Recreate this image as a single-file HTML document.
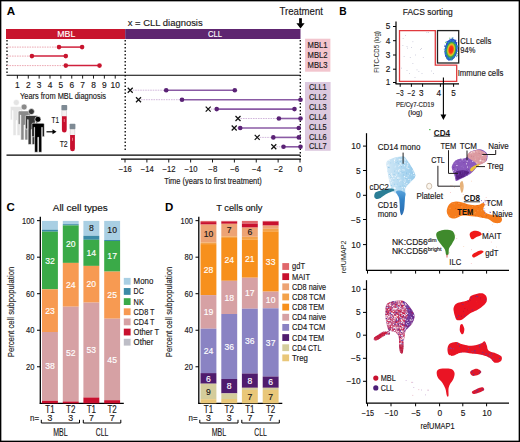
<!DOCTYPE html>
<html><head><meta charset="utf-8"><style>
html,body{margin:0;padding:0;background:#fff;}
svg{display:block;font-family:"Liberation Sans",sans-serif;}
</style></head><body>
<svg width="520" height="442" viewBox="0 0 520 442">
<rect x="0" y="0" width="520" height="442" fill="#fff"/>
<defs><linearGradient id="g14" x1="0" y1="0" x2="1" y2="0"><stop offset="0" stop-color="#d2e8f6"/><stop offset="0.5" stop-color="#b4daf1"/><stop offset="1" stop-color="#96caeb"/></linearGradient></defs>
<path d="M386.50,161.90 C387.42,160.10 390.22,159.10 392.70,158.20 C395.18,157.30 399.18,156.45 401.40,156.50 C403.62,156.55 403.70,155.50 406.00,158.50 C408.30,161.50 414.38,170.63 415.20,174.50 C416.02,178.37 412.53,179.45 410.90,181.70 C409.27,183.95 406.45,185.63 405.40,188.00 C404.35,190.37 406.58,195.23 404.60,195.90 C402.62,196.57 395.75,193.32 393.50,192.00 C391.25,190.68 391.90,190.25 391.10,188.00 C390.30,185.75 389.35,181.67 388.70,178.50 C388.05,175.33 387.57,171.77 387.20,169.00 C386.83,166.23 385.58,163.70 386.50,161.90 Z" fill="url(#g14)" fill-opacity="1.0"/>
<clipPath id="cl1"><path d="M386.50,161.90 C387.42,160.10 390.22,159.10 392.70,158.20 C395.18,157.30 399.18,156.45 401.40,156.50 C403.62,156.55 403.70,155.50 406.00,158.50 C408.30,161.50 414.38,170.63 415.20,174.50 C416.02,178.37 412.53,179.45 410.90,181.70 C409.27,183.95 406.45,185.63 405.40,188.00 C404.35,190.37 406.58,195.23 404.60,195.90 C402.62,196.57 395.75,193.32 393.50,192.00 C391.25,190.68 391.90,190.25 391.10,188.00 C390.30,185.75 389.35,181.67 388.70,178.50 C388.05,175.33 387.57,171.77 387.20,169.00 C386.83,166.23 385.58,163.70 386.50,161.90 Z"/></clipPath><g clip-path="url(#cl1)">
<rect x="413.7" y="172.1" width="0.9" height="0.9" fill="#e0f0fa"/>
<rect x="388.6" y="177.6" width="0.9" height="0.9" fill="#ffffff"/>
<rect x="403.2" y="192.3" width="0.9" height="0.9" fill="#e0f0fa"/>
<rect x="387.6" y="173.6" width="0.9" height="0.9" fill="#ffffff"/>
<rect x="393.4" y="178.2" width="0.9" height="0.9" fill="#ffffff"/>
<rect x="410.2" y="161.4" width="0.9" height="0.9" fill="#ffffff"/>
<rect x="404.6" y="179.5" width="0.9" height="0.9" fill="#ffffff"/>
<rect x="403.1" y="172.1" width="0.9" height="0.9" fill="#ffffff"/>
<rect x="387.8" y="190.3" width="0.9" height="0.9" fill="#ffffff"/>
<rect x="398.5" y="177.8" width="0.9" height="0.9" fill="#e0f0fa"/>
<rect x="395.4" y="188.7" width="0.9" height="0.9" fill="#a0d0ec"/>
<rect x="389.5" y="179.0" width="0.9" height="0.9" fill="#ffffff"/>
<rect x="397.2" y="178.1" width="0.9" height="0.9" fill="#ffffff"/>
<rect x="402.7" y="180.9" width="0.9" height="0.9" fill="#ffffff"/>
<rect x="406.0" y="173.3" width="0.9" height="0.9" fill="#8cc4e8"/>
<rect x="399.9" y="192.9" width="0.9" height="0.9" fill="#e0f0fa"/>
<rect x="395.1" y="187.8" width="0.9" height="0.9" fill="#e0f0fa"/>
<rect x="388.8" y="168.3" width="0.9" height="0.9" fill="#ffffff"/>
<rect x="411.6" y="185.2" width="0.9" height="0.9" fill="#8cc4e8"/>
<rect x="404.0" y="159.4" width="0.9" height="0.9" fill="#e0f0fa"/>
<rect x="398.5" y="186.3" width="0.9" height="0.9" fill="#a0d0ec"/>
<rect x="413.3" y="173.1" width="0.9" height="0.9" fill="#ffffff"/>
<rect x="408.4" y="179.1" width="0.9" height="0.9" fill="#ffffff"/>
<rect x="396.3" y="170.3" width="0.9" height="0.9" fill="#e0f0fa"/>
<rect x="403.1" y="174.5" width="0.9" height="0.9" fill="#8cc4e8"/>
<rect x="413.6" y="175.2" width="0.9" height="0.9" fill="#ffffff"/>
<rect x="388.2" y="184.1" width="0.9" height="0.9" fill="#ffffff"/>
<rect x="415.0" y="188.9" width="0.9" height="0.9" fill="#a0d0ec"/>
<rect x="407.1" y="191.4" width="0.9" height="0.9" fill="#e0f0fa"/>
<rect x="387.1" y="174.7" width="0.9" height="0.9" fill="#e0f0fa"/>
<rect x="404.0" y="176.0" width="0.9" height="0.9" fill="#ffffff"/>
<rect x="408.5" y="161.6" width="0.9" height="0.9" fill="#ffffff"/>
<rect x="397.9" y="192.6" width="0.9" height="0.9" fill="#ffffff"/>
<rect x="388.8" y="174.2" width="0.9" height="0.9" fill="#8cc4e8"/>
<rect x="394.5" y="161.9" width="0.9" height="0.9" fill="#a0d0ec"/>
<rect x="411.3" y="167.5" width="0.9" height="0.9" fill="#8cc4e8"/>
<rect x="414.8" y="183.4" width="0.9" height="0.9" fill="#8cc4e8"/>
<rect x="414.0" y="162.4" width="0.9" height="0.9" fill="#8cc4e8"/>
<rect x="390.8" y="182.4" width="0.9" height="0.9" fill="#ffffff"/>
<rect x="400.4" y="179.7" width="0.9" height="0.9" fill="#ffffff"/>
<rect x="394.6" y="162.2" width="0.9" height="0.9" fill="#e0f0fa"/>
<rect x="397.1" y="178.8" width="0.9" height="0.9" fill="#a0d0ec"/>
<rect x="406.3" y="176.8" width="0.9" height="0.9" fill="#ffffff"/>
<rect x="405.3" y="185.6" width="0.9" height="0.9" fill="#a0d0ec"/>
<rect x="412.3" y="187.2" width="0.9" height="0.9" fill="#8cc4e8"/>
<rect x="397.8" y="172.2" width="0.9" height="0.9" fill="#a0d0ec"/>
<rect x="400.3" y="172.3" width="0.9" height="0.9" fill="#ffffff"/>
<rect x="388.4" y="164.7" width="0.9" height="0.9" fill="#ffffff"/>
<rect x="389.7" y="180.2" width="0.9" height="0.9" fill="#ffffff"/>
<rect x="386.5" y="162.5" width="0.9" height="0.9" fill="#ffffff"/>
<rect x="413.7" y="180.7" width="0.9" height="0.9" fill="#ffffff"/>
<rect x="411.6" y="180.7" width="0.9" height="0.9" fill="#ffffff"/>
<rect x="404.7" y="194.1" width="0.9" height="0.9" fill="#ffffff"/>
<rect x="397.0" y="161.3" width="0.9" height="0.9" fill="#a0d0ec"/>
<rect x="415.0" y="174.9" width="0.9" height="0.9" fill="#8cc4e8"/>
<rect x="395.5" y="162.2" width="0.9" height="0.9" fill="#8cc4e8"/>
<rect x="407.7" y="175.4" width="0.9" height="0.9" fill="#e0f0fa"/>
<rect x="401.3" y="164.6" width="0.9" height="0.9" fill="#ffffff"/>
<rect x="396.9" y="183.7" width="0.9" height="0.9" fill="#a0d0ec"/>
<rect x="408.3" y="168.2" width="0.9" height="0.9" fill="#ffffff"/>
<rect x="406.5" y="166.8" width="0.9" height="0.9" fill="#ffffff"/>
<rect x="412.6" y="170.5" width="0.9" height="0.9" fill="#e0f0fa"/>
<rect x="401.8" y="187.2" width="0.9" height="0.9" fill="#ffffff"/>
<rect x="404.8" y="180.7" width="0.9" height="0.9" fill="#e0f0fa"/>
<rect x="409.6" y="188.7" width="0.9" height="0.9" fill="#ffffff"/>
<rect x="392.2" y="175.9" width="0.9" height="0.9" fill="#ffffff"/>
<rect x="414.9" y="187.6" width="0.9" height="0.9" fill="#ffffff"/>
<rect x="393.9" y="183.8" width="0.9" height="0.9" fill="#8cc4e8"/>
<rect x="399.3" y="193.4" width="0.9" height="0.9" fill="#e0f0fa"/>
<rect x="413.9" y="170.9" width="0.9" height="0.9" fill="#e0f0fa"/>
<rect x="389.4" y="175.0" width="0.9" height="0.9" fill="#ffffff"/>
<rect x="392.4" y="181.1" width="0.9" height="0.9" fill="#e0f0fa"/>
<rect x="410.6" y="175.4" width="0.9" height="0.9" fill="#a0d0ec"/>
<rect x="409.4" y="159.8" width="0.9" height="0.9" fill="#e0f0fa"/>
<rect x="412.6" y="187.3" width="0.9" height="0.9" fill="#ffffff"/>
<rect x="400.2" y="163.5" width="0.9" height="0.9" fill="#ffffff"/>
<rect x="389.0" y="193.8" width="0.9" height="0.9" fill="#e0f0fa"/>
<rect x="399.8" y="185.8" width="0.9" height="0.9" fill="#8cc4e8"/>
<rect x="407.3" y="163.2" width="0.9" height="0.9" fill="#ffffff"/>
<rect x="387.3" y="179.8" width="0.9" height="0.9" fill="#ffffff"/>
<rect x="409.6" y="162.3" width="0.9" height="0.9" fill="#8cc4e8"/>
<rect x="414.6" y="182.4" width="0.9" height="0.9" fill="#a0d0ec"/>
<rect x="391.0" y="178.1" width="0.9" height="0.9" fill="#e0f0fa"/>
<rect x="386.9" y="194.8" width="0.9" height="0.9" fill="#ffffff"/>
<rect x="401.6" y="193.3" width="0.9" height="0.9" fill="#ffffff"/>
<rect x="414.8" y="164.2" width="0.9" height="0.9" fill="#8cc4e8"/>
<rect x="387.3" y="164.9" width="0.9" height="0.9" fill="#ffffff"/>
<rect x="393.4" y="179.6" width="0.9" height="0.9" fill="#a0d0ec"/>
<rect x="402.1" y="189.4" width="0.9" height="0.9" fill="#e0f0fa"/>
<rect x="412.6" y="170.4" width="0.9" height="0.9" fill="#ffffff"/>
<rect x="405.5" y="188.6" width="0.9" height="0.9" fill="#8cc4e8"/>
<rect x="398.6" y="192.7" width="0.9" height="0.9" fill="#a0d0ec"/>
<rect x="390.3" y="162.5" width="0.9" height="0.9" fill="#a0d0ec"/>
<rect x="387.0" y="173.8" width="0.9" height="0.9" fill="#a0d0ec"/>
<rect x="404.0" y="187.1" width="0.9" height="0.9" fill="#ffffff"/>
<rect x="391.4" y="175.2" width="0.9" height="0.9" fill="#ffffff"/>
<rect x="402.5" y="169.3" width="0.9" height="0.9" fill="#ffffff"/>
<rect x="401.7" y="175.5" width="0.9" height="0.9" fill="#a0d0ec"/>
<rect x="411.8" y="158.7" width="0.9" height="0.9" fill="#ffffff"/>
<rect x="394.4" y="186.9" width="0.9" height="0.9" fill="#ffffff"/>
<rect x="399.5" y="157.6" width="0.9" height="0.9" fill="#a0d0ec"/>
<rect x="399.2" y="180.6" width="0.9" height="0.9" fill="#ffffff"/>
<rect x="403.9" y="164.4" width="0.9" height="0.9" fill="#a0d0ec"/>
<rect x="399.5" y="177.5" width="0.9" height="0.9" fill="#e0f0fa"/>
<rect x="401.1" y="166.3" width="0.9" height="0.9" fill="#8cc4e8"/>
<rect x="411.7" y="193.6" width="0.9" height="0.9" fill="#a0d0ec"/>
<rect x="413.0" y="191.7" width="0.9" height="0.9" fill="#e0f0fa"/>
<rect x="410.6" y="161.9" width="0.9" height="0.9" fill="#ffffff"/>
<rect x="397.8" y="168.9" width="0.9" height="0.9" fill="#ffffff"/>
<rect x="398.8" y="164.9" width="0.9" height="0.9" fill="#ffffff"/>
<rect x="409.0" y="191.8" width="0.9" height="0.9" fill="#e0f0fa"/>
<rect x="413.5" y="181.9" width="0.9" height="0.9" fill="#ffffff"/>
<rect x="390.6" y="191.3" width="0.9" height="0.9" fill="#e0f0fa"/>
<rect x="392.8" y="194.0" width="0.9" height="0.9" fill="#8cc4e8"/>
<rect x="411.9" y="162.9" width="0.9" height="0.9" fill="#8cc4e8"/>
<rect x="391.1" y="173.5" width="0.9" height="0.9" fill="#ffffff"/>
<rect x="398.1" y="173.1" width="0.9" height="0.9" fill="#a0d0ec"/>
<rect x="395.6" y="185.0" width="0.9" height="0.9" fill="#e0f0fa"/>
<rect x="396.2" y="174.6" width="0.9" height="0.9" fill="#ffffff"/>
<rect x="397.5" y="176.9" width="0.9" height="0.9" fill="#ffffff"/>
<rect x="401.2" y="159.0" width="0.9" height="0.9" fill="#e0f0fa"/>
<rect x="414.4" y="160.6" width="0.9" height="0.9" fill="#ffffff"/>
<rect x="394.3" y="192.2" width="0.9" height="0.9" fill="#e0f0fa"/>
<rect x="394.3" y="161.6" width="0.9" height="0.9" fill="#ffffff"/>
<rect x="410.9" y="183.1" width="0.9" height="0.9" fill="#8cc4e8"/>
<rect x="398.2" y="177.6" width="0.9" height="0.9" fill="#e0f0fa"/>
<rect x="402.9" y="184.1" width="0.9" height="0.9" fill="#a0d0ec"/>
<rect x="394.5" y="188.0" width="0.9" height="0.9" fill="#ffffff"/>
<rect x="398.7" y="159.4" width="0.9" height="0.9" fill="#ffffff"/>
<rect x="404.7" y="188.1" width="0.9" height="0.9" fill="#ffffff"/>
<rect x="404.0" y="165.3" width="0.9" height="0.9" fill="#ffffff"/>
<rect x="411.3" y="174.4" width="0.9" height="0.9" fill="#e0f0fa"/>
<rect x="415.0" y="173.0" width="0.9" height="0.9" fill="#e0f0fa"/>
<rect x="404.3" y="158.2" width="0.9" height="0.9" fill="#e0f0fa"/>
<rect x="413.4" y="194.7" width="0.9" height="0.9" fill="#ffffff"/>
<rect x="387.9" y="164.4" width="0.9" height="0.9" fill="#e0f0fa"/>
<rect x="404.5" y="177.4" width="0.9" height="0.9" fill="#e0f0fa"/>
<rect x="394.8" y="176.2" width="0.9" height="0.9" fill="#ffffff"/>
<rect x="394.3" y="188.2" width="0.9" height="0.9" fill="#ffffff"/>
<rect x="387.6" y="157.2" width="0.9" height="0.9" fill="#e0f0fa"/>
<rect x="402.3" y="164.0" width="0.9" height="0.9" fill="#a0d0ec"/>
<rect x="393.6" y="174.1" width="0.9" height="0.9" fill="#8cc4e8"/>
<rect x="405.3" y="178.0" width="0.9" height="0.9" fill="#8cc4e8"/>
<rect x="414.3" y="168.6" width="0.9" height="0.9" fill="#8cc4e8"/>
<rect x="414.7" y="170.0" width="0.9" height="0.9" fill="#ffffff"/>
<rect x="398.1" y="170.2" width="0.9" height="0.9" fill="#ffffff"/>
<rect x="410.5" y="157.1" width="0.9" height="0.9" fill="#ffffff"/>
<rect x="398.9" y="158.7" width="0.9" height="0.9" fill="#e0f0fa"/>
<rect x="411.5" y="182.9" width="0.9" height="0.9" fill="#8cc4e8"/>
<rect x="403.7" y="183.8" width="0.9" height="0.9" fill="#e0f0fa"/>
<rect x="399.7" y="162.7" width="0.9" height="0.9" fill="#ffffff"/>
<rect x="386.6" y="170.8" width="0.9" height="0.9" fill="#8cc4e8"/>
<rect x="414.4" y="178.1" width="0.9" height="0.9" fill="#e0f0fa"/>
<rect x="387.5" y="191.3" width="0.9" height="0.9" fill="#ffffff"/>
<rect x="396.7" y="156.5" width="0.9" height="0.9" fill="#ffffff"/>
<rect x="388.9" y="167.5" width="0.9" height="0.9" fill="#8cc4e8"/>
<rect x="393.6" y="187.1" width="0.9" height="0.9" fill="#ffffff"/>
<rect x="394.1" y="160.0" width="0.9" height="0.9" fill="#ffffff"/>
<rect x="403.3" y="172.0" width="0.9" height="0.9" fill="#8cc4e8"/>
<rect x="395.2" y="165.7" width="0.9" height="0.9" fill="#e0f0fa"/>
<rect x="414.0" y="190.1" width="0.9" height="0.9" fill="#a0d0ec"/>
<rect x="405.4" y="184.7" width="0.9" height="0.9" fill="#ffffff"/>
<rect x="397.7" y="169.3" width="0.9" height="0.9" fill="#a0d0ec"/>
<rect x="390.8" y="185.0" width="0.9" height="0.9" fill="#8cc4e8"/>
<rect x="387.8" y="189.4" width="0.9" height="0.9" fill="#ffffff"/>
<rect x="404.5" y="185.4" width="0.9" height="0.9" fill="#a0d0ec"/>
<rect x="390.5" y="177.1" width="0.9" height="0.9" fill="#a0d0ec"/>
<rect x="402.8" y="188.5" width="0.9" height="0.9" fill="#a0d0ec"/>
<rect x="410.2" y="179.5" width="0.9" height="0.9" fill="#ffffff"/>
<rect x="388.9" y="158.1" width="0.9" height="0.9" fill="#ffffff"/>
<rect x="414.0" y="171.3" width="0.9" height="0.9" fill="#e0f0fa"/>
<rect x="402.5" y="181.2" width="0.9" height="0.9" fill="#8cc4e8"/>
<rect x="406.0" y="175.8" width="0.9" height="0.9" fill="#a0d0ec"/>
<rect x="399.6" y="159.3" width="0.9" height="0.9" fill="#ffffff"/>
<rect x="412.3" y="160.1" width="0.9" height="0.9" fill="#a0d0ec"/>
<rect x="388.4" y="185.5" width="0.9" height="0.9" fill="#a0d0ec"/>
<rect x="409.7" y="189.8" width="0.9" height="0.9" fill="#e0f0fa"/>
<rect x="407.4" y="164.6" width="0.9" height="0.9" fill="#ffffff"/>
<rect x="400.7" y="171.6" width="0.9" height="0.9" fill="#8cc4e8"/>
<rect x="412.6" y="167.8" width="0.9" height="0.9" fill="#8cc4e8"/>
<rect x="404.2" y="181.8" width="0.9" height="0.9" fill="#ffffff"/>
<rect x="403.7" y="169.6" width="0.9" height="0.9" fill="#ffffff"/>
<rect x="404.3" y="161.8" width="0.9" height="0.9" fill="#e0f0fa"/>
<rect x="388.2" y="167.1" width="0.9" height="0.9" fill="#8cc4e8"/>
<rect x="406.4" y="183.1" width="0.9" height="0.9" fill="#ffffff"/>
<rect x="406.8" y="167.8" width="0.9" height="0.9" fill="#e0f0fa"/>
<rect x="399.9" y="161.2" width="0.9" height="0.9" fill="#8cc4e8"/>
<rect x="392.2" y="195.0" width="0.9" height="0.9" fill="#a0d0ec"/>
<rect x="387.0" y="174.6" width="0.9" height="0.9" fill="#8cc4e8"/>
<rect x="414.3" y="174.2" width="0.9" height="0.9" fill="#a0d0ec"/>
<rect x="397.6" y="192.6" width="0.9" height="0.9" fill="#e0f0fa"/>
<rect x="388.6" y="160.1" width="0.9" height="0.9" fill="#ffffff"/>
<rect x="394.0" y="170.7" width="0.9" height="0.9" fill="#a0d0ec"/>
<rect x="410.0" y="176.5" width="0.9" height="0.9" fill="#a0d0ec"/>
<rect x="406.7" y="165.6" width="0.9" height="0.9" fill="#ffffff"/>
<rect x="397.8" y="162.8" width="0.9" height="0.9" fill="#8cc4e8"/>
<rect x="406.1" y="172.5" width="0.9" height="0.9" fill="#8cc4e8"/>
<rect x="398.4" y="171.3" width="0.9" height="0.9" fill="#ffffff"/>
<rect x="410.6" y="156.6" width="0.9" height="0.9" fill="#ffffff"/>
<rect x="410.6" y="161.2" width="0.9" height="0.9" fill="#e0f0fa"/>
<rect x="407.0" y="192.0" width="0.9" height="0.9" fill="#ffffff"/>
<rect x="393.8" y="159.1" width="0.9" height="0.9" fill="#e0f0fa"/>
<rect x="415.2" y="179.7" width="0.9" height="0.9" fill="#8cc4e8"/>
<rect x="413.1" y="186.3" width="0.9" height="0.9" fill="#e0f0fa"/>
<rect x="394.6" y="158.5" width="0.9" height="0.9" fill="#ffffff"/>
<rect x="404.7" y="162.4" width="0.9" height="0.9" fill="#e0f0fa"/>
<rect x="399.0" y="168.9" width="0.9" height="0.9" fill="#e0f0fa"/>
<rect x="409.0" y="173.4" width="0.9" height="0.9" fill="#e0f0fa"/>
<rect x="409.8" y="181.4" width="0.9" height="0.9" fill="#ffffff"/>
<rect x="402.3" y="184.9" width="0.9" height="0.9" fill="#a0d0ec"/>
<rect x="413.3" y="172.7" width="0.9" height="0.9" fill="#ffffff"/>
<rect x="408.1" y="181.9" width="0.9" height="0.9" fill="#a0d0ec"/>
<rect x="400.4" y="192.4" width="0.9" height="0.9" fill="#e0f0fa"/>
<rect x="390.2" y="175.1" width="0.9" height="0.9" fill="#a0d0ec"/>
<rect x="394.6" y="166.6" width="0.9" height="0.9" fill="#e0f0fa"/>
<rect x="398.2" y="165.9" width="0.9" height="0.9" fill="#e0f0fa"/>
<rect x="402.5" y="172.0" width="0.9" height="0.9" fill="#8cc4e8"/>
<rect x="405.0" y="159.5" width="0.9" height="0.9" fill="#ffffff"/>
<rect x="412.5" y="176.1" width="0.9" height="0.9" fill="#a0d0ec"/>
<rect x="399.5" y="169.6" width="0.9" height="0.9" fill="#ffffff"/>
</g>
<path d="M376.10,192.00 C377.15,191.35 378.95,190.93 380.80,190.40 C382.65,189.87 385.22,189.07 387.20,188.80 C389.18,188.53 391.52,188.53 392.70,188.80 C393.88,189.07 394.97,189.75 394.30,190.40 C393.63,191.05 390.55,191.78 388.70,192.70 C386.85,193.62 384.65,194.97 383.20,195.90 C381.75,196.83 381.05,197.77 380.00,198.30 C378.95,198.83 377.82,199.23 376.90,199.10 C375.98,198.97 374.90,198.30 374.50,197.50 C374.10,196.70 374.23,195.22 374.50,194.30 C374.77,193.38 375.05,192.65 376.10,192.00 Z" fill="#2b7e96" fill-opacity="1.0"/>
<defs><linearGradient id="g16" x1="0" y1="0" x2="0" y2="1"><stop offset="0" stop-color="#5aa4dc"/><stop offset="0.4" stop-color="#3282c6"/><stop offset="1" stop-color="#2a6cb0"/></linearGradient></defs>
<path d="M396.00,191.50 C396.42,190.75 398.47,190.25 400.00,190.50 C401.53,190.75 404.37,191.75 405.20,193.00 C406.03,194.25 405.10,196.17 405.00,198.00 C404.90,199.83 404.73,202.17 404.60,204.00 C404.47,205.83 404.47,207.45 404.20,209.00 C403.93,210.55 403.47,212.27 403.00,213.30 C402.53,214.33 401.90,215.58 401.40,215.20 C400.90,214.82 400.28,212.87 400.00,211.00 C399.72,209.13 399.87,206.17 399.70,204.00 C399.53,201.83 399.37,199.50 399.00,198.00 C398.63,196.50 398.00,196.08 397.50,195.00 C397.00,193.92 395.58,192.25 396.00,191.50 Z" fill="url(#g16)" fill-opacity="1.0"/>
<path d="M452.22,165.16 C452.61,164.17 453.06,162.93 454.16,161.92 C455.26,160.91 456.81,159.81 458.80,159.11 C460.80,158.41 464.29,158.88 466.15,157.71 C468.00,156.54 468.52,153.33 469.93,152.09 C471.33,150.85 472.88,150.72 474.57,150.25 C476.26,149.79 478.39,149.12 480.08,149.28 C481.77,149.44 483.48,150.29 484.72,151.23 C485.97,152.16 487.21,153.35 487.53,154.90 C487.86,156.45 487.44,159.13 486.67,160.51 C485.89,161.90 484.29,162.44 482.89,163.21 C481.48,163.99 479.63,164.06 478.24,165.16 C476.86,166.26 475.81,168.42 474.57,169.80 C473.33,171.19 472.20,172.39 470.79,173.47 C469.39,174.55 467.84,175.35 466.15,176.28 C464.46,177.22 462.33,178.32 460.64,179.09 C458.95,179.86 456.93,181.25 456.00,180.93 C455.06,180.60 455.49,178.53 455.02,177.15 C454.56,175.76 453.73,174.16 453.19,172.61 C452.65,171.06 451.95,169.10 451.78,167.86 C451.62,166.62 451.82,166.15 452.22,165.16 Z" fill="#8a58bc" fill-opacity="1.0"/>
<clipPath id="cl2"><path d="M452.22,165.16 C452.61,164.17 453.06,162.93 454.16,161.92 C455.26,160.91 456.81,159.81 458.80,159.11 C460.80,158.41 464.29,158.88 466.15,157.71 C468.00,156.54 468.52,153.33 469.93,152.09 C471.33,150.85 472.88,150.72 474.57,150.25 C476.26,149.79 478.39,149.12 480.08,149.28 C481.77,149.44 483.48,150.29 484.72,151.23 C485.97,152.16 487.21,153.35 487.53,154.90 C487.86,156.45 487.44,159.13 486.67,160.51 C485.89,161.90 484.29,162.44 482.89,163.21 C481.48,163.99 479.63,164.06 478.24,165.16 C476.86,166.26 475.81,168.42 474.57,169.80 C473.33,171.19 472.20,172.39 470.79,173.47 C469.39,174.55 467.84,175.35 466.15,176.28 C464.46,177.22 462.33,178.32 460.64,179.09 C458.95,179.86 456.93,181.25 456.00,180.93 C455.06,180.60 455.49,178.53 455.02,177.15 C454.56,175.76 453.73,174.16 453.19,172.61 C452.65,171.06 451.95,169.10 451.78,167.86 C451.62,166.62 451.82,166.15 452.22,165.16 Z"/></clipPath><g clip-path="url(#cl2)">
<rect x="467.1" y="166.6" width="0.9" height="0.9" fill="#ffffff"/>
<rect x="455.0" y="160.1" width="0.9" height="0.9" fill="#7040a8"/>
<rect x="463.2" y="160.9" width="0.9" height="0.9" fill="#9a70c8"/>
<rect x="483.5" y="173.0" width="0.9" height="0.9" fill="#7040a8"/>
<rect x="465.5" y="172.9" width="0.9" height="0.9" fill="#ffffff"/>
<rect x="465.3" y="160.0" width="0.9" height="0.9" fill="#7040a8"/>
<rect x="469.6" y="167.5" width="0.9" height="0.9" fill="#9a70c8"/>
<rect x="456.3" y="165.2" width="0.9" height="0.9" fill="#a884d4"/>
<rect x="455.1" y="177.7" width="0.9" height="0.9" fill="#7040a8"/>
<rect x="466.1" y="163.4" width="0.9" height="0.9" fill="#ffffff"/>
<rect x="482.1" y="176.9" width="0.9" height="0.9" fill="#a884d4"/>
<rect x="456.3" y="162.7" width="0.9" height="0.9" fill="#9a70c8"/>
<rect x="486.4" y="164.8" width="0.9" height="0.9" fill="#ffffff"/>
<rect x="465.8" y="178.6" width="0.9" height="0.9" fill="#9a70c8"/>
<rect x="486.5" y="157.1" width="0.9" height="0.9" fill="#ffffff"/>
<rect x="459.8" y="154.1" width="0.9" height="0.9" fill="#9a70c8"/>
<rect x="485.4" y="172.1" width="0.9" height="0.9" fill="#9a70c8"/>
<rect x="454.8" y="173.9" width="0.9" height="0.9" fill="#ffffff"/>
<rect x="479.7" y="156.6" width="0.9" height="0.9" fill="#9a70c8"/>
<rect x="474.9" y="158.9" width="0.9" height="0.9" fill="#9a70c8"/>
<rect x="474.2" y="166.0" width="0.9" height="0.9" fill="#7040a8"/>
<rect x="476.8" y="152.8" width="0.9" height="0.9" fill="#ffffff"/>
<rect x="462.5" y="179.1" width="0.9" height="0.9" fill="#9a70c8"/>
<rect x="465.7" y="156.4" width="0.9" height="0.9" fill="#7040a8"/>
<rect x="452.2" y="158.8" width="0.9" height="0.9" fill="#9a70c8"/>
<rect x="461.7" y="159.3" width="0.9" height="0.9" fill="#ffffff"/>
<rect x="468.8" y="156.7" width="0.9" height="0.9" fill="#7040a8"/>
<rect x="452.8" y="162.3" width="0.9" height="0.9" fill="#7040a8"/>
<rect x="453.8" y="155.4" width="0.9" height="0.9" fill="#a884d4"/>
<rect x="454.7" y="156.5" width="0.9" height="0.9" fill="#ffffff"/>
<rect x="484.9" y="156.5" width="0.9" height="0.9" fill="#ffffff"/>
<rect x="476.7" y="172.0" width="0.9" height="0.9" fill="#9a70c8"/>
<rect x="476.2" y="155.5" width="0.9" height="0.9" fill="#a884d4"/>
<rect x="478.2" y="165.3" width="0.9" height="0.9" fill="#a884d4"/>
<rect x="469.5" y="155.6" width="0.9" height="0.9" fill="#7040a8"/>
<rect x="460.0" y="156.3" width="0.9" height="0.9" fill="#7040a8"/>
<rect x="455.7" y="169.0" width="0.9" height="0.9" fill="#a884d4"/>
<rect x="483.8" y="164.6" width="0.9" height="0.9" fill="#7040a8"/>
<rect x="485.7" y="153.9" width="0.9" height="0.9" fill="#9a70c8"/>
<rect x="453.7" y="150.0" width="0.9" height="0.9" fill="#ffffff"/>
<rect x="466.6" y="171.7" width="0.9" height="0.9" fill="#7040a8"/>
<rect x="465.8" y="177.7" width="0.9" height="0.9" fill="#7040a8"/>
<rect x="478.0" y="180.8" width="0.9" height="0.9" fill="#a884d4"/>
<rect x="463.6" y="155.2" width="0.9" height="0.9" fill="#7040a8"/>
<rect x="452.9" y="170.3" width="0.9" height="0.9" fill="#ffffff"/>
<rect x="481.8" y="180.4" width="0.9" height="0.9" fill="#ffffff"/>
<rect x="457.8" y="149.4" width="0.9" height="0.9" fill="#ffffff"/>
<rect x="454.7" y="162.6" width="0.9" height="0.9" fill="#a884d4"/>
<rect x="471.8" y="173.3" width="0.9" height="0.9" fill="#9a70c8"/>
<rect x="464.5" y="175.3" width="0.9" height="0.9" fill="#ffffff"/>
<rect x="454.9" y="171.6" width="0.9" height="0.9" fill="#ffffff"/>
<rect x="465.1" y="178.4" width="0.9" height="0.9" fill="#7040a8"/>
<rect x="463.3" y="172.6" width="0.9" height="0.9" fill="#7040a8"/>
<rect x="452.9" y="162.3" width="0.9" height="0.9" fill="#ffffff"/>
<rect x="453.2" y="150.4" width="0.9" height="0.9" fill="#ffffff"/>
<rect x="480.5" y="151.2" width="0.9" height="0.9" fill="#9a70c8"/>
<rect x="478.5" y="177.7" width="0.9" height="0.9" fill="#7040a8"/>
<rect x="464.8" y="159.9" width="0.9" height="0.9" fill="#a884d4"/>
<rect x="461.2" y="172.0" width="0.9" height="0.9" fill="#9a70c8"/>
<rect x="484.8" y="158.7" width="0.9" height="0.9" fill="#a884d4"/>
<rect x="452.7" y="156.7" width="0.9" height="0.9" fill="#9a70c8"/>
<rect x="477.4" y="164.0" width="0.9" height="0.9" fill="#ffffff"/>
<rect x="480.0" y="178.2" width="0.9" height="0.9" fill="#ffffff"/>
<rect x="456.5" y="165.0" width="0.9" height="0.9" fill="#ffffff"/>
<rect x="480.5" y="172.6" width="0.9" height="0.9" fill="#9a70c8"/>
<rect x="473.5" y="159.7" width="0.9" height="0.9" fill="#7040a8"/>
<rect x="468.3" y="174.1" width="0.9" height="0.9" fill="#a884d4"/>
<rect x="470.1" y="161.7" width="0.9" height="0.9" fill="#9a70c8"/>
<rect x="460.6" y="151.3" width="0.9" height="0.9" fill="#7040a8"/>
<rect x="469.0" y="166.5" width="0.9" height="0.9" fill="#9a70c8"/>
<rect x="486.8" y="177.2" width="0.9" height="0.9" fill="#7040a8"/>
<rect x="461.3" y="151.9" width="0.9" height="0.9" fill="#9a70c8"/>
<rect x="466.8" y="180.6" width="0.9" height="0.9" fill="#9a70c8"/>
<rect x="458.0" y="153.5" width="0.9" height="0.9" fill="#ffffff"/>
<rect x="474.0" y="170.6" width="0.9" height="0.9" fill="#ffffff"/>
<rect x="479.7" y="158.6" width="0.9" height="0.9" fill="#9a70c8"/>
<rect x="472.0" y="161.1" width="0.9" height="0.9" fill="#a884d4"/>
<rect x="458.9" y="157.1" width="0.9" height="0.9" fill="#a884d4"/>
<rect x="460.2" y="158.2" width="0.9" height="0.9" fill="#7040a8"/>
<rect x="463.4" y="161.8" width="0.9" height="0.9" fill="#7040a8"/>
<rect x="469.9" y="156.6" width="0.9" height="0.9" fill="#7040a8"/>
<rect x="475.1" y="180.6" width="0.9" height="0.9" fill="#9a70c8"/>
<rect x="451.9" y="177.2" width="0.9" height="0.9" fill="#9a70c8"/>
<rect x="481.8" y="178.2" width="0.9" height="0.9" fill="#7040a8"/>
<rect x="483.1" y="156.7" width="0.9" height="0.9" fill="#9a70c8"/>
<rect x="458.6" y="180.1" width="0.9" height="0.9" fill="#9a70c8"/>
<rect x="485.0" y="161.1" width="0.9" height="0.9" fill="#7040a8"/>
<rect x="467.8" y="157.5" width="0.9" height="0.9" fill="#7040a8"/>
<rect x="455.6" y="168.1" width="0.9" height="0.9" fill="#9a70c8"/>
<rect x="459.6" y="160.9" width="0.9" height="0.9" fill="#a884d4"/>
<rect x="453.4" y="180.9" width="0.9" height="0.9" fill="#7040a8"/>
<rect x="473.2" y="169.9" width="0.9" height="0.9" fill="#9a70c8"/>
<rect x="480.9" y="175.2" width="0.9" height="0.9" fill="#7040a8"/>
<rect x="476.0" y="155.1" width="0.9" height="0.9" fill="#ffffff"/>
<rect x="454.6" y="150.3" width="0.9" height="0.9" fill="#a884d4"/>
<rect x="471.4" y="151.3" width="0.9" height="0.9" fill="#ffffff"/>
<rect x="480.2" y="170.3" width="0.9" height="0.9" fill="#9a70c8"/>
<rect x="474.6" y="152.2" width="0.9" height="0.9" fill="#7040a8"/>
<rect x="466.0" y="157.9" width="0.9" height="0.9" fill="#7040a8"/>
<rect x="475.7" y="162.5" width="0.9" height="0.9" fill="#a884d4"/>
<rect x="462.9" y="167.2" width="0.9" height="0.9" fill="#9a70c8"/>
<rect x="466.6" y="149.9" width="0.9" height="0.9" fill="#a884d4"/>
<rect x="474.8" y="161.6" width="0.9" height="0.9" fill="#a884d4"/>
<rect x="459.1" y="149.5" width="0.9" height="0.9" fill="#ffffff"/>
<rect x="466.9" y="175.2" width="0.9" height="0.9" fill="#7040a8"/>
<rect x="472.4" y="160.8" width="0.9" height="0.9" fill="#ffffff"/>
<rect x="456.4" y="150.9" width="0.9" height="0.9" fill="#7040a8"/>
<rect x="474.7" y="178.1" width="0.9" height="0.9" fill="#7040a8"/>
<rect x="472.3" y="178.6" width="0.9" height="0.9" fill="#9a70c8"/>
<rect x="457.0" y="158.2" width="0.9" height="0.9" fill="#7040a8"/>
<rect x="484.9" y="152.7" width="0.9" height="0.9" fill="#7040a8"/>
<rect x="478.7" y="174.3" width="0.9" height="0.9" fill="#ffffff"/>
<rect x="462.6" y="175.8" width="0.9" height="0.9" fill="#7040a8"/>
<rect x="486.7" y="164.6" width="0.9" height="0.9" fill="#9a70c8"/>
<rect x="473.5" y="169.4" width="0.9" height="0.9" fill="#9a70c8"/>
<rect x="484.1" y="168.9" width="0.9" height="0.9" fill="#9a70c8"/>
<rect x="474.7" y="176.4" width="0.9" height="0.9" fill="#7040a8"/>
<rect x="473.8" y="155.5" width="0.9" height="0.9" fill="#ffffff"/>
<rect x="458.3" y="156.2" width="0.9" height="0.9" fill="#ffffff"/>
<rect x="485.3" y="154.2" width="0.9" height="0.9" fill="#ffffff"/>
<rect x="456.2" y="157.1" width="0.9" height="0.9" fill="#a884d4"/>
<rect x="453.3" y="167.1" width="0.9" height="0.9" fill="#7040a8"/>
<rect x="475.7" y="159.5" width="0.9" height="0.9" fill="#9a70c8"/>
<rect x="473.2" y="166.7" width="0.9" height="0.9" fill="#ffffff"/>
<rect x="475.0" y="159.0" width="0.9" height="0.9" fill="#a884d4"/>
<rect x="467.0" y="170.1" width="0.9" height="0.9" fill="#7040a8"/>
<rect x="469.8" y="154.9" width="0.9" height="0.9" fill="#ffffff"/>
<rect x="473.9" y="164.8" width="0.9" height="0.9" fill="#9a70c8"/>
<rect x="467.8" y="168.9" width="0.9" height="0.9" fill="#7040a8"/>
<rect x="481.7" y="174.9" width="0.9" height="0.9" fill="#ffffff"/>
<rect x="455.6" y="153.3" width="0.9" height="0.9" fill="#ffffff"/>
<rect x="464.8" y="174.7" width="0.9" height="0.9" fill="#ffffff"/>
<rect x="453.2" y="153.4" width="0.9" height="0.9" fill="#9a70c8"/>
<rect x="479.6" y="165.5" width="0.9" height="0.9" fill="#a884d4"/>
<rect x="478.7" y="177.6" width="0.9" height="0.9" fill="#9a70c8"/>
<rect x="452.7" y="151.4" width="0.9" height="0.9" fill="#7040a8"/>
<rect x="458.7" y="180.3" width="0.9" height="0.9" fill="#9a70c8"/>
<rect x="462.1" y="174.9" width="0.9" height="0.9" fill="#ffffff"/>
<rect x="476.3" y="172.1" width="0.9" height="0.9" fill="#7040a8"/>
<rect x="454.1" y="160.4" width="0.9" height="0.9" fill="#7040a8"/>
<rect x="457.5" y="177.7" width="0.9" height="0.9" fill="#a884d4"/>
<rect x="484.1" y="163.7" width="0.9" height="0.9" fill="#a884d4"/>
<rect x="469.7" y="178.4" width="0.9" height="0.9" fill="#a884d4"/>
<rect x="472.9" y="168.8" width="0.9" height="0.9" fill="#7040a8"/>
<rect x="463.2" y="150.4" width="0.9" height="0.9" fill="#7040a8"/>
<rect x="466.2" y="169.4" width="0.9" height="0.9" fill="#7040a8"/>
<rect x="476.1" y="177.6" width="0.9" height="0.9" fill="#a884d4"/>
<rect x="480.1" y="157.6" width="0.9" height="0.9" fill="#7040a8"/>
<rect x="474.5" y="160.7" width="0.9" height="0.9" fill="#9a70c8"/>
<rect x="471.6" y="167.6" width="0.9" height="0.9" fill="#ffffff"/>
<rect x="460.8" y="166.2" width="0.9" height="0.9" fill="#9a70c8"/>
<rect x="478.2" y="161.0" width="0.9" height="0.9" fill="#ffffff"/>
<rect x="487.2" y="167.6" width="0.9" height="0.9" fill="#ffffff"/>
<rect x="463.6" y="151.9" width="0.9" height="0.9" fill="#a884d4"/>
<rect x="458.1" y="172.8" width="0.9" height="0.9" fill="#7040a8"/>
<rect x="462.4" y="165.6" width="0.9" height="0.9" fill="#9a70c8"/>
<rect x="474.6" y="180.4" width="0.9" height="0.9" fill="#a884d4"/>
<rect x="478.0" y="172.9" width="0.9" height="0.9" fill="#a884d4"/>
<rect x="457.1" y="168.8" width="0.9" height="0.9" fill="#7040a8"/>
<rect x="466.7" y="160.8" width="0.9" height="0.9" fill="#ffffff"/>
</g>
<path d="M469.14,152.69 C470.24,151.76 472.09,151.32 473.79,150.86 C475.48,150.39 477.60,149.72 479.29,149.88 C480.99,150.05 482.70,150.89 483.94,151.83 C485.18,152.76 486.42,153.95 486.75,155.50 C487.07,157.05 486.66,159.73 485.88,161.12 C485.11,162.50 483.34,163.17 482.10,163.82 C480.86,164.46 479.83,165.42 478.43,165.00 C477.03,164.59 475.55,162.75 473.68,161.33 C471.81,159.91 467.95,157.91 467.20,156.47 C466.44,155.03 468.04,153.63 469.14,152.69 Z" fill="#dc9aa0" fill-opacity="1.0"/>
<clipPath id="cl3"><path d="M469.14,152.69 C470.24,151.76 472.09,151.32 473.79,150.86 C475.48,150.39 477.60,149.72 479.29,149.88 C480.99,150.05 482.70,150.89 483.94,151.83 C485.18,152.76 486.42,153.95 486.75,155.50 C487.07,157.05 486.66,159.73 485.88,161.12 C485.11,162.50 483.34,163.17 482.10,163.82 C480.86,164.46 479.83,165.42 478.43,165.00 C477.03,164.59 475.55,162.75 473.68,161.33 C471.81,159.91 467.95,157.91 467.20,156.47 C466.44,155.03 468.04,153.63 469.14,152.69 Z"/></clipPath><g clip-path="url(#cl3)">
<rect x="469.8" y="153.3" width="0.9" height="0.9" fill="#e8b8bc"/>
<rect x="468.1" y="150.7" width="0.9" height="0.9" fill="#ffffff"/>
<rect x="474.1" y="151.5" width="0.9" height="0.9" fill="#ffffff"/>
<rect x="477.6" y="156.1" width="0.9" height="0.9" fill="#c88090"/>
<rect x="478.7" y="153.0" width="0.9" height="0.9" fill="#c88090"/>
<rect x="483.4" y="152.3" width="0.9" height="0.9" fill="#ffffff"/>
<rect x="485.5" y="153.6" width="0.9" height="0.9" fill="#e8b8bc"/>
<rect x="476.0" y="150.8" width="0.9" height="0.9" fill="#e8b8bc"/>
<rect x="484.2" y="161.7" width="0.9" height="0.9" fill="#e8b8bc"/>
<rect x="483.1" y="164.5" width="0.9" height="0.9" fill="#c88090"/>
<rect x="479.8" y="158.4" width="0.9" height="0.9" fill="#e8b8bc"/>
<rect x="478.8" y="158.6" width="0.9" height="0.9" fill="#c88090"/>
<rect x="485.5" y="161.0" width="0.9" height="0.9" fill="#ffffff"/>
<rect x="470.4" y="149.9" width="0.9" height="0.9" fill="#e8b8bc"/>
<rect x="477.6" y="156.0" width="0.9" height="0.9" fill="#e8b8bc"/>
<rect x="470.3" y="163.7" width="0.9" height="0.9" fill="#e8b8bc"/>
<rect x="467.4" y="158.2" width="0.9" height="0.9" fill="#e8b8bc"/>
<rect x="470.0" y="152.9" width="0.9" height="0.9" fill="#e8b8bc"/>
<rect x="479.8" y="159.7" width="0.9" height="0.9" fill="#ffffff"/>
<rect x="483.1" y="152.5" width="0.9" height="0.9" fill="#c88090"/>
<rect x="468.4" y="159.3" width="0.9" height="0.9" fill="#c88090"/>
<rect x="482.5" y="160.7" width="0.9" height="0.9" fill="#ffffff"/>
<rect x="474.5" y="156.5" width="0.9" height="0.9" fill="#e8b8bc"/>
<rect x="468.8" y="159.8" width="0.9" height="0.9" fill="#c88090"/>
<rect x="471.6" y="151.5" width="0.9" height="0.9" fill="#e8b8bc"/>
<rect x="479.8" y="151.7" width="0.9" height="0.9" fill="#e8b8bc"/>
<rect x="485.3" y="164.1" width="0.9" height="0.9" fill="#ffffff"/>
<rect x="481.1" y="153.9" width="0.9" height="0.9" fill="#c88090"/>
<rect x="480.5" y="160.3" width="0.9" height="0.9" fill="#ffffff"/>
<rect x="486.2" y="154.4" width="0.9" height="0.9" fill="#ffffff"/>
<rect x="468.9" y="157.6" width="0.9" height="0.9" fill="#e8b8bc"/>
<rect x="472.3" y="153.5" width="0.9" height="0.9" fill="#e8b8bc"/>
<rect x="471.2" y="152.3" width="0.9" height="0.9" fill="#ffffff"/>
<rect x="471.0" y="155.8" width="0.9" height="0.9" fill="#c88090"/>
<rect x="471.9" y="163.6" width="0.9" height="0.9" fill="#ffffff"/>
<rect x="485.2" y="164.7" width="0.9" height="0.9" fill="#ffffff"/>
<rect x="476.4" y="162.6" width="0.9" height="0.9" fill="#ffffff"/>
<rect x="467.3" y="150.3" width="0.9" height="0.9" fill="#ffffff"/>
<rect x="471.8" y="163.3" width="0.9" height="0.9" fill="#ffffff"/>
<rect x="474.9" y="158.7" width="0.9" height="0.9" fill="#e8b8bc"/>
<rect x="485.0" y="152.1" width="0.9" height="0.9" fill="#ffffff"/>
<rect x="469.4" y="159.3" width="0.9" height="0.9" fill="#e8b8bc"/>
<rect x="473.9" y="152.0" width="0.9" height="0.9" fill="#e8b8bc"/>
<rect x="467.8" y="152.0" width="0.9" height="0.9" fill="#e8b8bc"/>
<rect x="479.6" y="160.4" width="0.9" height="0.9" fill="#ffffff"/>
<rect x="468.1" y="162.8" width="0.9" height="0.9" fill="#ffffff"/>
<rect x="471.1" y="164.3" width="0.9" height="0.9" fill="#c88090"/>
<rect x="484.6" y="150.9" width="0.9" height="0.9" fill="#ffffff"/>
<rect x="485.7" y="151.5" width="0.9" height="0.9" fill="#ffffff"/>
<rect x="471.2" y="150.4" width="0.9" height="0.9" fill="#e8b8bc"/>
<rect x="468.9" y="161.2" width="0.9" height="0.9" fill="#ffffff"/>
<rect x="472.8" y="151.4" width="0.9" height="0.9" fill="#ffffff"/>
<rect x="482.7" y="159.7" width="0.9" height="0.9" fill="#e8b8bc"/>
<rect x="473.4" y="156.3" width="0.9" height="0.9" fill="#c88090"/>
<rect x="474.1" y="163.9" width="0.9" height="0.9" fill="#e8b8bc"/>
<rect x="481.2" y="155.4" width="0.9" height="0.9" fill="#e8b8bc"/>
<rect x="482.2" y="159.0" width="0.9" height="0.9" fill="#c88090"/>
<rect x="483.8" y="159.2" width="0.9" height="0.9" fill="#c88090"/>
<rect x="482.6" y="150.4" width="0.9" height="0.9" fill="#e8b8bc"/>
<rect x="482.3" y="155.1" width="0.9" height="0.9" fill="#ffffff"/>
<rect x="468.1" y="158.4" width="0.9" height="0.9" fill="#ffffff"/>
<rect x="484.1" y="151.3" width="0.9" height="0.9" fill="#ffffff"/>
<rect x="470.5" y="149.9" width="0.9" height="0.9" fill="#c88090"/>
<rect x="472.8" y="161.2" width="0.9" height="0.9" fill="#e8b8bc"/>
<rect x="467.3" y="157.3" width="0.9" height="0.9" fill="#e8b8bc"/>
<rect x="480.8" y="162.4" width="0.9" height="0.9" fill="#c88090"/>
<rect x="478.8" y="164.4" width="0.9" height="0.9" fill="#c88090"/>
<rect x="472.3" y="164.2" width="0.9" height="0.9" fill="#ffffff"/>
<rect x="483.1" y="164.1" width="0.9" height="0.9" fill="#c88090"/>
<rect x="476.9" y="151.5" width="0.9" height="0.9" fill="#e8b8bc"/>
</g>
<path d="M455.20,172.00 C456.35,171.00 460.62,170.20 462.90,170.20 C465.18,170.20 468.33,171.13 468.90,172.00 C469.47,172.87 467.58,174.40 466.30,175.40 C465.02,176.40 462.77,177.28 461.20,178.00 C459.63,178.72 457.77,180.00 456.90,179.70 C456.03,179.40 456.28,177.48 456.00,176.20 C455.72,174.92 454.05,173.00 455.20,172.00 Z" fill="#5a2488" fill-opacity="1.0"/>
<clipPath id="cl4"><path d="M455.20,172.00 C456.35,171.00 460.62,170.20 462.90,170.20 C465.18,170.20 468.33,171.13 468.90,172.00 C469.47,172.87 467.58,174.40 466.30,175.40 C465.02,176.40 462.77,177.28 461.20,178.00 C459.63,178.72 457.77,180.00 456.90,179.70 C456.03,179.40 456.28,177.48 456.00,176.20 C455.72,174.92 454.05,173.00 455.20,172.00 Z"/></clipPath><g clip-path="url(#cl4)">
<rect x="461.9" y="179.6" width="0.9" height="0.9" fill="#4a1a70"/>
<rect x="463.8" y="173.6" width="0.9" height="0.9" fill="#4a1a70"/>
<rect x="467.9" y="178.7" width="0.9" height="0.9" fill="#7040a8"/>
<rect x="461.0" y="176.3" width="0.9" height="0.9" fill="#4a1a70"/>
<rect x="458.0" y="172.7" width="0.9" height="0.9" fill="#7040a8"/>
<rect x="460.4" y="178.6" width="0.9" height="0.9" fill="#4a1a70"/>
<rect x="468.1" y="171.4" width="0.9" height="0.9" fill="#4a1a70"/>
<rect x="460.0" y="173.3" width="0.9" height="0.9" fill="#4a1a70"/>
<rect x="467.1" y="174.5" width="0.9" height="0.9" fill="#4a1a70"/>
<rect x="457.5" y="174.4" width="0.9" height="0.9" fill="#7040a8"/>
<rect x="463.1" y="171.4" width="0.9" height="0.9" fill="#7040a8"/>
<rect x="464.0" y="176.8" width="0.9" height="0.9" fill="#7040a8"/>
<rect x="458.9" y="177.4" width="0.9" height="0.9" fill="#4a1a70"/>
<rect x="465.1" y="179.5" width="0.9" height="0.9" fill="#4a1a70"/>
<rect x="463.5" y="173.5" width="0.9" height="0.9" fill="#7040a8"/>
<rect x="459.7" y="172.0" width="0.9" height="0.9" fill="#4a1a70"/>
<rect x="457.5" y="176.5" width="0.9" height="0.9" fill="#4a1a70"/>
<rect x="460.5" y="179.5" width="0.9" height="0.9" fill="#4a1a70"/>
<rect x="465.2" y="174.3" width="0.9" height="0.9" fill="#7040a8"/>
<rect x="456.7" y="178.9" width="0.9" height="0.9" fill="#4a1a70"/>
<rect x="458.0" y="173.9" width="0.9" height="0.9" fill="#7040a8"/>
<rect x="455.4" y="178.3" width="0.9" height="0.9" fill="#4a1a70"/>
<rect x="464.7" y="175.0" width="0.9" height="0.9" fill="#7040a8"/>
<rect x="461.5" y="171.5" width="0.9" height="0.9" fill="#7040a8"/>
<rect x="455.3" y="172.5" width="0.9" height="0.9" fill="#7040a8"/>
<rect x="464.8" y="175.8" width="0.9" height="0.9" fill="#7040a8"/>
<rect x="466.8" y="176.5" width="0.9" height="0.9" fill="#7040a8"/>
<rect x="464.5" y="176.3" width="0.9" height="0.9" fill="#4a1a70"/>
<rect x="461.1" y="172.7" width="0.9" height="0.9" fill="#7040a8"/>
<rect x="467.5" y="172.5" width="0.9" height="0.9" fill="#4a1a70"/>
</g>
<path d="M470.60,168.50 C471.47,167.50 474.28,165.88 475.80,165.10 C477.32,164.32 479.20,163.73 479.70,163.80 C480.20,163.87 479.60,164.72 478.80,165.50 C478.00,166.28 475.97,167.57 474.90,168.50 C473.83,169.43 473.12,170.67 472.40,171.10 C471.68,171.53 470.90,171.53 470.60,171.10 C470.30,170.67 469.73,169.50 470.60,168.50 Z" fill="#e8c23a" fill-opacity="1.0"/>
<path d="M460.50,182.30 C460.92,181.68 461.87,180.48 462.40,181.10 C462.93,181.72 463.60,184.35 463.70,186.00 C463.80,187.65 463.32,189.85 463.00,191.00 C462.68,192.15 462.22,193.10 461.80,192.90 C461.38,192.70 460.82,191.15 460.50,189.80 C460.18,188.45 459.90,186.05 459.90,184.80 C459.90,183.55 460.08,182.92 460.50,182.30 Z" fill="#e6b27a" fill-opacity="1.0"/>
<path d="M447.90,206.50 C448.57,204.98 449.47,203.73 450.80,202.90 C452.13,202.07 454.10,201.62 455.90,201.50 C457.70,201.38 459.45,201.72 461.60,202.20 C463.75,202.68 466.15,203.92 468.80,204.40 C471.45,204.88 475.08,205.35 477.50,205.10 C479.92,204.85 482.10,202.90 483.30,202.90 C484.50,202.90 484.70,204.02 484.70,205.10 C484.70,206.18 482.82,207.95 483.30,209.40 C483.78,210.85 485.68,212.83 487.60,213.80 C489.52,214.77 492.63,214.73 494.80,215.20 C496.97,215.67 499.40,215.77 500.60,216.60 C501.80,217.43 502.25,219.12 502.00,220.20 C501.75,221.28 500.53,222.73 499.10,223.10 C497.67,223.47 495.32,223.12 493.40,222.40 C491.48,221.68 489.77,219.63 487.60,218.80 C485.43,217.97 482.57,217.77 480.40,217.40 C478.23,217.03 476.53,216.85 474.60,216.60 C472.67,216.35 470.97,216.03 468.80,215.90 C466.63,215.77 463.90,215.37 461.60,215.80 C459.30,216.23 457.02,218.27 455.00,218.50 C452.98,218.73 450.87,218.28 449.50,217.20 C448.13,216.12 447.07,213.78 446.80,212.00 C446.53,210.22 447.23,208.02 447.90,206.50 Z" fill="#f57c1c" fill-opacity="1.0"/>
<clipPath id="cl5"><path d="M447.90,206.50 C448.57,204.98 449.47,203.73 450.80,202.90 C452.13,202.07 454.10,201.62 455.90,201.50 C457.70,201.38 459.45,201.72 461.60,202.20 C463.75,202.68 466.15,203.92 468.80,204.40 C471.45,204.88 475.08,205.35 477.50,205.10 C479.92,204.85 482.10,202.90 483.30,202.90 C484.50,202.90 484.70,204.02 484.70,205.10 C484.70,206.18 482.82,207.95 483.30,209.40 C483.78,210.85 485.68,212.83 487.60,213.80 C489.52,214.77 492.63,214.73 494.80,215.20 C496.97,215.67 499.40,215.77 500.60,216.60 C501.80,217.43 502.25,219.12 502.00,220.20 C501.75,221.28 500.53,222.73 499.10,223.10 C497.67,223.47 495.32,223.12 493.40,222.40 C491.48,221.68 489.77,219.63 487.60,218.80 C485.43,217.97 482.57,217.77 480.40,217.40 C478.23,217.03 476.53,216.85 474.60,216.60 C472.67,216.35 470.97,216.03 468.80,215.90 C466.63,215.77 463.90,215.37 461.60,215.80 C459.30,216.23 457.02,218.27 455.00,218.50 C452.98,218.73 450.87,218.28 449.50,217.20 C448.13,216.12 447.07,213.78 446.80,212.00 C446.53,210.22 447.23,208.02 447.90,206.50 Z"/></clipPath><g clip-path="url(#cl5)">
<rect x="486.2" y="215.1" width="0.9" height="0.9" fill="#e86a10"/>
<rect x="493.7" y="211.9" width="0.9" height="0.9" fill="#e86a10"/>
<rect x="481.1" y="210.3" width="0.9" height="0.9" fill="#f89848"/>
<rect x="483.3" y="220.4" width="0.9" height="0.9" fill="#fa9a50"/>
<rect x="464.9" y="201.7" width="0.9" height="0.9" fill="#fa9a50"/>
<rect x="496.9" y="203.8" width="0.9" height="0.9" fill="#e86a10"/>
<rect x="476.8" y="205.0" width="0.9" height="0.9" fill="#e86a10"/>
<rect x="475.5" y="203.7" width="0.9" height="0.9" fill="#f89848"/>
<rect x="472.0" y="205.9" width="0.9" height="0.9" fill="#fa9a50"/>
<rect x="475.1" y="215.3" width="0.9" height="0.9" fill="#e86a10"/>
<rect x="475.6" y="210.4" width="0.9" height="0.9" fill="#e86a10"/>
<rect x="458.4" y="216.3" width="0.9" height="0.9" fill="#e86a10"/>
<rect x="475.2" y="221.6" width="0.9" height="0.9" fill="#e86a10"/>
<rect x="501.1" y="209.2" width="0.9" height="0.9" fill="#fa9a50"/>
<rect x="460.7" y="209.7" width="0.9" height="0.9" fill="#f89848"/>
<rect x="447.5" y="210.5" width="0.9" height="0.9" fill="#f89848"/>
<rect x="481.5" y="216.1" width="0.9" height="0.9" fill="#e86a10"/>
<rect x="461.4" y="206.3" width="0.9" height="0.9" fill="#fa9a50"/>
<rect x="468.9" y="222.1" width="0.9" height="0.9" fill="#fa9a50"/>
<rect x="501.7" y="222.3" width="0.9" height="0.9" fill="#f89848"/>
<rect x="458.5" y="204.3" width="0.9" height="0.9" fill="#e86a10"/>
<rect x="491.5" y="215.2" width="0.9" height="0.9" fill="#f89848"/>
<rect x="482.2" y="217.1" width="0.9" height="0.9" fill="#e86a10"/>
<rect x="466.3" y="215.3" width="0.9" height="0.9" fill="#f89848"/>
<rect x="472.6" y="207.9" width="0.9" height="0.9" fill="#e86a10"/>
<rect x="482.7" y="218.3" width="0.9" height="0.9" fill="#fa9a50"/>
<rect x="466.4" y="219.9" width="0.9" height="0.9" fill="#e86a10"/>
<rect x="485.7" y="216.3" width="0.9" height="0.9" fill="#e86a10"/>
<rect x="484.3" y="211.9" width="0.9" height="0.9" fill="#e86a10"/>
<rect x="490.9" y="209.2" width="0.9" height="0.9" fill="#fa9a50"/>
<rect x="463.5" y="211.9" width="0.9" height="0.9" fill="#fa9a50"/>
<rect x="481.2" y="203.3" width="0.9" height="0.9" fill="#e86a10"/>
<rect x="455.2" y="208.0" width="0.9" height="0.9" fill="#e86a10"/>
<rect x="449.9" y="219.4" width="0.9" height="0.9" fill="#e86a10"/>
<rect x="490.1" y="204.5" width="0.9" height="0.9" fill="#e86a10"/>
<rect x="481.8" y="201.8" width="0.9" height="0.9" fill="#e86a10"/>
<rect x="458.4" y="203.1" width="0.9" height="0.9" fill="#f89848"/>
<rect x="460.6" y="203.7" width="0.9" height="0.9" fill="#e86a10"/>
<rect x="494.0" y="205.5" width="0.9" height="0.9" fill="#f89848"/>
<rect x="465.9" y="204.8" width="0.9" height="0.9" fill="#e86a10"/>
<rect x="490.5" y="205.1" width="0.9" height="0.9" fill="#e86a10"/>
<rect x="480.4" y="218.4" width="0.9" height="0.9" fill="#fa9a50"/>
<rect x="496.6" y="213.3" width="0.9" height="0.9" fill="#fa9a50"/>
<rect x="493.1" y="205.8" width="0.9" height="0.9" fill="#fa9a50"/>
<rect x="458.6" y="203.2" width="0.9" height="0.9" fill="#fa9a50"/>
<rect x="483.9" y="204.0" width="0.9" height="0.9" fill="#e86a10"/>
<rect x="461.4" y="206.6" width="0.9" height="0.9" fill="#f89848"/>
<rect x="472.9" y="213.5" width="0.9" height="0.9" fill="#f89848"/>
<rect x="472.6" y="204.6" width="0.9" height="0.9" fill="#e86a10"/>
<rect x="460.4" y="205.1" width="0.9" height="0.9" fill="#e86a10"/>
<rect x="494.4" y="201.6" width="0.9" height="0.9" fill="#fa9a50"/>
<rect x="472.6" y="213.7" width="0.9" height="0.9" fill="#e86a10"/>
<rect x="463.2" y="211.6" width="0.9" height="0.9" fill="#fa9a50"/>
<rect x="469.9" y="222.2" width="0.9" height="0.9" fill="#e86a10"/>
<rect x="456.8" y="209.3" width="0.9" height="0.9" fill="#f89848"/>
<rect x="448.4" y="214.7" width="0.9" height="0.9" fill="#fa9a50"/>
<rect x="487.5" y="223.1" width="0.9" height="0.9" fill="#fa9a50"/>
<rect x="475.0" y="212.0" width="0.9" height="0.9" fill="#f89848"/>
<rect x="448.7" y="217.0" width="0.9" height="0.9" fill="#f89848"/>
<rect x="453.8" y="203.5" width="0.9" height="0.9" fill="#fa9a50"/>
<rect x="467.0" y="211.7" width="0.9" height="0.9" fill="#fa9a50"/>
<rect x="477.4" y="221.2" width="0.9" height="0.9" fill="#fa9a50"/>
<rect x="470.8" y="210.6" width="0.9" height="0.9" fill="#e86a10"/>
<rect x="449.7" y="207.7" width="0.9" height="0.9" fill="#fa9a50"/>
<rect x="492.5" y="210.2" width="0.9" height="0.9" fill="#e86a10"/>
<rect x="501.1" y="220.4" width="0.9" height="0.9" fill="#fa9a50"/>
<rect x="500.6" y="215.6" width="0.9" height="0.9" fill="#e86a10"/>
<rect x="465.1" y="208.3" width="0.9" height="0.9" fill="#f89848"/>
<rect x="453.8" y="222.5" width="0.9" height="0.9" fill="#e86a10"/>
<rect x="490.1" y="202.4" width="0.9" height="0.9" fill="#f89848"/>
<rect x="477.4" y="210.3" width="0.9" height="0.9" fill="#fa9a50"/>
<rect x="449.5" y="208.0" width="0.9" height="0.9" fill="#fa9a50"/>
<rect x="449.4" y="219.3" width="0.9" height="0.9" fill="#f89848"/>
<rect x="480.4" y="215.7" width="0.9" height="0.9" fill="#e86a10"/>
<rect x="497.0" y="214.7" width="0.9" height="0.9" fill="#fa9a50"/>
<rect x="454.9" y="216.1" width="0.9" height="0.9" fill="#fa9a50"/>
<rect x="479.7" y="216.2" width="0.9" height="0.9" fill="#fa9a50"/>
<rect x="449.0" y="215.2" width="0.9" height="0.9" fill="#f89848"/>
<rect x="488.9" y="203.7" width="0.9" height="0.9" fill="#fa9a50"/>
<rect x="494.8" y="210.6" width="0.9" height="0.9" fill="#f89848"/>
<rect x="497.3" y="215.7" width="0.9" height="0.9" fill="#f89848"/>
<rect x="494.9" y="204.5" width="0.9" height="0.9" fill="#e86a10"/>
<rect x="477.8" y="207.1" width="0.9" height="0.9" fill="#e86a10"/>
<rect x="457.0" y="202.2" width="0.9" height="0.9" fill="#e86a10"/>
<rect x="470.6" y="215.4" width="0.9" height="0.9" fill="#f89848"/>
<rect x="474.3" y="212.8" width="0.9" height="0.9" fill="#f89848"/>
<rect x="489.5" y="210.6" width="0.9" height="0.9" fill="#f89848"/>
<rect x="497.5" y="211.1" width="0.9" height="0.9" fill="#fa9a50"/>
<rect x="484.3" y="214.3" width="0.9" height="0.9" fill="#f89848"/>
<rect x="500.9" y="211.8" width="0.9" height="0.9" fill="#fa9a50"/>
</g>
<rect x="484.7" y="201.4" width="0.9" height="0.9" fill="#a080d0"/>
<rect x="482.9" y="202.1" width="0.9" height="0.9" fill="#8a60c0"/>
<rect x="484.8" y="200.1" width="0.9" height="0.9" fill="#8a60c0"/>
<rect x="489.9" y="212.0" width="0.9" height="0.9" fill="#8a60c0"/>
<rect x="488.8" y="201.8" width="0.9" height="0.9" fill="#8a60c0"/>
<rect x="483.5" y="208.0" width="0.9" height="0.9" fill="#a080d0"/>
<rect x="487.6" y="202.6" width="0.9" height="0.9" fill="#8a60c0"/>
<rect x="484.3" y="210.5" width="0.9" height="0.9" fill="#8a60c0"/>
<rect x="487.6" y="201.2" width="0.9" height="0.9" fill="#a080d0"/>
<rect x="485.1" y="213.1" width="0.9" height="0.9" fill="#a080d0"/>
<rect x="489.2" y="200.7" width="0.9" height="0.9" fill="#8a60c0"/>
<rect x="481.1" y="200.2" width="0.9" height="0.9" fill="#8a60c0"/>
<rect x="484.5" y="204.4" width="0.9" height="0.9" fill="#8a60c0"/>
<rect x="489.6" y="211.7" width="0.9" height="0.9" fill="#8a60c0"/>
<path d="M436.90,232.40 C437.58,231.55 438.85,231.13 440.40,230.70 C441.95,230.27 444.28,229.80 446.20,229.80 C448.12,229.80 450.57,230.08 451.90,230.70 C453.23,231.32 453.72,232.25 454.20,233.50 C454.68,234.75 455.18,236.47 454.80,238.20 C454.42,239.93 452.87,242.18 451.90,243.90 C450.93,245.62 449.57,246.77 449.00,248.50 C448.43,250.23 448.97,253.23 448.50,254.30 C448.03,255.37 446.78,255.67 446.20,254.90 C445.62,254.13 445.78,251.33 445.00,249.70 C444.22,248.07 442.65,246.63 441.50,245.10 C440.35,243.57 438.97,242.05 438.10,240.50 C437.23,238.95 436.50,237.15 436.30,235.80 C436.10,234.45 436.22,233.25 436.90,232.40 Z" fill="#3f8a2c" fill-opacity="1.0"/>
<rect x="446.5" y="254.5" width="1" height="3" fill="#e06060"/>
<path d="M469.68,233.95 C469.92,232.56 471.69,231.33 473.32,230.96 C474.94,230.59 478.04,231.11 479.43,231.74 C480.82,232.37 482.14,233.86 481.64,234.73 C481.14,235.60 478.06,236.18 476.44,236.94 C474.81,237.70 473.02,239.78 471.89,239.28 C470.76,238.78 469.44,235.34 469.68,233.95 Z" fill="#f01a1a" fill-opacity="1.0"/>
<path d="M472.54,254.38 C473.71,253.21 478.55,250.84 480.37,250.46 C482.19,250.08 483.99,251.16 483.47,252.08 C482.96,253.00 478.95,255.10 477.27,256.00 C475.58,256.90 474.14,257.75 473.35,257.48 C472.56,257.21 471.37,255.55 472.54,254.38 Z" fill="#f01a1a" fill-opacity="1.0"/>
<rect x="429" y="129" width="1.6" height="1.2" fill="#60c060"/>
<rect x="452.1" y="260.6" width="0.7" height="0.7" fill="#f8c0a0"/>
<rect x="462.9" y="194.1" width="0.7" height="0.7" fill="#f0a0a0"/>
<rect x="455.4" y="234.8" width="0.7" height="0.7" fill="#f8c0a0"/>
<rect x="463.4" y="246.1" width="0.7" height="0.7" fill="#f8c0a0"/>
<rect x="496.1" y="246.7" width="0.7" height="0.7" fill="#f8c0a0"/>
<rect x="450.5" y="185.2" width="0.7" height="0.7" fill="#f8c0a0"/>
<rect x="490.9" y="241.7" width="0.7" height="0.7" fill="#f0a0a0"/>
<rect x="488.2" y="231.1" width="0.7" height="0.7" fill="#f8c0a0"/>
<rect x="470.9" y="263.0" width="0.7" height="0.7" fill="#f0a0a0"/>
<rect x="456.4" y="238.2" width="0.7" height="0.7" fill="#f0a0a0"/>
<rect x="486.5" y="204.1" width="0.7" height="0.7" fill="#f0a0a0"/>
<rect x="452.5" y="202.8" width="0.7" height="0.7" fill="#f0a0a0"/>
<rect x="471.1" y="249.4" width="0.7" height="0.7" fill="#f0a0a0"/>
<rect x="450.2" y="192.0" width="0.7" height="0.7" fill="#f0a0a0"/>
<rect x="449.2" y="252.4" width="0.7" height="0.7" fill="#f8c0a0"/>
<rect x="454.3" y="187.2" width="0.7" height="0.7" fill="#f8c0a0"/>
<rect x="485.8" y="197.0" width="0.7" height="0.7" fill="#f0a0a0"/>
<rect x="451.7" y="184.9" width="0.7" height="0.7" fill="#f8c0a0"/>
<rect x="462.6" y="197.6" width="0.7" height="0.7" fill="#f8c0a0"/>
<rect x="471.0" y="180.8" width="0.7" height="0.7" fill="#f8c0a0"/>
<rect x="462.2" y="187.5" width="0.7" height="0.7" fill="#f8c0a0"/>
<rect x="484.1" y="199.8" width="0.7" height="0.7" fill="#f8c0a0"/>
<rect x="492.0" y="224.4" width="0.7" height="0.7" fill="#f8c0a0"/>
<rect x="465.4" y="197.2" width="0.7" height="0.7" fill="#f0a0a0"/>
<rect x="443.5" y="195.4" width="0.7" height="0.7" fill="#f8c0a0"/>
<path d="M448.5,150.2 L448.5,173.4 L458,173.4" fill="none" stroke="#231f20" stroke-width="1"/>
<path d="M467,150.5 L467,160" fill="none" stroke="#231f20" stroke-width="1"/>
<path d="M482.3,154.5 L495.7,154.5 L495.7,150" fill="none" stroke="#231f20" stroke-width="1"/>
<path d="M476.1,166.6 L485,166.6" fill="none" stroke="#231f20" stroke-width="1"/>
<path d="M437.9,165.8 L437.9,186.2 L460,186.2" fill="none" stroke="#231f20" stroke-width="1"/>
<path d="M387.20,303.70 C388.38,302.63 390.33,301.83 392.70,301.30 C395.07,300.77 399.02,300.10 401.40,300.50 C403.78,300.90 404.88,301.45 407.00,303.70 C409.12,305.95 413.18,310.83 414.10,314.00 C415.02,317.17 413.82,320.07 412.50,322.70 C411.18,325.33 407.52,327.55 406.20,329.80 C404.88,332.05 405.03,333.82 404.60,336.20 C404.17,338.58 403.83,341.73 403.60,344.10 C403.37,346.47 403.43,348.82 403.20,350.40 C402.97,351.98 402.77,353.47 402.20,353.60 C401.63,353.73 400.30,352.78 399.80,351.20 C399.30,349.62 399.42,346.60 399.20,344.10 C398.98,341.60 399.28,338.22 398.50,336.20 C397.72,334.18 396.00,332.87 394.50,332.00 C393.00,331.13 391.35,331.07 389.50,331.00 C387.65,330.93 385.37,330.93 383.40,331.60 C381.43,332.27 379.32,333.85 377.70,335.00 C376.08,336.15 374.15,337.58 373.70,338.50 C373.25,339.42 373.95,340.50 375.00,340.50 C376.05,340.50 378.23,339.42 380.00,338.50 C381.77,337.58 383.93,335.75 385.60,335.00 C387.27,334.25 389.73,335.38 390.00,334.00 C390.27,332.62 387.93,329.50 387.20,326.70 C386.47,323.90 385.87,320.37 385.60,317.20 C385.33,314.03 385.33,309.95 385.60,307.70 C385.87,305.45 386.02,304.77 387.20,303.70 Z" fill="#c05a88" fill-opacity="1.0"/>
<clipPath id="cl6"><path d="M387.20,303.70 C388.38,302.63 390.33,301.83 392.70,301.30 C395.07,300.77 399.02,300.10 401.40,300.50 C403.78,300.90 404.88,301.45 407.00,303.70 C409.12,305.95 413.18,310.83 414.10,314.00 C415.02,317.17 413.82,320.07 412.50,322.70 C411.18,325.33 407.52,327.55 406.20,329.80 C404.88,332.05 405.03,333.82 404.60,336.20 C404.17,338.58 403.83,341.73 403.60,344.10 C403.37,346.47 403.43,348.82 403.20,350.40 C402.97,351.98 402.77,353.47 402.20,353.60 C401.63,353.73 400.30,352.78 399.80,351.20 C399.30,349.62 399.42,346.60 399.20,344.10 C398.98,341.60 399.28,338.22 398.50,336.20 C397.72,334.18 396.00,332.87 394.50,332.00 C393.00,331.13 391.35,331.07 389.50,331.00 C387.65,330.93 385.37,330.93 383.40,331.60 C381.43,332.27 379.32,333.85 377.70,335.00 C376.08,336.15 374.15,337.58 373.70,338.50 C373.25,339.42 373.95,340.50 375.00,340.50 C376.05,340.50 378.23,339.42 380.00,338.50 C381.77,337.58 383.93,335.75 385.60,335.00 C387.27,334.25 389.73,335.38 390.00,334.00 C390.27,332.62 387.93,329.50 387.20,326.70 C386.47,323.90 385.87,320.37 385.60,317.20 C385.33,314.03 385.33,309.95 385.60,307.70 C385.87,305.45 386.02,304.77 387.20,303.70 Z"/></clipPath><g clip-path="url(#cl6)">
<rect x="397.0" y="319.6" width="1.0" height="1.0" fill="#5030a0"/>
<rect x="394.6" y="308.4" width="1.0" height="1.0" fill="#f0e0f0"/>
<rect x="411.0" y="326.7" width="1.0" height="1.0" fill="#d01030"/>
<rect x="378.0" y="334.1" width="1.0" height="1.0" fill="#f0e0f0"/>
<rect x="377.0" y="317.3" width="1.0" height="1.0" fill="#f0e0f0"/>
<rect x="387.6" y="328.1" width="1.0" height="1.0" fill="#d01030"/>
<rect x="377.5" y="311.4" width="1.0" height="1.0" fill="#d01030"/>
<rect x="408.7" y="326.3" width="1.0" height="1.0" fill="#f0e0f0"/>
<rect x="382.3" y="349.6" width="1.0" height="1.0" fill="#ffffff"/>
<rect x="390.9" y="350.8" width="1.0" height="1.0" fill="#5030a0"/>
<rect x="397.7" y="332.8" width="1.0" height="1.0" fill="#f0e0f0"/>
<rect x="384.0" y="302.5" width="1.0" height="1.0" fill="#d01030"/>
<rect x="413.9" y="320.6" width="1.0" height="1.0" fill="#d01030"/>
<rect x="375.8" y="330.1" width="1.0" height="1.0" fill="#d01030"/>
<rect x="402.2" y="326.4" width="1.0" height="1.0" fill="#f0e0f0"/>
<rect x="410.5" y="303.9" width="1.0" height="1.0" fill="#f0e0f0"/>
<rect x="399.5" y="349.5" width="1.0" height="1.0" fill="#ffffff"/>
<rect x="412.5" y="314.2" width="1.0" height="1.0" fill="#ffffff"/>
<rect x="383.1" y="305.3" width="1.0" height="1.0" fill="#ffffff"/>
<rect x="394.2" y="310.2" width="1.0" height="1.0" fill="#ffffff"/>
<rect x="380.2" y="351.8" width="1.0" height="1.0" fill="#f0e0f0"/>
<rect x="382.7" y="302.6" width="1.0" height="1.0" fill="#ffffff"/>
<rect x="411.7" y="303.6" width="1.0" height="1.0" fill="#5030a0"/>
<rect x="410.2" y="345.0" width="1.0" height="1.0" fill="#ffffff"/>
<rect x="384.1" y="327.8" width="1.0" height="1.0" fill="#d01030"/>
<rect x="399.8" y="352.8" width="1.0" height="1.0" fill="#ffffff"/>
<rect x="377.8" y="317.4" width="1.0" height="1.0" fill="#d01030"/>
<rect x="411.7" y="336.4" width="1.0" height="1.0" fill="#d01030"/>
<rect x="397.5" y="323.9" width="1.0" height="1.0" fill="#5030a0"/>
<rect x="378.0" y="317.7" width="1.0" height="1.0" fill="#ffffff"/>
<rect x="389.5" y="320.4" width="1.0" height="1.0" fill="#5030a0"/>
<rect x="380.5" y="313.2" width="1.0" height="1.0" fill="#ffffff"/>
<rect x="410.6" y="347.9" width="1.0" height="1.0" fill="#d01030"/>
<rect x="402.7" y="310.9" width="1.0" height="1.0" fill="#ffffff"/>
<rect x="380.0" y="344.7" width="1.0" height="1.0" fill="#d01030"/>
<rect x="411.4" y="346.5" width="1.0" height="1.0" fill="#d01030"/>
<rect x="379.3" y="324.2" width="1.0" height="1.0" fill="#ffffff"/>
<rect x="411.1" y="320.9" width="1.0" height="1.0" fill="#d01030"/>
<rect x="399.1" y="324.5" width="1.0" height="1.0" fill="#d01030"/>
<rect x="386.7" y="312.9" width="1.0" height="1.0" fill="#5030a0"/>
<rect x="399.1" y="308.1" width="1.0" height="1.0" fill="#d01030"/>
<rect x="403.4" y="310.1" width="1.0" height="1.0" fill="#d01030"/>
<rect x="396.1" y="308.2" width="1.0" height="1.0" fill="#ffffff"/>
<rect x="379.7" y="322.7" width="1.0" height="1.0" fill="#f0e0f0"/>
<rect x="380.0" y="314.9" width="1.0" height="1.0" fill="#d01030"/>
<rect x="385.7" y="343.2" width="1.0" height="1.0" fill="#f0e0f0"/>
<rect x="393.5" y="317.4" width="1.0" height="1.0" fill="#5030a0"/>
<rect x="378.3" y="352.5" width="1.0" height="1.0" fill="#ffffff"/>
<rect x="399.2" y="342.3" width="1.0" height="1.0" fill="#d01030"/>
<rect x="396.3" y="344.9" width="1.0" height="1.0" fill="#d01030"/>
<rect x="384.1" y="311.2" width="1.0" height="1.0" fill="#d01030"/>
<rect x="391.2" y="314.4" width="1.0" height="1.0" fill="#5030a0"/>
<rect x="411.1" y="305.7" width="1.0" height="1.0" fill="#d01030"/>
<rect x="390.5" y="309.1" width="1.0" height="1.0" fill="#5030a0"/>
<rect x="403.0" y="316.1" width="1.0" height="1.0" fill="#f0e0f0"/>
<rect x="374.3" y="343.4" width="1.0" height="1.0" fill="#ffffff"/>
<rect x="394.3" y="324.0" width="1.0" height="1.0" fill="#5030a0"/>
<rect x="407.3" y="328.5" width="1.0" height="1.0" fill="#f0e0f0"/>
<rect x="388.2" y="302.7" width="1.0" height="1.0" fill="#d01030"/>
<rect x="382.5" y="330.8" width="1.0" height="1.0" fill="#ffffff"/>
<rect x="407.8" y="328.2" width="1.0" height="1.0" fill="#d01030"/>
<rect x="402.4" y="310.9" width="1.0" height="1.0" fill="#d01030"/>
<rect x="407.2" y="347.7" width="1.0" height="1.0" fill="#d01030"/>
<rect x="393.7" y="315.0" width="1.0" height="1.0" fill="#ffffff"/>
<rect x="379.2" y="336.1" width="1.0" height="1.0" fill="#d01030"/>
<rect x="406.5" y="331.5" width="1.0" height="1.0" fill="#ffffff"/>
<rect x="374.1" y="337.3" width="1.0" height="1.0" fill="#d01030"/>
<rect x="390.2" y="338.8" width="1.0" height="1.0" fill="#ffffff"/>
<rect x="394.6" y="319.0" width="1.0" height="1.0" fill="#d01030"/>
<rect x="407.7" y="346.4" width="1.0" height="1.0" fill="#5030a0"/>
<rect x="377.3" y="322.2" width="1.0" height="1.0" fill="#ffffff"/>
<rect x="393.0" y="346.8" width="1.0" height="1.0" fill="#f0e0f0"/>
<rect x="383.7" y="330.4" width="1.0" height="1.0" fill="#5030a0"/>
<rect x="375.2" y="337.8" width="1.0" height="1.0" fill="#5030a0"/>
<rect x="397.7" y="300.7" width="1.0" height="1.0" fill="#ffffff"/>
<rect x="411.4" y="351.9" width="1.0" height="1.0" fill="#ffffff"/>
<rect x="378.6" y="338.4" width="1.0" height="1.0" fill="#d01030"/>
<rect x="407.2" y="349.0" width="1.0" height="1.0" fill="#f0e0f0"/>
<rect x="402.4" y="320.8" width="1.0" height="1.0" fill="#f0e0f0"/>
<rect x="410.0" y="316.0" width="1.0" height="1.0" fill="#f0e0f0"/>
<rect x="412.2" y="326.8" width="1.0" height="1.0" fill="#d01030"/>
<rect x="374.7" y="343.2" width="1.0" height="1.0" fill="#ffffff"/>
<rect x="374.5" y="351.9" width="1.0" height="1.0" fill="#d01030"/>
<rect x="398.7" y="309.4" width="1.0" height="1.0" fill="#d01030"/>
<rect x="383.8" y="343.9" width="1.0" height="1.0" fill="#5030a0"/>
<rect x="374.5" y="349.7" width="1.0" height="1.0" fill="#d01030"/>
<rect x="381.6" y="301.4" width="1.0" height="1.0" fill="#ffffff"/>
<rect x="399.4" y="325.1" width="1.0" height="1.0" fill="#ffffff"/>
<rect x="402.1" y="306.0" width="1.0" height="1.0" fill="#d01030"/>
<rect x="377.5" y="310.0" width="1.0" height="1.0" fill="#f0e0f0"/>
<rect x="378.7" y="326.7" width="1.0" height="1.0" fill="#5030a0"/>
<rect x="404.5" y="306.3" width="1.0" height="1.0" fill="#ffffff"/>
<rect x="390.1" y="307.8" width="1.0" height="1.0" fill="#d01030"/>
<rect x="382.9" y="312.6" width="1.0" height="1.0" fill="#ffffff"/>
<rect x="396.8" y="340.1" width="1.0" height="1.0" fill="#ffffff"/>
<rect x="412.0" y="301.5" width="1.0" height="1.0" fill="#d01030"/>
<rect x="389.4" y="322.8" width="1.0" height="1.0" fill="#ffffff"/>
<rect x="398.1" y="302.4" width="1.0" height="1.0" fill="#f0e0f0"/>
<rect x="405.1" y="318.5" width="1.0" height="1.0" fill="#d01030"/>
<rect x="407.6" y="338.5" width="1.0" height="1.0" fill="#d01030"/>
<rect x="413.3" y="343.2" width="1.0" height="1.0" fill="#f0e0f0"/>
<rect x="406.6" y="345.5" width="1.0" height="1.0" fill="#5030a0"/>
<rect x="386.8" y="308.3" width="1.0" height="1.0" fill="#d01030"/>
<rect x="411.4" y="313.7" width="1.0" height="1.0" fill="#ffffff"/>
<rect x="400.5" y="301.1" width="1.0" height="1.0" fill="#ffffff"/>
<rect x="395.1" y="304.2" width="1.0" height="1.0" fill="#d01030"/>
<rect x="381.8" y="336.0" width="1.0" height="1.0" fill="#ffffff"/>
<rect x="379.3" y="352.0" width="1.0" height="1.0" fill="#d01030"/>
<rect x="414.0" y="324.6" width="1.0" height="1.0" fill="#f0e0f0"/>
<rect x="406.4" y="347.5" width="1.0" height="1.0" fill="#d01030"/>
<rect x="375.1" y="334.6" width="1.0" height="1.0" fill="#d01030"/>
<rect x="410.8" y="333.6" width="1.0" height="1.0" fill="#5030a0"/>
<rect x="395.6" y="349.6" width="1.0" height="1.0" fill="#ffffff"/>
<rect x="377.8" y="307.0" width="1.0" height="1.0" fill="#ffffff"/>
<rect x="391.2" y="351.0" width="1.0" height="1.0" fill="#d01030"/>
<rect x="378.3" y="319.0" width="1.0" height="1.0" fill="#5030a0"/>
<rect x="378.6" y="332.1" width="1.0" height="1.0" fill="#d01030"/>
<rect x="410.1" y="305.0" width="1.0" height="1.0" fill="#ffffff"/>
<rect x="395.3" y="308.4" width="1.0" height="1.0" fill="#ffffff"/>
<rect x="394.4" y="347.5" width="1.0" height="1.0" fill="#d01030"/>
<rect x="397.0" y="315.1" width="1.0" height="1.0" fill="#ffffff"/>
<rect x="377.2" y="329.5" width="1.0" height="1.0" fill="#ffffff"/>
<rect x="392.0" y="337.4" width="1.0" height="1.0" fill="#f0e0f0"/>
<rect x="400.0" y="311.2" width="1.0" height="1.0" fill="#d01030"/>
<rect x="388.5" y="347.9" width="1.0" height="1.0" fill="#ffffff"/>
<rect x="398.5" y="325.4" width="1.0" height="1.0" fill="#5030a0"/>
<rect x="375.0" y="318.2" width="1.0" height="1.0" fill="#5030a0"/>
<rect x="394.4" y="320.8" width="1.0" height="1.0" fill="#d01030"/>
<rect x="389.7" y="349.6" width="1.0" height="1.0" fill="#ffffff"/>
<rect x="408.5" y="313.2" width="1.0" height="1.0" fill="#d01030"/>
<rect x="386.8" y="314.8" width="1.0" height="1.0" fill="#ffffff"/>
<rect x="385.6" y="341.5" width="1.0" height="1.0" fill="#d01030"/>
<rect x="396.0" y="332.7" width="1.0" height="1.0" fill="#d01030"/>
<rect x="391.5" y="303.8" width="1.0" height="1.0" fill="#5030a0"/>
<rect x="407.4" y="319.3" width="1.0" height="1.0" fill="#ffffff"/>
<rect x="378.1" y="312.5" width="1.0" height="1.0" fill="#f0e0f0"/>
<rect x="403.5" y="308.7" width="1.0" height="1.0" fill="#ffffff"/>
<rect x="400.7" y="308.0" width="1.0" height="1.0" fill="#5030a0"/>
<rect x="398.6" y="345.6" width="1.0" height="1.0" fill="#d01030"/>
<rect x="407.6" y="305.5" width="1.0" height="1.0" fill="#f0e0f0"/>
<rect x="403.7" y="340.8" width="1.0" height="1.0" fill="#f0e0f0"/>
<rect x="384.6" y="334.0" width="1.0" height="1.0" fill="#ffffff"/>
<rect x="410.7" y="307.3" width="1.0" height="1.0" fill="#ffffff"/>
<rect x="377.9" y="322.3" width="1.0" height="1.0" fill="#f0e0f0"/>
<rect x="397.4" y="326.9" width="1.0" height="1.0" fill="#ffffff"/>
<rect x="379.7" y="345.6" width="1.0" height="1.0" fill="#ffffff"/>
<rect x="409.0" y="332.7" width="1.0" height="1.0" fill="#5030a0"/>
<rect x="408.1" y="337.3" width="1.0" height="1.0" fill="#ffffff"/>
<rect x="402.9" y="316.1" width="1.0" height="1.0" fill="#5030a0"/>
<rect x="395.0" y="332.1" width="1.0" height="1.0" fill="#ffffff"/>
<rect x="386.7" y="342.3" width="1.0" height="1.0" fill="#ffffff"/>
<rect x="413.7" y="320.7" width="1.0" height="1.0" fill="#f0e0f0"/>
<rect x="381.1" y="316.6" width="1.0" height="1.0" fill="#5030a0"/>
<rect x="391.3" y="320.5" width="1.0" height="1.0" fill="#d01030"/>
<rect x="377.3" y="349.4" width="1.0" height="1.0" fill="#d01030"/>
<rect x="412.8" y="332.8" width="1.0" height="1.0" fill="#5030a0"/>
<rect x="412.4" y="311.3" width="1.0" height="1.0" fill="#d01030"/>
<rect x="409.7" y="351.3" width="1.0" height="1.0" fill="#ffffff"/>
<rect x="375.6" y="330.5" width="1.0" height="1.0" fill="#d01030"/>
<rect x="385.8" y="329.0" width="1.0" height="1.0" fill="#ffffff"/>
<rect x="395.5" y="353.5" width="1.0" height="1.0" fill="#5030a0"/>
<rect x="407.1" y="339.1" width="1.0" height="1.0" fill="#ffffff"/>
<rect x="389.4" y="319.5" width="1.0" height="1.0" fill="#ffffff"/>
<rect x="401.0" y="324.6" width="1.0" height="1.0" fill="#ffffff"/>
<rect x="401.0" y="328.4" width="1.0" height="1.0" fill="#d01030"/>
<rect x="390.2" y="327.1" width="1.0" height="1.0" fill="#d01030"/>
<rect x="396.4" y="331.0" width="1.0" height="1.0" fill="#ffffff"/>
<rect x="412.7" y="326.3" width="1.0" height="1.0" fill="#d01030"/>
<rect x="404.7" y="348.2" width="1.0" height="1.0" fill="#ffffff"/>
<rect x="387.6" y="328.7" width="1.0" height="1.0" fill="#ffffff"/>
<rect x="377.4" y="319.8" width="1.0" height="1.0" fill="#f0e0f0"/>
<rect x="413.2" y="344.4" width="1.0" height="1.0" fill="#5030a0"/>
<rect x="380.8" y="335.3" width="1.0" height="1.0" fill="#ffffff"/>
<rect x="401.6" y="344.1" width="1.0" height="1.0" fill="#5030a0"/>
<rect x="409.6" y="322.8" width="1.0" height="1.0" fill="#ffffff"/>
<rect x="394.9" y="343.8" width="1.0" height="1.0" fill="#d01030"/>
<rect x="394.1" y="310.5" width="1.0" height="1.0" fill="#d01030"/>
<rect x="376.1" y="330.5" width="1.0" height="1.0" fill="#d01030"/>
<rect x="388.0" y="353.3" width="1.0" height="1.0" fill="#d01030"/>
<rect x="402.9" y="337.2" width="1.0" height="1.0" fill="#ffffff"/>
<rect x="405.5" y="316.8" width="1.0" height="1.0" fill="#d01030"/>
<rect x="396.0" y="349.2" width="1.0" height="1.0" fill="#ffffff"/>
<rect x="407.7" y="331.6" width="1.0" height="1.0" fill="#ffffff"/>
<rect x="374.9" y="309.8" width="1.0" height="1.0" fill="#ffffff"/>
<rect x="396.1" y="314.6" width="1.0" height="1.0" fill="#f0e0f0"/>
<rect x="409.9" y="327.8" width="1.0" height="1.0" fill="#ffffff"/>
<rect x="396.9" y="322.3" width="1.0" height="1.0" fill="#d01030"/>
<rect x="379.6" y="328.0" width="1.0" height="1.0" fill="#d01030"/>
<rect x="378.0" y="305.8" width="1.0" height="1.0" fill="#ffffff"/>
<rect x="412.0" y="326.5" width="1.0" height="1.0" fill="#d01030"/>
<rect x="398.5" y="343.3" width="1.0" height="1.0" fill="#ffffff"/>
<rect x="400.0" y="336.9" width="1.0" height="1.0" fill="#d01030"/>
<rect x="386.7" y="338.5" width="1.0" height="1.0" fill="#ffffff"/>
<rect x="384.8" y="302.2" width="1.0" height="1.0" fill="#5030a0"/>
<rect x="377.7" y="348.5" width="1.0" height="1.0" fill="#ffffff"/>
<rect x="376.2" y="310.7" width="1.0" height="1.0" fill="#ffffff"/>
<rect x="389.3" y="303.4" width="1.0" height="1.0" fill="#ffffff"/>
<rect x="397.2" y="351.5" width="1.0" height="1.0" fill="#ffffff"/>
<rect x="375.9" y="313.2" width="1.0" height="1.0" fill="#ffffff"/>
<rect x="375.5" y="349.9" width="1.0" height="1.0" fill="#d01030"/>
<rect x="380.7" y="300.8" width="1.0" height="1.0" fill="#f0e0f0"/>
<rect x="406.7" y="316.6" width="1.0" height="1.0" fill="#f0e0f0"/>
<rect x="383.9" y="347.6" width="1.0" height="1.0" fill="#ffffff"/>
<rect x="383.5" y="321.2" width="1.0" height="1.0" fill="#d01030"/>
<rect x="397.3" y="322.5" width="1.0" height="1.0" fill="#ffffff"/>
<rect x="409.1" y="326.2" width="1.0" height="1.0" fill="#ffffff"/>
<rect x="408.8" y="305.1" width="1.0" height="1.0" fill="#f0e0f0"/>
<rect x="388.2" y="310.4" width="1.0" height="1.0" fill="#d01030"/>
<rect x="389.7" y="319.8" width="1.0" height="1.0" fill="#5030a0"/>
<rect x="395.3" y="321.0" width="1.0" height="1.0" fill="#5030a0"/>
<rect x="400.0" y="351.5" width="1.0" height="1.0" fill="#ffffff"/>
<rect x="407.1" y="319.2" width="1.0" height="1.0" fill="#ffffff"/>
<rect x="389.3" y="325.3" width="1.0" height="1.0" fill="#d01030"/>
<rect x="383.3" y="302.4" width="1.0" height="1.0" fill="#5030a0"/>
<rect x="374.7" y="343.2" width="1.0" height="1.0" fill="#ffffff"/>
<rect x="402.2" y="305.4" width="1.0" height="1.0" fill="#d01030"/>
<rect x="395.7" y="342.3" width="1.0" height="1.0" fill="#5030a0"/>
<rect x="391.6" y="344.9" width="1.0" height="1.0" fill="#ffffff"/>
<rect x="383.4" y="320.0" width="1.0" height="1.0" fill="#f0e0f0"/>
<rect x="402.9" y="320.5" width="1.0" height="1.0" fill="#d01030"/>
<rect x="382.1" y="351.0" width="1.0" height="1.0" fill="#ffffff"/>
<rect x="382.0" y="346.1" width="1.0" height="1.0" fill="#ffffff"/>
<rect x="379.0" y="338.0" width="1.0" height="1.0" fill="#ffffff"/>
<rect x="397.8" y="323.9" width="1.0" height="1.0" fill="#5030a0"/>
<rect x="395.3" y="322.0" width="1.0" height="1.0" fill="#5030a0"/>
<rect x="382.3" y="346.8" width="1.0" height="1.0" fill="#ffffff"/>
<rect x="401.1" y="305.4" width="1.0" height="1.0" fill="#d01030"/>
<rect x="384.6" y="341.5" width="1.0" height="1.0" fill="#f0e0f0"/>
<rect x="374.9" y="338.6" width="1.0" height="1.0" fill="#ffffff"/>
<rect x="386.3" y="321.2" width="1.0" height="1.0" fill="#d01030"/>
<rect x="401.8" y="341.7" width="1.0" height="1.0" fill="#d01030"/>
<rect x="386.7" y="335.7" width="1.0" height="1.0" fill="#d01030"/>
<rect x="376.5" y="349.0" width="1.0" height="1.0" fill="#d01030"/>
<rect x="393.9" y="316.3" width="1.0" height="1.0" fill="#f0e0f0"/>
<rect x="402.7" y="305.2" width="1.0" height="1.0" fill="#d01030"/>
<rect x="378.8" y="338.6" width="1.0" height="1.0" fill="#5030a0"/>
<rect x="388.1" y="345.3" width="1.0" height="1.0" fill="#5030a0"/>
<rect x="405.0" y="347.4" width="1.0" height="1.0" fill="#ffffff"/>
<rect x="408.6" y="350.2" width="1.0" height="1.0" fill="#f0e0f0"/>
<rect x="374.9" y="336.6" width="1.0" height="1.0" fill="#d01030"/>
<rect x="401.6" y="348.1" width="1.0" height="1.0" fill="#ffffff"/>
<rect x="400.3" y="337.6" width="1.0" height="1.0" fill="#d01030"/>
<rect x="414.1" y="321.8" width="1.0" height="1.0" fill="#d01030"/>
<rect x="377.6" y="316.0" width="1.0" height="1.0" fill="#ffffff"/>
<rect x="410.6" y="339.5" width="1.0" height="1.0" fill="#5030a0"/>
<rect x="401.1" y="322.0" width="1.0" height="1.0" fill="#ffffff"/>
<rect x="380.2" y="311.0" width="1.0" height="1.0" fill="#ffffff"/>
<rect x="380.0" y="339.7" width="1.0" height="1.0" fill="#5030a0"/>
<rect x="386.3" y="334.4" width="1.0" height="1.0" fill="#ffffff"/>
<rect x="396.5" y="312.6" width="1.0" height="1.0" fill="#d01030"/>
<rect x="402.7" y="314.0" width="1.0" height="1.0" fill="#ffffff"/>
<rect x="400.8" y="331.0" width="1.0" height="1.0" fill="#ffffff"/>
<rect x="378.2" y="341.1" width="1.0" height="1.0" fill="#d01030"/>
<rect x="385.3" y="302.8" width="1.0" height="1.0" fill="#ffffff"/>
<rect x="397.3" y="337.5" width="1.0" height="1.0" fill="#f0e0f0"/>
<rect x="401.2" y="302.5" width="1.0" height="1.0" fill="#d01030"/>
<rect x="382.2" y="349.1" width="1.0" height="1.0" fill="#5030a0"/>
<rect x="410.6" y="322.7" width="1.0" height="1.0" fill="#ffffff"/>
<rect x="389.6" y="340.2" width="1.0" height="1.0" fill="#ffffff"/>
<rect x="382.6" y="328.5" width="1.0" height="1.0" fill="#f0e0f0"/>
<rect x="411.9" y="323.0" width="1.0" height="1.0" fill="#5030a0"/>
<rect x="401.6" y="339.7" width="1.0" height="1.0" fill="#5030a0"/>
<rect x="407.6" y="333.7" width="1.0" height="1.0" fill="#f0e0f0"/>
<rect x="375.9" y="337.6" width="1.0" height="1.0" fill="#ffffff"/>
<rect x="400.9" y="345.5" width="1.0" height="1.0" fill="#ffffff"/>
<rect x="378.9" y="341.0" width="1.0" height="1.0" fill="#f0e0f0"/>
<rect x="412.2" y="344.3" width="1.0" height="1.0" fill="#d01030"/>
<rect x="384.3" y="329.5" width="1.0" height="1.0" fill="#ffffff"/>
<rect x="399.5" y="329.4" width="1.0" height="1.0" fill="#f0e0f0"/>
<rect x="412.6" y="309.4" width="1.0" height="1.0" fill="#d01030"/>
<rect x="390.3" y="311.2" width="1.0" height="1.0" fill="#5030a0"/>
<rect x="379.2" y="336.9" width="1.0" height="1.0" fill="#5030a0"/>
<rect x="400.8" y="313.1" width="1.0" height="1.0" fill="#ffffff"/>
<rect x="373.9" y="337.2" width="1.0" height="1.0" fill="#d01030"/>
<rect x="411.5" y="319.2" width="1.0" height="1.0" fill="#d01030"/>
<rect x="379.1" y="338.1" width="1.0" height="1.0" fill="#5030a0"/>
<rect x="396.5" y="318.2" width="1.0" height="1.0" fill="#ffffff"/>
<rect x="378.5" y="323.0" width="1.0" height="1.0" fill="#f0e0f0"/>
<rect x="401.1" y="308.7" width="1.0" height="1.0" fill="#d01030"/>
<rect x="407.6" y="322.1" width="1.0" height="1.0" fill="#ffffff"/>
<rect x="378.3" y="315.9" width="1.0" height="1.0" fill="#d01030"/>
<rect x="393.4" y="302.8" width="1.0" height="1.0" fill="#5030a0"/>
<rect x="386.0" y="306.4" width="1.0" height="1.0" fill="#5030a0"/>
<rect x="391.8" y="306.5" width="1.0" height="1.0" fill="#5030a0"/>
<rect x="391.7" y="330.7" width="1.0" height="1.0" fill="#5030a0"/>
<rect x="380.5" y="304.3" width="1.0" height="1.0" fill="#5030a0"/>
<rect x="392.6" y="352.5" width="1.0" height="1.0" fill="#d01030"/>
<rect x="377.1" y="338.6" width="1.0" height="1.0" fill="#ffffff"/>
<rect x="396.5" y="306.3" width="1.0" height="1.0" fill="#ffffff"/>
<rect x="412.4" y="326.4" width="1.0" height="1.0" fill="#ffffff"/>
<rect x="395.6" y="300.9" width="1.0" height="1.0" fill="#f0e0f0"/>
<rect x="399.7" y="333.8" width="1.0" height="1.0" fill="#d01030"/>
<rect x="400.1" y="313.8" width="1.0" height="1.0" fill="#ffffff"/>
<rect x="376.9" y="340.2" width="1.0" height="1.0" fill="#d01030"/>
<rect x="405.0" y="345.1" width="1.0" height="1.0" fill="#d01030"/>
<rect x="388.6" y="351.6" width="1.0" height="1.0" fill="#5030a0"/>
<rect x="407.9" y="349.7" width="1.0" height="1.0" fill="#ffffff"/>
<rect x="377.8" y="338.7" width="1.0" height="1.0" fill="#d01030"/>
<rect x="403.7" y="317.8" width="1.0" height="1.0" fill="#5030a0"/>
<rect x="399.9" y="319.4" width="1.0" height="1.0" fill="#d01030"/>
<rect x="388.6" y="329.8" width="1.0" height="1.0" fill="#d01030"/>
<rect x="407.5" y="314.0" width="1.0" height="1.0" fill="#5030a0"/>
<rect x="375.4" y="330.6" width="1.0" height="1.0" fill="#d01030"/>
<rect x="410.9" y="353.6" width="1.0" height="1.0" fill="#ffffff"/>
<rect x="410.3" y="350.7" width="1.0" height="1.0" fill="#ffffff"/>
<rect x="390.8" y="339.3" width="1.0" height="1.0" fill="#ffffff"/>
<rect x="398.0" y="333.8" width="1.0" height="1.0" fill="#5030a0"/>
<rect x="401.5" y="309.2" width="1.0" height="1.0" fill="#d01030"/>
<rect x="399.4" y="321.8" width="1.0" height="1.0" fill="#ffffff"/>
<rect x="408.1" y="326.0" width="1.0" height="1.0" fill="#d01030"/>
<rect x="402.9" y="300.6" width="1.0" height="1.0" fill="#d01030"/>
<rect x="398.4" y="344.8" width="1.0" height="1.0" fill="#f0e0f0"/>
<rect x="390.9" y="315.5" width="1.0" height="1.0" fill="#ffffff"/>
<rect x="375.9" y="338.2" width="1.0" height="1.0" fill="#ffffff"/>
<rect x="376.2" y="301.0" width="1.0" height="1.0" fill="#5030a0"/>
<rect x="380.8" y="339.0" width="1.0" height="1.0" fill="#f0e0f0"/>
<rect x="385.6" y="324.0" width="1.0" height="1.0" fill="#ffffff"/>
<rect x="401.0" y="330.6" width="1.0" height="1.0" fill="#ffffff"/>
<rect x="377.1" y="317.7" width="1.0" height="1.0" fill="#ffffff"/>
<rect x="391.0" y="328.9" width="1.0" height="1.0" fill="#ffffff"/>
<rect x="408.7" y="352.2" width="1.0" height="1.0" fill="#ffffff"/>
<rect x="398.7" y="343.6" width="1.0" height="1.0" fill="#ffffff"/>
<rect x="402.9" y="318.1" width="1.0" height="1.0" fill="#d01030"/>
<rect x="385.7" y="330.8" width="1.0" height="1.0" fill="#ffffff"/>
<rect x="393.1" y="334.9" width="1.0" height="1.0" fill="#5030a0"/>
<rect x="408.7" y="328.7" width="1.0" height="1.0" fill="#5030a0"/>
<rect x="374.8" y="310.5" width="1.0" height="1.0" fill="#ffffff"/>
<rect x="403.6" y="337.2" width="1.0" height="1.0" fill="#ffffff"/>
<rect x="400.4" y="320.3" width="1.0" height="1.0" fill="#d01030"/>
<rect x="411.8" y="319.6" width="1.0" height="1.0" fill="#ffffff"/>
<rect x="396.5" y="321.5" width="1.0" height="1.0" fill="#d01030"/>
<rect x="382.9" y="351.9" width="1.0" height="1.0" fill="#d01030"/>
<rect x="395.8" y="306.5" width="1.0" height="1.0" fill="#d01030"/>
<rect x="407.5" y="335.0" width="1.0" height="1.0" fill="#f0e0f0"/>
<rect x="395.1" y="313.9" width="1.0" height="1.0" fill="#d01030"/>
<rect x="382.9" y="324.8" width="1.0" height="1.0" fill="#ffffff"/>
<rect x="396.8" y="306.5" width="1.0" height="1.0" fill="#ffffff"/>
<rect x="410.4" y="330.6" width="1.0" height="1.0" fill="#ffffff"/>
<rect x="390.2" y="304.4" width="1.0" height="1.0" fill="#f0e0f0"/>
<rect x="379.1" y="327.2" width="1.0" height="1.0" fill="#ffffff"/>
<rect x="402.6" y="340.7" width="1.0" height="1.0" fill="#ffffff"/>
<rect x="399.0" y="351.5" width="1.0" height="1.0" fill="#d01030"/>
<rect x="377.8" y="344.6" width="1.0" height="1.0" fill="#ffffff"/>
<rect x="395.7" y="351.9" width="1.0" height="1.0" fill="#ffffff"/>
<rect x="396.4" y="341.7" width="1.0" height="1.0" fill="#d01030"/>
<rect x="388.8" y="333.4" width="1.0" height="1.0" fill="#d01030"/>
<rect x="383.3" y="320.3" width="1.0" height="1.0" fill="#ffffff"/>
<rect x="402.1" y="351.2" width="1.0" height="1.0" fill="#d01030"/>
<rect x="385.8" y="338.1" width="1.0" height="1.0" fill="#ffffff"/>
<rect x="410.4" y="305.2" width="1.0" height="1.0" fill="#ffffff"/>
<rect x="381.8" y="306.6" width="1.0" height="1.0" fill="#f0e0f0"/>
<rect x="408.9" y="309.4" width="1.0" height="1.0" fill="#ffffff"/>
<rect x="407.7" y="343.2" width="1.0" height="1.0" fill="#ffffff"/>
<rect x="401.2" y="344.3" width="1.0" height="1.0" fill="#ffffff"/>
<rect x="383.4" y="327.7" width="1.0" height="1.0" fill="#d01030"/>
<rect x="412.0" y="338.8" width="1.0" height="1.0" fill="#ffffff"/>
<rect x="406.7" y="319.3" width="1.0" height="1.0" fill="#d01030"/>
<rect x="395.9" y="343.1" width="1.0" height="1.0" fill="#5030a0"/>
<rect x="375.1" y="348.8" width="1.0" height="1.0" fill="#d01030"/>
<rect x="384.0" y="310.8" width="1.0" height="1.0" fill="#d01030"/>
<rect x="374.6" y="353.0" width="1.0" height="1.0" fill="#ffffff"/>
<rect x="378.3" y="301.6" width="1.0" height="1.0" fill="#ffffff"/>
<rect x="376.7" y="314.2" width="1.0" height="1.0" fill="#d01030"/>
<rect x="396.1" y="315.9" width="1.0" height="1.0" fill="#d01030"/>
<rect x="400.8" y="344.9" width="1.0" height="1.0" fill="#ffffff"/>
<rect x="409.1" y="329.1" width="1.0" height="1.0" fill="#ffffff"/>
<rect x="404.5" y="314.8" width="1.0" height="1.0" fill="#ffffff"/>
<rect x="374.3" y="318.7" width="1.0" height="1.0" fill="#ffffff"/>
<rect x="393.4" y="326.2" width="1.0" height="1.0" fill="#d01030"/>
<rect x="406.0" y="302.4" width="1.0" height="1.0" fill="#d01030"/>
<rect x="398.8" y="334.7" width="1.0" height="1.0" fill="#d01030"/>
<rect x="389.6" y="325.8" width="1.0" height="1.0" fill="#ffffff"/>
<rect x="401.7" y="324.3" width="1.0" height="1.0" fill="#d01030"/>
<rect x="409.0" y="332.9" width="1.0" height="1.0" fill="#d01030"/>
<rect x="388.3" y="328.6" width="1.0" height="1.0" fill="#d01030"/>
<rect x="409.8" y="331.8" width="1.0" height="1.0" fill="#5030a0"/>
<rect x="382.2" y="344.0" width="1.0" height="1.0" fill="#d01030"/>
<rect x="392.6" y="331.1" width="1.0" height="1.0" fill="#ffffff"/>
<rect x="411.6" y="317.2" width="1.0" height="1.0" fill="#ffffff"/>
<rect x="397.1" y="318.2" width="1.0" height="1.0" fill="#5030a0"/>
<rect x="383.7" y="347.0" width="1.0" height="1.0" fill="#d01030"/>
<rect x="375.5" y="308.2" width="1.0" height="1.0" fill="#ffffff"/>
<rect x="379.5" y="320.9" width="1.0" height="1.0" fill="#ffffff"/>
<rect x="393.9" y="314.4" width="1.0" height="1.0" fill="#d01030"/>
<rect x="396.9" y="331.5" width="1.0" height="1.0" fill="#ffffff"/>
<rect x="413.8" y="302.3" width="1.0" height="1.0" fill="#d01030"/>
<rect x="410.2" y="305.6" width="1.0" height="1.0" fill="#ffffff"/>
<rect x="405.0" y="334.1" width="1.0" height="1.0" fill="#d01030"/>
<rect x="377.7" y="342.6" width="1.0" height="1.0" fill="#ffffff"/>
<rect x="405.8" y="346.8" width="1.0" height="1.0" fill="#f0e0f0"/>
<rect x="401.2" y="316.6" width="1.0" height="1.0" fill="#d01030"/>
<rect x="387.5" y="319.8" width="1.0" height="1.0" fill="#f0e0f0"/>
<rect x="399.4" y="319.1" width="1.0" height="1.0" fill="#f0e0f0"/>
<rect x="402.6" y="318.3" width="1.0" height="1.0" fill="#ffffff"/>
<rect x="387.3" y="317.7" width="1.0" height="1.0" fill="#ffffff"/>
<rect x="393.2" y="320.0" width="1.0" height="1.0" fill="#f0e0f0"/>
<rect x="406.4" y="353.4" width="1.0" height="1.0" fill="#d01030"/>
<rect x="379.2" y="300.9" width="1.0" height="1.0" fill="#d01030"/>
<rect x="400.8" y="322.0" width="1.0" height="1.0" fill="#f0e0f0"/>
<rect x="396.7" y="316.6" width="1.0" height="1.0" fill="#ffffff"/>
<rect x="397.4" y="308.1" width="1.0" height="1.0" fill="#d01030"/>
<rect x="386.2" y="339.1" width="1.0" height="1.0" fill="#ffffff"/>
<rect x="400.3" y="351.8" width="1.0" height="1.0" fill="#ffffff"/>
<rect x="410.9" y="331.5" width="1.0" height="1.0" fill="#d01030"/>
<rect x="397.3" y="316.7" width="1.0" height="1.0" fill="#d01030"/>
<rect x="413.6" y="319.5" width="1.0" height="1.0" fill="#5030a0"/>
<rect x="401.6" y="338.8" width="1.0" height="1.0" fill="#f0e0f0"/>
<rect x="407.6" y="317.5" width="1.0" height="1.0" fill="#d01030"/>
<rect x="384.8" y="314.2" width="1.0" height="1.0" fill="#d01030"/>
<rect x="404.3" y="333.8" width="1.0" height="1.0" fill="#d01030"/>
<rect x="402.2" y="312.1" width="1.0" height="1.0" fill="#d01030"/>
<rect x="391.8" y="347.9" width="1.0" height="1.0" fill="#ffffff"/>
<rect x="408.6" y="334.9" width="1.0" height="1.0" fill="#5030a0"/>
<rect x="383.5" y="303.5" width="1.0" height="1.0" fill="#d01030"/>
<rect x="398.0" y="304.7" width="1.0" height="1.0" fill="#d01030"/>
<rect x="406.7" y="331.1" width="1.0" height="1.0" fill="#f0e0f0"/>
<rect x="379.2" y="310.5" width="1.0" height="1.0" fill="#ffffff"/>
<rect x="399.7" y="301.3" width="1.0" height="1.0" fill="#ffffff"/>
<rect x="411.0" y="311.8" width="1.0" height="1.0" fill="#5030a0"/>
<rect x="408.8" y="301.9" width="1.0" height="1.0" fill="#5030a0"/>
<rect x="390.1" y="336.6" width="1.0" height="1.0" fill="#ffffff"/>
<rect x="380.7" y="346.3" width="1.0" height="1.0" fill="#5030a0"/>
<rect x="375.5" y="333.8" width="1.0" height="1.0" fill="#f0e0f0"/>
<rect x="405.0" y="353.0" width="1.0" height="1.0" fill="#5030a0"/>
<rect x="384.1" y="325.1" width="1.0" height="1.0" fill="#ffffff"/>
<rect x="374.7" y="317.3" width="1.0" height="1.0" fill="#d01030"/>
<rect x="413.6" y="303.5" width="1.0" height="1.0" fill="#ffffff"/>
<rect x="402.4" y="344.8" width="1.0" height="1.0" fill="#ffffff"/>
<rect x="377.5" y="308.8" width="1.0" height="1.0" fill="#d01030"/>
<rect x="395.1" y="345.1" width="1.0" height="1.0" fill="#d01030"/>
<rect x="406.6" y="323.0" width="1.0" height="1.0" fill="#5030a0"/>
<rect x="401.2" y="346.5" width="1.0" height="1.0" fill="#ffffff"/>
<rect x="400.3" y="332.4" width="1.0" height="1.0" fill="#d01030"/>
<rect x="383.0" y="333.4" width="1.0" height="1.0" fill="#5030a0"/>
<rect x="402.4" y="341.0" width="1.0" height="1.0" fill="#f0e0f0"/>
<rect x="399.9" y="335.1" width="1.0" height="1.0" fill="#f0e0f0"/>
<rect x="413.2" y="324.6" width="1.0" height="1.0" fill="#ffffff"/>
<rect x="388.3" y="328.6" width="1.0" height="1.0" fill="#5030a0"/>
<rect x="379.0" y="301.0" width="1.0" height="1.0" fill="#5030a0"/>
<rect x="377.7" y="343.5" width="1.0" height="1.0" fill="#ffffff"/>
<rect x="379.8" y="333.9" width="1.0" height="1.0" fill="#5030a0"/>
<rect x="404.3" y="305.3" width="1.0" height="1.0" fill="#ffffff"/>
<rect x="398.9" y="307.0" width="1.0" height="1.0" fill="#d01030"/>
<rect x="394.0" y="330.0" width="1.0" height="1.0" fill="#ffffff"/>
<rect x="384.2" y="332.7" width="1.0" height="1.0" fill="#d01030"/>
<rect x="379.7" y="309.9" width="1.0" height="1.0" fill="#ffffff"/>
<rect x="408.3" y="341.9" width="1.0" height="1.0" fill="#ffffff"/>
<rect x="374.9" y="341.8" width="1.0" height="1.0" fill="#ffffff"/>
<rect x="391.5" y="346.2" width="1.0" height="1.0" fill="#d01030"/>
<rect x="399.4" y="318.8" width="1.0" height="1.0" fill="#d01030"/>
<rect x="389.4" y="311.8" width="1.0" height="1.0" fill="#f0e0f0"/>
<rect x="410.2" y="306.2" width="1.0" height="1.0" fill="#f0e0f0"/>
<rect x="374.3" y="343.3" width="1.0" height="1.0" fill="#ffffff"/>
<rect x="400.9" y="319.1" width="1.0" height="1.0" fill="#ffffff"/>
<rect x="396.5" y="322.3" width="1.0" height="1.0" fill="#d01030"/>
<rect x="411.9" y="333.8" width="1.0" height="1.0" fill="#ffffff"/>
<rect x="374.9" y="301.6" width="1.0" height="1.0" fill="#d01030"/>
<rect x="391.2" y="312.8" width="1.0" height="1.0" fill="#ffffff"/>
<rect x="386.9" y="323.1" width="1.0" height="1.0" fill="#d01030"/>
<rect x="385.8" y="353.3" width="1.0" height="1.0" fill="#5030a0"/>
<rect x="413.3" y="342.5" width="1.0" height="1.0" fill="#d01030"/>
<rect x="408.6" y="346.7" width="1.0" height="1.0" fill="#ffffff"/>
<rect x="412.3" y="307.7" width="1.0" height="1.0" fill="#5030a0"/>
<rect x="385.1" y="318.1" width="1.0" height="1.0" fill="#5030a0"/>
<rect x="408.9" y="313.8" width="1.0" height="1.0" fill="#ffffff"/>
<rect x="401.3" y="332.2" width="1.0" height="1.0" fill="#5030a0"/>
<rect x="382.3" y="303.3" width="1.0" height="1.0" fill="#ffffff"/>
<rect x="382.2" y="347.4" width="1.0" height="1.0" fill="#f0e0f0"/>
<rect x="375.6" y="341.6" width="1.0" height="1.0" fill="#5030a0"/>
<rect x="381.1" y="346.4" width="1.0" height="1.0" fill="#ffffff"/>
<rect x="401.4" y="343.2" width="1.0" height="1.0" fill="#5030a0"/>
<rect x="413.1" y="301.0" width="1.0" height="1.0" fill="#d01030"/>
<rect x="379.8" y="339.6" width="1.0" height="1.0" fill="#5030a0"/>
<rect x="404.1" y="325.2" width="1.0" height="1.0" fill="#d01030"/>
<rect x="377.3" y="318.5" width="1.0" height="1.0" fill="#ffffff"/>
<rect x="402.6" y="347.3" width="1.0" height="1.0" fill="#ffffff"/>
<rect x="397.3" y="311.2" width="1.0" height="1.0" fill="#d01030"/>
<rect x="401.6" y="302.5" width="1.0" height="1.0" fill="#ffffff"/>
<rect x="397.7" y="331.0" width="1.0" height="1.0" fill="#ffffff"/>
<rect x="377.9" y="301.6" width="1.0" height="1.0" fill="#ffffff"/>
<rect x="376.3" y="306.4" width="1.0" height="1.0" fill="#5030a0"/>
<rect x="412.9" y="328.4" width="1.0" height="1.0" fill="#ffffff"/>
<rect x="380.9" y="336.9" width="1.0" height="1.0" fill="#d01030"/>
<rect x="399.3" y="329.5" width="1.0" height="1.0" fill="#d01030"/>
<rect x="395.1" y="345.1" width="1.0" height="1.0" fill="#d01030"/>
<rect x="387.8" y="311.9" width="1.0" height="1.0" fill="#d01030"/>
<rect x="403.2" y="315.0" width="1.0" height="1.0" fill="#d01030"/>
<rect x="374.3" y="314.8" width="1.0" height="1.0" fill="#d01030"/>
<rect x="381.6" y="303.0" width="1.0" height="1.0" fill="#d01030"/>
<rect x="396.2" y="319.8" width="1.0" height="1.0" fill="#f0e0f0"/>
<rect x="386.9" y="302.7" width="1.0" height="1.0" fill="#d01030"/>
<rect x="395.7" y="329.6" width="1.0" height="1.0" fill="#ffffff"/>
<rect x="390.3" y="353.2" width="1.0" height="1.0" fill="#ffffff"/>
<rect x="402.7" y="321.7" width="1.0" height="1.0" fill="#ffffff"/>
<rect x="395.5" y="320.8" width="1.0" height="1.0" fill="#5030a0"/>
<rect x="389.3" y="321.0" width="1.0" height="1.0" fill="#d01030"/>
<rect x="406.2" y="348.2" width="1.0" height="1.0" fill="#ffffff"/>
<rect x="373.9" y="332.8" width="1.0" height="1.0" fill="#ffffff"/>
<rect x="401.7" y="339.3" width="1.0" height="1.0" fill="#5030a0"/>
<rect x="407.1" y="335.7" width="1.0" height="1.0" fill="#d01030"/>
<rect x="407.8" y="342.1" width="1.0" height="1.0" fill="#d01030"/>
<rect x="375.7" y="337.4" width="1.0" height="1.0" fill="#ffffff"/>
<rect x="401.4" y="324.0" width="1.0" height="1.0" fill="#5030a0"/>
<rect x="386.5" y="352.1" width="1.0" height="1.0" fill="#ffffff"/>
<rect x="392.8" y="334.9" width="1.0" height="1.0" fill="#d01030"/>
<rect x="394.3" y="332.0" width="1.0" height="1.0" fill="#ffffff"/>
<rect x="383.2" y="333.9" width="1.0" height="1.0" fill="#ffffff"/>
<rect x="408.8" y="319.4" width="1.0" height="1.0" fill="#ffffff"/>
<rect x="389.6" y="328.4" width="1.0" height="1.0" fill="#d01030"/>
<rect x="400.3" y="344.4" width="1.0" height="1.0" fill="#ffffff"/>
<rect x="399.1" y="329.3" width="1.0" height="1.0" fill="#d01030"/>
<rect x="411.0" y="341.1" width="1.0" height="1.0" fill="#d01030"/>
<rect x="410.4" y="325.6" width="1.0" height="1.0" fill="#5030a0"/>
<rect x="387.8" y="331.8" width="1.0" height="1.0" fill="#ffffff"/>
<rect x="382.6" y="308.0" width="1.0" height="1.0" fill="#ffffff"/>
<rect x="395.1" y="328.3" width="1.0" height="1.0" fill="#f0e0f0"/>
<rect x="380.5" y="319.9" width="1.0" height="1.0" fill="#ffffff"/>
<rect x="380.7" y="344.1" width="1.0" height="1.0" fill="#ffffff"/>
<rect x="380.9" y="350.8" width="1.0" height="1.0" fill="#ffffff"/>
<rect x="409.8" y="346.6" width="1.0" height="1.0" fill="#f0e0f0"/>
<rect x="386.7" y="319.7" width="1.0" height="1.0" fill="#d01030"/>
<rect x="406.7" y="307.0" width="1.0" height="1.0" fill="#f0e0f0"/>
<rect x="402.1" y="320.4" width="1.0" height="1.0" fill="#d01030"/>
<rect x="388.1" y="343.2" width="1.0" height="1.0" fill="#5030a0"/>
<rect x="385.9" y="335.7" width="1.0" height="1.0" fill="#ffffff"/>
<rect x="389.7" y="353.4" width="1.0" height="1.0" fill="#5030a0"/>
<rect x="378.2" y="334.2" width="1.0" height="1.0" fill="#ffffff"/>
<rect x="406.0" y="340.8" width="1.0" height="1.0" fill="#ffffff"/>
<rect x="373.9" y="307.4" width="1.0" height="1.0" fill="#d01030"/>
<rect x="394.7" y="313.1" width="1.0" height="1.0" fill="#ffffff"/>
<rect x="394.8" y="343.1" width="1.0" height="1.0" fill="#5030a0"/>
<rect x="374.4" y="311.2" width="1.0" height="1.0" fill="#5030a0"/>
<rect x="384.2" y="331.9" width="1.0" height="1.0" fill="#ffffff"/>
<rect x="402.7" y="315.1" width="1.0" height="1.0" fill="#5030a0"/>
<rect x="384.0" y="314.6" width="1.0" height="1.0" fill="#5030a0"/>
<rect x="377.4" y="334.3" width="1.0" height="1.0" fill="#ffffff"/>
<rect x="377.3" y="307.3" width="1.0" height="1.0" fill="#f0e0f0"/>
<rect x="385.4" y="342.0" width="1.0" height="1.0" fill="#f0e0f0"/>
<rect x="402.7" y="320.5" width="1.0" height="1.0" fill="#d01030"/>
<rect x="402.5" y="316.2" width="1.0" height="1.0" fill="#d01030"/>
<rect x="391.1" y="332.8" width="1.0" height="1.0" fill="#ffffff"/>
<rect x="387.9" y="321.0" width="1.0" height="1.0" fill="#5030a0"/>
<rect x="378.9" y="333.3" width="1.0" height="1.0" fill="#ffffff"/>
<rect x="402.5" y="320.3" width="1.0" height="1.0" fill="#f0e0f0"/>
<rect x="381.9" y="346.2" width="1.0" height="1.0" fill="#ffffff"/>
<rect x="404.2" y="320.6" width="1.0" height="1.0" fill="#d01030"/>
<rect x="390.5" y="350.2" width="1.0" height="1.0" fill="#ffffff"/>
<rect x="404.3" y="301.9" width="1.0" height="1.0" fill="#ffffff"/>
<rect x="396.5" y="350.2" width="1.0" height="1.0" fill="#ffffff"/>
<rect x="407.6" y="322.5" width="1.0" height="1.0" fill="#ffffff"/>
<rect x="380.8" y="304.0" width="1.0" height="1.0" fill="#ffffff"/>
<rect x="393.5" y="327.7" width="1.0" height="1.0" fill="#ffffff"/>
<rect x="374.1" y="312.8" width="1.0" height="1.0" fill="#f0e0f0"/>
<rect x="389.9" y="302.7" width="1.0" height="1.0" fill="#d01030"/>
<rect x="385.6" y="318.0" width="1.0" height="1.0" fill="#ffffff"/>
<rect x="404.8" y="306.8" width="1.0" height="1.0" fill="#ffffff"/>
<rect x="408.0" y="330.8" width="1.0" height="1.0" fill="#d01030"/>
<rect x="377.8" y="305.2" width="1.0" height="1.0" fill="#d01030"/>
<rect x="382.4" y="324.6" width="1.0" height="1.0" fill="#f0e0f0"/>
<rect x="401.2" y="338.3" width="1.0" height="1.0" fill="#f0e0f0"/>
<rect x="408.6" y="329.7" width="1.0" height="1.0" fill="#ffffff"/>
<rect x="390.6" y="331.5" width="1.0" height="1.0" fill="#ffffff"/>
<rect x="406.7" y="346.8" width="1.0" height="1.0" fill="#ffffff"/>
<rect x="386.6" y="310.6" width="1.0" height="1.0" fill="#d01030"/>
<rect x="381.2" y="329.1" width="1.0" height="1.0" fill="#d01030"/>
<rect x="384.3" y="317.1" width="1.0" height="1.0" fill="#ffffff"/>
<rect x="400.5" y="316.4" width="1.0" height="1.0" fill="#5030a0"/>
<rect x="394.3" y="322.8" width="1.0" height="1.0" fill="#ffffff"/>
<rect x="386.1" y="313.7" width="1.0" height="1.0" fill="#d01030"/>
<rect x="406.1" y="346.0" width="1.0" height="1.0" fill="#ffffff"/>
<rect x="386.0" y="307.5" width="1.0" height="1.0" fill="#5030a0"/>
<rect x="395.4" y="320.3" width="1.0" height="1.0" fill="#d01030"/>
<rect x="400.2" y="338.2" width="1.0" height="1.0" fill="#ffffff"/>
<rect x="388.5" y="343.1" width="1.0" height="1.0" fill="#d01030"/>
<rect x="392.1" y="338.0" width="1.0" height="1.0" fill="#d01030"/>
<rect x="375.8" y="317.2" width="1.0" height="1.0" fill="#ffffff"/>
<rect x="376.4" y="351.0" width="1.0" height="1.0" fill="#ffffff"/>
<rect x="386.8" y="315.0" width="1.0" height="1.0" fill="#f0e0f0"/>
<rect x="391.4" y="311.1" width="1.0" height="1.0" fill="#f0e0f0"/>
<rect x="406.1" y="331.9" width="1.0" height="1.0" fill="#d01030"/>
<rect x="390.1" y="339.1" width="1.0" height="1.0" fill="#ffffff"/>
<rect x="409.2" y="303.6" width="1.0" height="1.0" fill="#d01030"/>
<rect x="408.4" y="307.1" width="1.0" height="1.0" fill="#ffffff"/>
<rect x="408.6" y="304.3" width="1.0" height="1.0" fill="#d01030"/>
<rect x="393.8" y="301.3" width="1.0" height="1.0" fill="#ffffff"/>
<rect x="396.4" y="343.0" width="1.0" height="1.0" fill="#ffffff"/>
<rect x="382.6" y="338.8" width="1.0" height="1.0" fill="#ffffff"/>
<rect x="385.6" y="311.7" width="1.0" height="1.0" fill="#ffffff"/>
<rect x="380.1" y="341.8" width="1.0" height="1.0" fill="#f0e0f0"/>
<rect x="382.1" y="305.9" width="1.0" height="1.0" fill="#ffffff"/>
<rect x="381.8" y="305.4" width="1.0" height="1.0" fill="#d01030"/>
<rect x="390.5" y="335.5" width="1.0" height="1.0" fill="#d01030"/>
<rect x="402.2" y="324.0" width="1.0" height="1.0" fill="#5030a0"/>
<rect x="380.0" y="303.5" width="1.0" height="1.0" fill="#ffffff"/>
<rect x="379.1" y="309.0" width="1.0" height="1.0" fill="#ffffff"/>
<rect x="385.6" y="312.9" width="1.0" height="1.0" fill="#ffffff"/>
<rect x="405.9" y="338.0" width="1.0" height="1.0" fill="#ffffff"/>
<rect x="379.9" y="348.9" width="1.0" height="1.0" fill="#ffffff"/>
<rect x="395.9" y="311.9" width="1.0" height="1.0" fill="#5030a0"/>
<rect x="400.6" y="312.8" width="1.0" height="1.0" fill="#f0e0f0"/>
<rect x="386.9" y="308.8" width="1.0" height="1.0" fill="#d01030"/>
<rect x="382.7" y="329.5" width="1.0" height="1.0" fill="#5030a0"/>
<rect x="381.7" y="308.4" width="1.0" height="1.0" fill="#d01030"/>
<rect x="391.1" y="336.5" width="1.0" height="1.0" fill="#d01030"/>
<rect x="375.3" y="319.2" width="1.0" height="1.0" fill="#d01030"/>
<rect x="411.0" y="353.4" width="1.0" height="1.0" fill="#ffffff"/>
<rect x="395.0" y="315.9" width="1.0" height="1.0" fill="#ffffff"/>
<rect x="374.4" y="342.0" width="1.0" height="1.0" fill="#5030a0"/>
<rect x="381.8" y="315.4" width="1.0" height="1.0" fill="#d01030"/>
<rect x="397.9" y="329.2" width="1.0" height="1.0" fill="#5030a0"/>
<rect x="381.8" y="325.5" width="1.0" height="1.0" fill="#d01030"/>
<rect x="409.8" y="345.4" width="1.0" height="1.0" fill="#f0e0f0"/>
<rect x="397.1" y="316.4" width="1.0" height="1.0" fill="#d01030"/>
<rect x="397.9" y="351.9" width="1.0" height="1.0" fill="#ffffff"/>
<rect x="381.6" y="308.6" width="1.0" height="1.0" fill="#5030a0"/>
<rect x="375.7" y="318.2" width="1.0" height="1.0" fill="#5030a0"/>
<rect x="393.1" y="318.0" width="1.0" height="1.0" fill="#ffffff"/>
<rect x="380.9" y="342.3" width="1.0" height="1.0" fill="#5030a0"/>
<rect x="406.4" y="338.9" width="1.0" height="1.0" fill="#5030a0"/>
<rect x="377.6" y="329.8" width="1.0" height="1.0" fill="#ffffff"/>
<rect x="380.2" y="321.4" width="1.0" height="1.0" fill="#f0e0f0"/>
<rect x="375.1" y="327.8" width="1.0" height="1.0" fill="#d01030"/>
<rect x="390.4" y="337.5" width="1.0" height="1.0" fill="#d01030"/>
<rect x="397.1" y="319.2" width="1.0" height="1.0" fill="#ffffff"/>
<rect x="403.1" y="339.5" width="1.0" height="1.0" fill="#5030a0"/>
<rect x="380.6" y="350.5" width="1.0" height="1.0" fill="#5030a0"/>
<rect x="373.9" y="334.7" width="1.0" height="1.0" fill="#5030a0"/>
<rect x="393.1" y="308.4" width="1.0" height="1.0" fill="#f0e0f0"/>
<rect x="378.0" y="313.2" width="1.0" height="1.0" fill="#d01030"/>
<rect x="393.7" y="329.0" width="1.0" height="1.0" fill="#d01030"/>
<rect x="386.8" y="313.6" width="1.0" height="1.0" fill="#d01030"/>
<rect x="395.3" y="327.4" width="1.0" height="1.0" fill="#ffffff"/>
<rect x="412.1" y="315.6" width="1.0" height="1.0" fill="#5030a0"/>
<rect x="381.9" y="307.2" width="1.0" height="1.0" fill="#ffffff"/>
<rect x="403.1" y="328.9" width="1.0" height="1.0" fill="#d01030"/>
<rect x="409.7" y="301.3" width="1.0" height="1.0" fill="#d01030"/>
<rect x="393.4" y="342.5" width="1.0" height="1.0" fill="#d01030"/>
<rect x="382.2" y="340.0" width="1.0" height="1.0" fill="#ffffff"/>
<rect x="404.0" y="308.7" width="1.0" height="1.0" fill="#d01030"/>
<rect x="414.0" y="323.0" width="1.0" height="1.0" fill="#5030a0"/>
<rect x="394.6" y="316.0" width="1.0" height="1.0" fill="#ffffff"/>
<rect x="377.1" y="331.2" width="1.0" height="1.0" fill="#d01030"/>
<rect x="383.5" y="341.6" width="1.0" height="1.0" fill="#d01030"/>
<rect x="402.4" y="303.8" width="1.0" height="1.0" fill="#ffffff"/>
<rect x="376.7" y="318.4" width="1.0" height="1.0" fill="#d01030"/>
<rect x="375.4" y="333.3" width="1.0" height="1.0" fill="#d01030"/>
<rect x="380.8" y="316.6" width="1.0" height="1.0" fill="#ffffff"/>
<rect x="406.4" y="325.0" width="1.0" height="1.0" fill="#d01030"/>
<rect x="374.1" y="350.4" width="1.0" height="1.0" fill="#d01030"/>
<rect x="405.5" y="302.2" width="1.0" height="1.0" fill="#ffffff"/>
<rect x="383.6" y="339.5" width="1.0" height="1.0" fill="#f0e0f0"/>
<rect x="380.5" y="342.9" width="1.0" height="1.0" fill="#ffffff"/>
<rect x="379.4" y="311.0" width="1.0" height="1.0" fill="#f0e0f0"/>
<rect x="401.4" y="338.1" width="1.0" height="1.0" fill="#d01030"/>
<rect x="414.0" y="342.5" width="1.0" height="1.0" fill="#d01030"/>
<rect x="375.2" y="328.4" width="1.0" height="1.0" fill="#ffffff"/>
<rect x="410.4" y="340.4" width="1.0" height="1.0" fill="#5030a0"/>
<rect x="376.2" y="346.5" width="1.0" height="1.0" fill="#ffffff"/>
<rect x="407.9" y="342.3" width="1.0" height="1.0" fill="#d01030"/>
<rect x="400.0" y="352.1" width="1.0" height="1.0" fill="#d01030"/>
<rect x="380.3" y="351.8" width="1.0" height="1.0" fill="#ffffff"/>
<rect x="404.9" y="326.8" width="1.0" height="1.0" fill="#ffffff"/>
<rect x="407.2" y="350.3" width="1.0" height="1.0" fill="#5030a0"/>
<rect x="403.8" y="344.7" width="1.0" height="1.0" fill="#d01030"/>
<rect x="401.2" y="309.2" width="1.0" height="1.0" fill="#f0e0f0"/>
<rect x="407.0" y="342.2" width="1.0" height="1.0" fill="#ffffff"/>
<rect x="394.4" y="340.2" width="1.0" height="1.0" fill="#f0e0f0"/>
<rect x="395.2" y="350.7" width="1.0" height="1.0" fill="#ffffff"/>
<rect x="376.4" y="342.1" width="1.0" height="1.0" fill="#d01030"/>
<rect x="383.9" y="345.0" width="1.0" height="1.0" fill="#f0e0f0"/>
<rect x="383.4" y="331.7" width="1.0" height="1.0" fill="#d01030"/>
<rect x="383.3" y="326.7" width="1.0" height="1.0" fill="#ffffff"/>
<rect x="409.6" y="303.2" width="1.0" height="1.0" fill="#ffffff"/>
<rect x="405.4" y="342.6" width="1.0" height="1.0" fill="#ffffff"/>
<rect x="405.0" y="318.7" width="1.0" height="1.0" fill="#ffffff"/>
<rect x="390.1" y="305.1" width="1.0" height="1.0" fill="#ffffff"/>
<rect x="400.8" y="342.5" width="1.0" height="1.0" fill="#ffffff"/>
<rect x="397.7" y="344.9" width="1.0" height="1.0" fill="#ffffff"/>
<rect x="386.0" y="316.5" width="1.0" height="1.0" fill="#f0e0f0"/>
<rect x="374.4" y="306.4" width="1.0" height="1.0" fill="#ffffff"/>
<rect x="392.9" y="322.3" width="1.0" height="1.0" fill="#f0e0f0"/>
<rect x="392.2" y="318.3" width="1.0" height="1.0" fill="#5030a0"/>
<rect x="377.1" y="321.4" width="1.0" height="1.0" fill="#d01030"/>
<rect x="398.7" y="316.0" width="1.0" height="1.0" fill="#ffffff"/>
<rect x="413.8" y="310.4" width="1.0" height="1.0" fill="#d01030"/>
<rect x="390.2" y="329.1" width="1.0" height="1.0" fill="#ffffff"/>
<rect x="378.6" y="336.8" width="1.0" height="1.0" fill="#d01030"/>
<rect x="388.9" y="348.1" width="1.0" height="1.0" fill="#d01030"/>
<rect x="384.7" y="351.4" width="1.0" height="1.0" fill="#ffffff"/>
<rect x="380.5" y="319.2" width="1.0" height="1.0" fill="#5030a0"/>
<rect x="398.4" y="348.0" width="1.0" height="1.0" fill="#f0e0f0"/>
<rect x="386.2" y="317.4" width="1.0" height="1.0" fill="#ffffff"/>
<rect x="405.6" y="332.7" width="1.0" height="1.0" fill="#ffffff"/>
<rect x="407.3" y="309.1" width="1.0" height="1.0" fill="#f0e0f0"/>
<rect x="374.1" y="345.8" width="1.0" height="1.0" fill="#ffffff"/>
<rect x="411.9" y="324.6" width="1.0" height="1.0" fill="#d01030"/>
<rect x="400.2" y="339.6" width="1.0" height="1.0" fill="#f0e0f0"/>
<rect x="377.8" y="329.8" width="1.0" height="1.0" fill="#ffffff"/>
<rect x="404.1" y="335.9" width="1.0" height="1.0" fill="#f0e0f0"/>
<rect x="411.2" y="348.0" width="1.0" height="1.0" fill="#d01030"/>
<rect x="390.5" y="327.8" width="1.0" height="1.0" fill="#ffffff"/>
<rect x="391.6" y="351.4" width="1.0" height="1.0" fill="#5030a0"/>
<rect x="386.0" y="338.2" width="1.0" height="1.0" fill="#5030a0"/>
<rect x="388.9" y="328.2" width="1.0" height="1.0" fill="#ffffff"/>
<rect x="376.1" y="335.3" width="1.0" height="1.0" fill="#ffffff"/>
<rect x="388.4" y="352.3" width="1.0" height="1.0" fill="#ffffff"/>
<rect x="409.1" y="347.7" width="1.0" height="1.0" fill="#d01030"/>
<rect x="396.2" y="324.3" width="1.0" height="1.0" fill="#d01030"/>
<rect x="394.4" y="308.6" width="1.0" height="1.0" fill="#f0e0f0"/>
<rect x="404.0" y="302.4" width="1.0" height="1.0" fill="#ffffff"/>
<rect x="393.2" y="300.9" width="1.0" height="1.0" fill="#5030a0"/>
<rect x="379.5" y="331.7" width="1.0" height="1.0" fill="#5030a0"/>
<rect x="394.2" y="353.5" width="1.0" height="1.0" fill="#ffffff"/>
<rect x="403.9" y="334.6" width="1.0" height="1.0" fill="#d01030"/>
<rect x="399.0" y="313.3" width="1.0" height="1.0" fill="#5030a0"/>
<rect x="395.7" y="322.8" width="1.0" height="1.0" fill="#f0e0f0"/>
<rect x="399.9" y="343.2" width="1.0" height="1.0" fill="#ffffff"/>
<rect x="399.5" y="326.7" width="1.0" height="1.0" fill="#ffffff"/>
<rect x="388.3" y="348.4" width="1.0" height="1.0" fill="#ffffff"/>
<rect x="380.2" y="331.0" width="1.0" height="1.0" fill="#5030a0"/>
<rect x="375.7" y="328.8" width="1.0" height="1.0" fill="#f0e0f0"/>
<rect x="381.8" y="343.4" width="1.0" height="1.0" fill="#d01030"/>
<rect x="380.3" y="339.7" width="1.0" height="1.0" fill="#d01030"/>
<rect x="401.2" y="348.7" width="1.0" height="1.0" fill="#d01030"/>
<rect x="385.7" y="320.8" width="1.0" height="1.0" fill="#ffffff"/>
<rect x="412.6" y="310.4" width="1.0" height="1.0" fill="#5030a0"/>
<rect x="409.7" y="325.7" width="1.0" height="1.0" fill="#5030a0"/>
<rect x="386.7" y="323.8" width="1.0" height="1.0" fill="#ffffff"/>
<rect x="401.2" y="319.7" width="1.0" height="1.0" fill="#d01030"/>
<rect x="389.3" y="351.7" width="1.0" height="1.0" fill="#5030a0"/>
<rect x="378.2" y="349.7" width="1.0" height="1.0" fill="#5030a0"/>
<rect x="391.9" y="345.0" width="1.0" height="1.0" fill="#ffffff"/>
<rect x="380.2" y="347.9" width="1.0" height="1.0" fill="#ffffff"/>
<rect x="379.8" y="340.7" width="1.0" height="1.0" fill="#d01030"/>
<rect x="400.4" y="345.5" width="1.0" height="1.0" fill="#ffffff"/>
<rect x="404.1" y="315.1" width="1.0" height="1.0" fill="#ffffff"/>
<rect x="402.7" y="321.5" width="1.0" height="1.0" fill="#5030a0"/>
<rect x="385.4" y="334.0" width="1.0" height="1.0" fill="#f0e0f0"/>
<rect x="391.9" y="301.1" width="1.0" height="1.0" fill="#5030a0"/>
<rect x="407.1" y="330.6" width="1.0" height="1.0" fill="#ffffff"/>
<rect x="398.0" y="319.6" width="1.0" height="1.0" fill="#5030a0"/>
<rect x="409.5" y="347.0" width="1.0" height="1.0" fill="#d01030"/>
<rect x="404.2" y="336.5" width="1.0" height="1.0" fill="#d01030"/>
<rect x="407.4" y="338.3" width="1.0" height="1.0" fill="#ffffff"/>
<rect x="380.4" y="309.9" width="1.0" height="1.0" fill="#5030a0"/>
<rect x="399.3" y="337.2" width="1.0" height="1.0" fill="#ffffff"/>
<rect x="390.0" y="345.2" width="1.0" height="1.0" fill="#f0e0f0"/>
<rect x="403.7" y="318.6" width="1.0" height="1.0" fill="#f0e0f0"/>
<rect x="393.9" y="318.4" width="1.0" height="1.0" fill="#ffffff"/>
<rect x="381.2" y="346.8" width="1.0" height="1.0" fill="#f0e0f0"/>
<rect x="403.4" y="322.5" width="1.0" height="1.0" fill="#ffffff"/>
<rect x="379.1" y="318.5" width="1.0" height="1.0" fill="#5030a0"/>
<rect x="411.1" y="304.0" width="1.0" height="1.0" fill="#d01030"/>
<rect x="408.1" y="336.0" width="1.0" height="1.0" fill="#d01030"/>
<rect x="391.2" y="311.9" width="1.0" height="1.0" fill="#ffffff"/>
<rect x="384.8" y="345.4" width="1.0" height="1.0" fill="#ffffff"/>
<rect x="408.2" y="307.5" width="1.0" height="1.0" fill="#f0e0f0"/>
<rect x="400.8" y="340.5" width="1.0" height="1.0" fill="#d01030"/>
<rect x="378.7" y="315.5" width="1.0" height="1.0" fill="#ffffff"/>
<rect x="403.7" y="344.1" width="1.0" height="1.0" fill="#d01030"/>
<rect x="389.1" y="315.8" width="1.0" height="1.0" fill="#ffffff"/>
<rect x="402.1" y="337.9" width="1.0" height="1.0" fill="#ffffff"/>
<rect x="409.9" y="338.3" width="1.0" height="1.0" fill="#ffffff"/>
<rect x="398.1" y="344.3" width="1.0" height="1.0" fill="#f0e0f0"/>
<rect x="398.3" y="348.5" width="1.0" height="1.0" fill="#5030a0"/>
<rect x="377.5" y="336.4" width="1.0" height="1.0" fill="#5030a0"/>
<rect x="376.9" y="301.7" width="1.0" height="1.0" fill="#f0e0f0"/>
<rect x="376.6" y="345.0" width="1.0" height="1.0" fill="#ffffff"/>
<rect x="382.5" y="324.8" width="1.0" height="1.0" fill="#5030a0"/>
<rect x="379.3" y="315.1" width="1.0" height="1.0" fill="#f0e0f0"/>
<rect x="413.2" y="331.8" width="1.0" height="1.0" fill="#d01030"/>
<rect x="406.3" y="302.6" width="1.0" height="1.0" fill="#ffffff"/>
<rect x="392.6" y="326.2" width="1.0" height="1.0" fill="#f0e0f0"/>
<rect x="399.1" y="318.6" width="1.0" height="1.0" fill="#5030a0"/>
<rect x="395.1" y="312.7" width="1.0" height="1.0" fill="#5030a0"/>
<rect x="405.8" y="311.6" width="1.0" height="1.0" fill="#ffffff"/>
<rect x="413.0" y="331.2" width="1.0" height="1.0" fill="#f0e0f0"/>
<rect x="374.9" y="341.8" width="1.0" height="1.0" fill="#ffffff"/>
<rect x="406.5" y="314.7" width="1.0" height="1.0" fill="#d01030"/>
<rect x="376.2" y="334.0" width="1.0" height="1.0" fill="#5030a0"/>
<rect x="377.3" y="306.5" width="1.0" height="1.0" fill="#ffffff"/>
<rect x="394.4" y="331.8" width="1.0" height="1.0" fill="#ffffff"/>
<rect x="400.6" y="347.3" width="1.0" height="1.0" fill="#d01030"/>
<rect x="406.2" y="351.5" width="1.0" height="1.0" fill="#d01030"/>
<rect x="400.3" y="313.9" width="1.0" height="1.0" fill="#5030a0"/>
<rect x="393.0" y="307.6" width="1.0" height="1.0" fill="#ffffff"/>
<rect x="412.9" y="347.2" width="1.0" height="1.0" fill="#ffffff"/>
<rect x="392.1" y="318.6" width="1.0" height="1.0" fill="#ffffff"/>
<rect x="378.2" y="309.3" width="1.0" height="1.0" fill="#d01030"/>
<rect x="381.5" y="339.6" width="1.0" height="1.0" fill="#f0e0f0"/>
<rect x="374.4" y="341.8" width="1.0" height="1.0" fill="#ffffff"/>
<rect x="402.1" y="310.9" width="1.0" height="1.0" fill="#f0e0f0"/>
<rect x="381.8" y="340.6" width="1.0" height="1.0" fill="#5030a0"/>
<rect x="413.0" y="340.2" width="1.0" height="1.0" fill="#f0e0f0"/>
<rect x="410.9" y="338.9" width="1.0" height="1.0" fill="#d01030"/>
<rect x="374.3" y="319.3" width="1.0" height="1.0" fill="#ffffff"/>
<rect x="374.2" y="346.4" width="1.0" height="1.0" fill="#ffffff"/>
<rect x="403.9" y="329.1" width="1.0" height="1.0" fill="#ffffff"/>
<rect x="388.1" y="309.2" width="1.0" height="1.0" fill="#ffffff"/>
<rect x="386.5" y="319.3" width="1.0" height="1.0" fill="#ffffff"/>
<rect x="375.5" y="309.8" width="1.0" height="1.0" fill="#d01030"/>
<rect x="390.7" y="302.1" width="1.0" height="1.0" fill="#5030a0"/>
<rect x="392.1" y="305.9" width="1.0" height="1.0" fill="#ffffff"/>
<rect x="408.4" y="319.8" width="1.0" height="1.0" fill="#d01030"/>
<rect x="393.3" y="304.9" width="1.0" height="1.0" fill="#ffffff"/>
<rect x="405.8" y="325.8" width="1.0" height="1.0" fill="#5030a0"/>
<rect x="413.1" y="345.6" width="1.0" height="1.0" fill="#f0e0f0"/>
<rect x="396.5" y="327.5" width="1.0" height="1.0" fill="#ffffff"/>
<rect x="388.0" y="335.4" width="1.0" height="1.0" fill="#d01030"/>
<rect x="402.4" y="350.7" width="1.0" height="1.0" fill="#d01030"/>
<rect x="391.3" y="339.4" width="1.0" height="1.0" fill="#ffffff"/>
<rect x="380.2" y="348.1" width="1.0" height="1.0" fill="#ffffff"/>
<rect x="379.1" y="301.2" width="1.0" height="1.0" fill="#ffffff"/>
<rect x="403.1" y="328.7" width="1.0" height="1.0" fill="#d01030"/>
<rect x="374.1" y="344.6" width="1.0" height="1.0" fill="#d01030"/>
<rect x="377.2" y="341.9" width="1.0" height="1.0" fill="#f0e0f0"/>
<rect x="409.6" y="328.9" width="1.0" height="1.0" fill="#d01030"/>
<rect x="408.4" y="318.5" width="1.0" height="1.0" fill="#d01030"/>
<rect x="409.5" y="326.2" width="1.0" height="1.0" fill="#ffffff"/>
<rect x="410.2" y="300.9" width="1.0" height="1.0" fill="#ffffff"/>
<rect x="410.3" y="320.8" width="1.0" height="1.0" fill="#d01030"/>
<rect x="377.7" y="347.1" width="1.0" height="1.0" fill="#d01030"/>
<rect x="391.5" y="330.9" width="1.0" height="1.0" fill="#d01030"/>
<rect x="401.4" y="349.0" width="1.0" height="1.0" fill="#ffffff"/>
<rect x="376.4" y="339.0" width="1.0" height="1.0" fill="#f0e0f0"/>
<rect x="408.5" y="309.5" width="1.0" height="1.0" fill="#d01030"/>
<rect x="400.9" y="338.4" width="1.0" height="1.0" fill="#ffffff"/>
<rect x="402.7" y="325.4" width="1.0" height="1.0" fill="#d01030"/>
<rect x="398.2" y="306.8" width="1.0" height="1.0" fill="#ffffff"/>
<rect x="397.9" y="303.8" width="1.0" height="1.0" fill="#ffffff"/>
<rect x="406.0" y="347.7" width="1.0" height="1.0" fill="#d01030"/>
<rect x="389.5" y="342.3" width="1.0" height="1.0" fill="#d01030"/>
<rect x="382.8" y="339.7" width="1.0" height="1.0" fill="#f0e0f0"/>
<rect x="375.2" y="305.5" width="1.0" height="1.0" fill="#ffffff"/>
<rect x="406.1" y="302.5" width="1.0" height="1.0" fill="#d01030"/>
<rect x="389.9" y="350.5" width="1.0" height="1.0" fill="#d01030"/>
<rect x="405.0" y="302.8" width="1.0" height="1.0" fill="#d01030"/>
<rect x="399.5" y="349.3" width="1.0" height="1.0" fill="#ffffff"/>
<rect x="375.4" y="325.3" width="1.0" height="1.0" fill="#5030a0"/>
<rect x="404.3" y="306.0" width="1.0" height="1.0" fill="#ffffff"/>
<rect x="377.6" y="308.1" width="1.0" height="1.0" fill="#ffffff"/>
<rect x="380.3" y="327.7" width="1.0" height="1.0" fill="#ffffff"/>
<rect x="394.3" y="351.3" width="1.0" height="1.0" fill="#d01030"/>
<rect x="410.7" y="300.6" width="1.0" height="1.0" fill="#ffffff"/>
<rect x="374.9" y="334.9" width="1.0" height="1.0" fill="#f0e0f0"/>
<rect x="394.0" y="333.4" width="1.0" height="1.0" fill="#d01030"/>
<rect x="405.7" y="329.0" width="1.0" height="1.0" fill="#ffffff"/>
<rect x="375.9" y="329.5" width="1.0" height="1.0" fill="#ffffff"/>
<rect x="392.2" y="336.1" width="1.0" height="1.0" fill="#5030a0"/>
<rect x="403.8" y="301.8" width="1.0" height="1.0" fill="#ffffff"/>
<rect x="394.2" y="345.0" width="1.0" height="1.0" fill="#f0e0f0"/>
<rect x="378.6" y="335.0" width="1.0" height="1.0" fill="#d01030"/>
<rect x="400.8" y="352.7" width="1.0" height="1.0" fill="#d01030"/>
<rect x="413.1" y="329.5" width="1.0" height="1.0" fill="#ffffff"/>
<rect x="401.1" y="305.2" width="1.0" height="1.0" fill="#5030a0"/>
<rect x="408.0" y="345.5" width="1.0" height="1.0" fill="#d01030"/>
<rect x="377.3" y="315.0" width="1.0" height="1.0" fill="#d01030"/>
<rect x="404.5" y="308.3" width="1.0" height="1.0" fill="#5030a0"/>
<rect x="397.0" y="318.3" width="1.0" height="1.0" fill="#ffffff"/>
<rect x="374.0" y="304.5" width="1.0" height="1.0" fill="#d01030"/>
<rect x="401.3" y="341.2" width="1.0" height="1.0" fill="#d01030"/>
<rect x="394.7" y="324.7" width="1.0" height="1.0" fill="#d01030"/>
<rect x="411.0" y="331.0" width="1.0" height="1.0" fill="#ffffff"/>
<rect x="410.7" y="339.4" width="1.0" height="1.0" fill="#d01030"/>
<rect x="376.9" y="301.6" width="1.0" height="1.0" fill="#f0e0f0"/>
<rect x="402.7" y="302.1" width="1.0" height="1.0" fill="#d01030"/>
<rect x="379.2" y="348.9" width="1.0" height="1.0" fill="#ffffff"/>
<rect x="409.2" y="310.0" width="1.0" height="1.0" fill="#f0e0f0"/>
<rect x="391.5" y="338.0" width="1.0" height="1.0" fill="#5030a0"/>
<rect x="405.5" y="345.4" width="1.0" height="1.0" fill="#5030a0"/>
<rect x="386.8" y="305.5" width="1.0" height="1.0" fill="#d01030"/>
<rect x="380.3" y="350.8" width="1.0" height="1.0" fill="#ffffff"/>
<rect x="411.4" y="341.0" width="1.0" height="1.0" fill="#ffffff"/>
<rect x="404.1" y="340.3" width="1.0" height="1.0" fill="#f0e0f0"/>
<rect x="384.8" y="313.8" width="1.0" height="1.0" fill="#5030a0"/>
<rect x="395.4" y="318.6" width="1.0" height="1.0" fill="#ffffff"/>
<rect x="409.5" y="349.4" width="1.0" height="1.0" fill="#ffffff"/>
<rect x="373.8" y="341.4" width="1.0" height="1.0" fill="#5030a0"/>
<rect x="409.6" y="342.7" width="1.0" height="1.0" fill="#d01030"/>
<rect x="380.2" y="302.4" width="1.0" height="1.0" fill="#ffffff"/>
<rect x="386.4" y="333.8" width="1.0" height="1.0" fill="#f0e0f0"/>
<rect x="376.3" y="307.0" width="1.0" height="1.0" fill="#5030a0"/>
<rect x="380.2" y="328.7" width="1.0" height="1.0" fill="#ffffff"/>
<rect x="400.5" y="313.5" width="1.0" height="1.0" fill="#ffffff"/>
<rect x="411.3" y="328.0" width="1.0" height="1.0" fill="#ffffff"/>
<rect x="412.8" y="305.3" width="1.0" height="1.0" fill="#f0e0f0"/>
<rect x="382.5" y="340.6" width="1.0" height="1.0" fill="#d01030"/>
<rect x="402.6" y="323.4" width="1.0" height="1.0" fill="#d01030"/>
<rect x="413.7" y="309.9" width="1.0" height="1.0" fill="#d01030"/>
<rect x="398.5" y="309.3" width="1.0" height="1.0" fill="#ffffff"/>
<rect x="385.2" y="321.3" width="1.0" height="1.0" fill="#ffffff"/>
<rect x="384.1" y="302.0" width="1.0" height="1.0" fill="#5030a0"/>
<rect x="408.7" y="334.5" width="1.0" height="1.0" fill="#ffffff"/>
<rect x="412.7" y="334.7" width="1.0" height="1.0" fill="#ffffff"/>
<rect x="379.4" y="304.2" width="1.0" height="1.0" fill="#ffffff"/>
<rect x="401.8" y="316.6" width="1.0" height="1.0" fill="#d01030"/>
<rect x="403.2" y="328.9" width="1.0" height="1.0" fill="#d01030"/>
<rect x="388.3" y="308.1" width="1.0" height="1.0" fill="#d01030"/>
<rect x="402.9" y="334.9" width="1.0" height="1.0" fill="#d01030"/>
<rect x="401.5" y="315.0" width="1.0" height="1.0" fill="#ffffff"/>
<rect x="391.9" y="348.3" width="1.0" height="1.0" fill="#f0e0f0"/>
<rect x="385.9" y="322.2" width="1.0" height="1.0" fill="#5030a0"/>
<rect x="380.7" y="353.0" width="1.0" height="1.0" fill="#ffffff"/>
<rect x="408.5" y="325.0" width="1.0" height="1.0" fill="#d01030"/>
<rect x="407.3" y="302.1" width="1.0" height="1.0" fill="#5030a0"/>
<rect x="405.4" y="306.2" width="1.0" height="1.0" fill="#f0e0f0"/>
<rect x="406.1" y="336.1" width="1.0" height="1.0" fill="#d01030"/>
<rect x="398.9" y="345.4" width="1.0" height="1.0" fill="#5030a0"/>
<rect x="410.3" y="308.9" width="1.0" height="1.0" fill="#d01030"/>
<rect x="400.4" y="317.1" width="1.0" height="1.0" fill="#ffffff"/>
<rect x="381.0" y="308.1" width="1.0" height="1.0" fill="#5030a0"/>
<rect x="407.5" y="303.5" width="1.0" height="1.0" fill="#d01030"/>
<rect x="400.1" y="330.7" width="1.0" height="1.0" fill="#5030a0"/>
<rect x="376.2" y="316.2" width="1.0" height="1.0" fill="#d01030"/>
<rect x="408.1" y="307.4" width="1.0" height="1.0" fill="#5030a0"/>
<rect x="388.4" y="338.9" width="1.0" height="1.0" fill="#5030a0"/>
<rect x="388.6" y="339.6" width="1.0" height="1.0" fill="#d01030"/>
<rect x="388.5" y="328.3" width="1.0" height="1.0" fill="#5030a0"/>
<rect x="408.9" y="348.8" width="1.0" height="1.0" fill="#d01030"/>
<rect x="385.2" y="320.7" width="1.0" height="1.0" fill="#d01030"/>
<rect x="374.9" y="334.9" width="1.0" height="1.0" fill="#f0e0f0"/>
<rect x="404.5" y="345.8" width="1.0" height="1.0" fill="#d01030"/>
<rect x="399.6" y="325.6" width="1.0" height="1.0" fill="#d01030"/>
<rect x="374.0" y="305.8" width="1.0" height="1.0" fill="#f0e0f0"/>
<rect x="407.5" y="313.0" width="1.0" height="1.0" fill="#ffffff"/>
<rect x="392.8" y="326.4" width="1.0" height="1.0" fill="#d01030"/>
<rect x="392.3" y="338.3" width="1.0" height="1.0" fill="#d01030"/>
<rect x="390.0" y="326.3" width="1.0" height="1.0" fill="#d01030"/>
<rect x="410.5" y="323.1" width="1.0" height="1.0" fill="#d01030"/>
<rect x="378.5" y="304.1" width="1.0" height="1.0" fill="#d01030"/>
<rect x="391.6" y="313.2" width="1.0" height="1.0" fill="#5030a0"/>
<rect x="396.1" y="304.3" width="1.0" height="1.0" fill="#5030a0"/>
<rect x="393.3" y="312.0" width="1.0" height="1.0" fill="#d01030"/>
<rect x="408.9" y="351.6" width="1.0" height="1.0" fill="#ffffff"/>
<rect x="388.9" y="303.7" width="1.0" height="1.0" fill="#f0e0f0"/>
<rect x="394.9" y="313.2" width="1.0" height="1.0" fill="#ffffff"/>
<rect x="394.3" y="317.3" width="1.0" height="1.0" fill="#d01030"/>
<rect x="377.1" y="314.6" width="1.0" height="1.0" fill="#d01030"/>
<rect x="405.4" y="307.5" width="1.0" height="1.0" fill="#ffffff"/>
<rect x="392.0" y="317.4" width="1.0" height="1.0" fill="#f0e0f0"/>
<rect x="385.0" y="342.4" width="1.0" height="1.0" fill="#d01030"/>
<rect x="378.5" y="352.8" width="1.0" height="1.0" fill="#d01030"/>
<rect x="384.1" y="327.6" width="1.0" height="1.0" fill="#ffffff"/>
<rect x="400.1" y="327.8" width="1.0" height="1.0" fill="#ffffff"/>
<rect x="399.7" y="337.0" width="1.0" height="1.0" fill="#d01030"/>
<rect x="395.4" y="312.9" width="1.0" height="1.0" fill="#d01030"/>
<rect x="400.5" y="307.9" width="1.0" height="1.0" fill="#ffffff"/>
<rect x="379.6" y="343.2" width="1.0" height="1.0" fill="#5030a0"/>
<rect x="403.6" y="346.0" width="1.0" height="1.0" fill="#5030a0"/>
<rect x="400.2" y="335.1" width="1.0" height="1.0" fill="#5030a0"/>
<rect x="382.9" y="332.3" width="1.0" height="1.0" fill="#ffffff"/>
<rect x="377.0" y="312.0" width="1.0" height="1.0" fill="#ffffff"/>
<rect x="385.2" y="352.3" width="1.0" height="1.0" fill="#d01030"/>
<rect x="381.4" y="340.3" width="1.0" height="1.0" fill="#f0e0f0"/>
<rect x="381.8" y="304.0" width="1.0" height="1.0" fill="#ffffff"/>
<rect x="401.1" y="301.2" width="1.0" height="1.0" fill="#d01030"/>
<rect x="383.1" y="325.8" width="1.0" height="1.0" fill="#ffffff"/>
<rect x="408.2" y="339.9" width="1.0" height="1.0" fill="#ffffff"/>
<rect x="413.8" y="333.5" width="1.0" height="1.0" fill="#ffffff"/>
<rect x="381.5" y="325.5" width="1.0" height="1.0" fill="#d01030"/>
<rect x="414.1" y="324.7" width="1.0" height="1.0" fill="#5030a0"/>
<rect x="413.1" y="340.6" width="1.0" height="1.0" fill="#d01030"/>
<rect x="390.1" y="318.7" width="1.0" height="1.0" fill="#d01030"/>
<rect x="402.3" y="330.7" width="1.0" height="1.0" fill="#ffffff"/>
<rect x="380.2" y="344.5" width="1.0" height="1.0" fill="#f0e0f0"/>
<rect x="380.0" y="343.6" width="1.0" height="1.0" fill="#d01030"/>
<rect x="392.0" y="330.3" width="1.0" height="1.0" fill="#ffffff"/>
<rect x="389.3" y="314.4" width="1.0" height="1.0" fill="#ffffff"/>
<rect x="378.6" y="351.5" width="1.0" height="1.0" fill="#ffffff"/>
<rect x="410.5" y="353.5" width="1.0" height="1.0" fill="#d01030"/>
<rect x="397.2" y="347.6" width="1.0" height="1.0" fill="#d01030"/>
<rect x="380.5" y="323.0" width="1.0" height="1.0" fill="#d01030"/>
<rect x="397.4" y="324.5" width="1.0" height="1.0" fill="#d01030"/>
<rect x="383.9" y="330.8" width="1.0" height="1.0" fill="#ffffff"/>
<rect x="408.5" y="351.3" width="1.0" height="1.0" fill="#d01030"/>
<rect x="412.8" y="338.3" width="1.0" height="1.0" fill="#5030a0"/>
<rect x="375.8" y="349.1" width="1.0" height="1.0" fill="#d01030"/>
<rect x="412.8" y="348.5" width="1.0" height="1.0" fill="#d01030"/>
<rect x="385.4" y="351.8" width="1.0" height="1.0" fill="#d01030"/>
<rect x="379.3" y="304.4" width="1.0" height="1.0" fill="#f0e0f0"/>
<rect x="408.0" y="343.4" width="1.0" height="1.0" fill="#ffffff"/>
<rect x="402.2" y="331.5" width="1.0" height="1.0" fill="#ffffff"/>
<rect x="383.5" y="335.4" width="1.0" height="1.0" fill="#ffffff"/>
<rect x="401.2" y="320.1" width="1.0" height="1.0" fill="#ffffff"/>
<rect x="412.6" y="310.7" width="1.0" height="1.0" fill="#ffffff"/>
<rect x="397.6" y="314.0" width="1.0" height="1.0" fill="#d01030"/>
<rect x="381.0" y="337.3" width="1.0" height="1.0" fill="#ffffff"/>
<rect x="399.7" y="322.4" width="1.0" height="1.0" fill="#5030a0"/>
<rect x="384.1" y="344.2" width="1.0" height="1.0" fill="#ffffff"/>
<rect x="403.6" y="333.6" width="1.0" height="1.0" fill="#ffffff"/>
<rect x="382.3" y="317.9" width="1.0" height="1.0" fill="#ffffff"/>
<rect x="391.7" y="318.6" width="1.0" height="1.0" fill="#d01030"/>
<rect x="402.3" y="334.9" width="1.0" height="1.0" fill="#f0e0f0"/>
<rect x="392.5" y="317.7" width="1.0" height="1.0" fill="#d01030"/>
<rect x="413.2" y="305.2" width="1.0" height="1.0" fill="#d01030"/>
<rect x="395.6" y="321.8" width="1.0" height="1.0" fill="#d01030"/>
<rect x="410.1" y="312.8" width="1.0" height="1.0" fill="#d01030"/>
<rect x="402.3" y="320.7" width="1.0" height="1.0" fill="#ffffff"/>
<rect x="404.7" y="307.3" width="1.0" height="1.0" fill="#ffffff"/>
<rect x="399.5" y="347.2" width="1.0" height="1.0" fill="#d01030"/>
<rect x="375.1" y="307.7" width="1.0" height="1.0" fill="#d01030"/>
<rect x="398.6" y="334.8" width="1.0" height="1.0" fill="#ffffff"/>
<rect x="397.2" y="350.5" width="1.0" height="1.0" fill="#ffffff"/>
<rect x="395.6" y="318.8" width="1.0" height="1.0" fill="#ffffff"/>
<rect x="391.4" y="309.8" width="1.0" height="1.0" fill="#f0e0f0"/>
<rect x="401.7" y="336.4" width="1.0" height="1.0" fill="#ffffff"/>
<rect x="380.2" y="320.1" width="1.0" height="1.0" fill="#f0e0f0"/>
<rect x="404.7" y="344.9" width="1.0" height="1.0" fill="#ffffff"/>
<rect x="381.9" y="313.7" width="1.0" height="1.0" fill="#ffffff"/>
<rect x="412.7" y="310.9" width="1.0" height="1.0" fill="#ffffff"/>
<rect x="408.1" y="334.9" width="1.0" height="1.0" fill="#f0e0f0"/>
<rect x="406.9" y="332.4" width="1.0" height="1.0" fill="#d01030"/>
<rect x="400.6" y="341.2" width="1.0" height="1.0" fill="#f0e0f0"/>
<rect x="381.7" y="301.3" width="1.0" height="1.0" fill="#d01030"/>
<rect x="390.4" y="330.3" width="1.0" height="1.0" fill="#ffffff"/>
<rect x="376.5" y="300.8" width="1.0" height="1.0" fill="#d01030"/>
<rect x="377.2" y="313.7" width="1.0" height="1.0" fill="#d01030"/>
<rect x="383.0" y="314.6" width="1.0" height="1.0" fill="#d01030"/>
<rect x="405.4" y="313.1" width="1.0" height="1.0" fill="#ffffff"/>
<rect x="378.3" y="350.1" width="1.0" height="1.0" fill="#d01030"/>
<rect x="379.7" y="318.3" width="1.0" height="1.0" fill="#d01030"/>
<rect x="387.8" y="316.0" width="1.0" height="1.0" fill="#ffffff"/>
<rect x="393.0" y="314.2" width="1.0" height="1.0" fill="#ffffff"/>
<rect x="411.2" y="314.5" width="1.0" height="1.0" fill="#d01030"/>
<rect x="377.4" y="333.6" width="1.0" height="1.0" fill="#5030a0"/>
<rect x="413.0" y="307.5" width="1.0" height="1.0" fill="#ffffff"/>
<rect x="403.1" y="318.6" width="1.0" height="1.0" fill="#f0e0f0"/>
<rect x="379.4" y="332.6" width="1.0" height="1.0" fill="#ffffff"/>
<rect x="406.2" y="340.4" width="1.0" height="1.0" fill="#ffffff"/>
<rect x="401.7" y="321.0" width="1.0" height="1.0" fill="#f0e0f0"/>
<rect x="374.4" y="317.0" width="1.0" height="1.0" fill="#ffffff"/>
<rect x="406.1" y="305.5" width="1.0" height="1.0" fill="#d01030"/>
<rect x="379.9" y="342.7" width="1.0" height="1.0" fill="#ffffff"/>
<rect x="406.2" y="342.5" width="1.0" height="1.0" fill="#ffffff"/>
<rect x="398.8" y="344.3" width="1.0" height="1.0" fill="#d01030"/>
<rect x="396.5" y="307.8" width="1.0" height="1.0" fill="#ffffff"/>
<rect x="411.4" y="312.0" width="1.0" height="1.0" fill="#d01030"/>
<rect x="399.3" y="313.3" width="1.0" height="1.0" fill="#f0e0f0"/>
<rect x="394.0" y="328.2" width="1.0" height="1.0" fill="#5030a0"/>
<rect x="403.0" y="302.1" width="1.0" height="1.0" fill="#5030a0"/>
<rect x="374.6" y="327.7" width="1.0" height="1.0" fill="#ffffff"/>
<rect x="399.5" y="337.2" width="1.0" height="1.0" fill="#d01030"/>
<rect x="381.5" y="310.3" width="1.0" height="1.0" fill="#ffffff"/>
<rect x="413.9" y="348.2" width="1.0" height="1.0" fill="#5030a0"/>
<rect x="380.1" y="312.5" width="1.0" height="1.0" fill="#d01030"/>
<rect x="387.4" y="337.9" width="1.0" height="1.0" fill="#f0e0f0"/>
<rect x="412.4" y="342.7" width="1.0" height="1.0" fill="#ffffff"/>
<rect x="389.7" y="328.3" width="1.0" height="1.0" fill="#5030a0"/>
<rect x="375.9" y="332.8" width="1.0" height="1.0" fill="#5030a0"/>
<rect x="385.6" y="317.8" width="1.0" height="1.0" fill="#d01030"/>
<rect x="379.8" y="350.0" width="1.0" height="1.0" fill="#d01030"/>
<rect x="392.4" y="311.0" width="1.0" height="1.0" fill="#d01030"/>
<rect x="405.4" y="338.6" width="1.0" height="1.0" fill="#d01030"/>
<rect x="388.4" y="338.5" width="1.0" height="1.0" fill="#f0e0f0"/>
<rect x="386.3" y="304.5" width="1.0" height="1.0" fill="#ffffff"/>
<rect x="376.5" y="321.1" width="1.0" height="1.0" fill="#ffffff"/>
<rect x="376.4" y="343.2" width="1.0" height="1.0" fill="#ffffff"/>
<rect x="382.7" y="317.4" width="1.0" height="1.0" fill="#ffffff"/>
<rect x="411.6" y="322.7" width="1.0" height="1.0" fill="#ffffff"/>
<rect x="388.7" y="324.2" width="1.0" height="1.0" fill="#ffffff"/>
<rect x="411.4" y="333.4" width="1.0" height="1.0" fill="#ffffff"/>
<rect x="404.8" y="305.2" width="1.0" height="1.0" fill="#d01030"/>
<rect x="379.1" y="346.1" width="1.0" height="1.0" fill="#5030a0"/>
<rect x="378.9" y="325.2" width="1.0" height="1.0" fill="#ffffff"/>
<rect x="375.1" y="335.4" width="1.0" height="1.0" fill="#ffffff"/>
<rect x="404.0" y="341.4" width="1.0" height="1.0" fill="#f0e0f0"/>
<rect x="394.7" y="308.2" width="1.0" height="1.0" fill="#ffffff"/>
<rect x="377.5" y="351.7" width="1.0" height="1.0" fill="#ffffff"/>
<rect x="375.0" y="348.8" width="1.0" height="1.0" fill="#d01030"/>
<rect x="379.2" y="306.2" width="1.0" height="1.0" fill="#ffffff"/>
<rect x="386.5" y="344.0" width="1.0" height="1.0" fill="#d01030"/>
<rect x="407.4" y="309.5" width="1.0" height="1.0" fill="#ffffff"/>
<rect x="389.3" y="343.3" width="1.0" height="1.0" fill="#d01030"/>
<rect x="387.4" y="307.0" width="1.0" height="1.0" fill="#ffffff"/>
<rect x="392.2" y="329.8" width="1.0" height="1.0" fill="#d01030"/>
<rect x="384.2" y="339.8" width="1.0" height="1.0" fill="#d01030"/>
<rect x="410.2" y="325.6" width="1.0" height="1.0" fill="#ffffff"/>
<rect x="398.1" y="315.8" width="1.0" height="1.0" fill="#d01030"/>
<rect x="389.6" y="311.2" width="1.0" height="1.0" fill="#ffffff"/>
<rect x="378.9" y="310.8" width="1.0" height="1.0" fill="#f0e0f0"/>
<rect x="378.0" y="343.7" width="1.0" height="1.0" fill="#ffffff"/>
<rect x="406.1" y="302.0" width="1.0" height="1.0" fill="#5030a0"/>
<rect x="392.7" y="353.1" width="1.0" height="1.0" fill="#ffffff"/>
<rect x="413.1" y="333.2" width="1.0" height="1.0" fill="#d01030"/>
<rect x="380.7" y="340.0" width="1.0" height="1.0" fill="#5030a0"/>
<rect x="401.3" y="335.5" width="1.0" height="1.0" fill="#5030a0"/>
<rect x="406.9" y="346.3" width="1.0" height="1.0" fill="#d01030"/>
<rect x="387.6" y="342.3" width="1.0" height="1.0" fill="#ffffff"/>
<rect x="398.2" y="348.3" width="1.0" height="1.0" fill="#5030a0"/>
<rect x="382.9" y="317.4" width="1.0" height="1.0" fill="#5030a0"/>
<rect x="412.1" y="316.5" width="1.0" height="1.0" fill="#5030a0"/>
<rect x="388.0" y="320.6" width="1.0" height="1.0" fill="#ffffff"/>
<rect x="411.8" y="301.2" width="1.0" height="1.0" fill="#d01030"/>
<rect x="390.3" y="334.3" width="1.0" height="1.0" fill="#ffffff"/>
<rect x="404.2" y="313.5" width="1.0" height="1.0" fill="#ffffff"/>
<rect x="406.2" y="353.1" width="1.0" height="1.0" fill="#ffffff"/>
<rect x="380.6" y="308.5" width="1.0" height="1.0" fill="#ffffff"/>
<rect x="383.9" y="335.3" width="1.0" height="1.0" fill="#5030a0"/>
<rect x="391.4" y="316.8" width="1.0" height="1.0" fill="#ffffff"/>
<rect x="395.5" y="318.4" width="1.0" height="1.0" fill="#d01030"/>
<rect x="375.9" y="348.1" width="1.0" height="1.0" fill="#f0e0f0"/>
<rect x="408.0" y="347.2" width="1.0" height="1.0" fill="#d01030"/>
<rect x="408.3" y="351.2" width="1.0" height="1.0" fill="#d01030"/>
<rect x="401.0" y="335.1" width="1.0" height="1.0" fill="#f0e0f0"/>
<rect x="405.8" y="345.2" width="1.0" height="1.0" fill="#d01030"/>
<rect x="411.9" y="325.5" width="1.0" height="1.0" fill="#ffffff"/>
<rect x="405.3" y="346.7" width="1.0" height="1.0" fill="#ffffff"/>
<rect x="403.2" y="319.7" width="1.0" height="1.0" fill="#d01030"/>
<rect x="377.8" y="317.9" width="1.0" height="1.0" fill="#d01030"/>
<rect x="410.2" y="301.9" width="1.0" height="1.0" fill="#d01030"/>
<rect x="376.6" y="304.1" width="1.0" height="1.0" fill="#5030a0"/>
<rect x="375.8" y="346.2" width="1.0" height="1.0" fill="#ffffff"/>
<rect x="389.9" y="343.1" width="1.0" height="1.0" fill="#ffffff"/>
<rect x="386.2" y="334.1" width="1.0" height="1.0" fill="#ffffff"/>
<rect x="392.7" y="348.3" width="1.0" height="1.0" fill="#ffffff"/>
<rect x="407.6" y="339.7" width="1.0" height="1.0" fill="#ffffff"/>
<rect x="396.9" y="306.1" width="1.0" height="1.0" fill="#5030a0"/>
<rect x="414.0" y="348.1" width="1.0" height="1.0" fill="#ffffff"/>
<rect x="393.3" y="322.6" width="1.0" height="1.0" fill="#d01030"/>
<rect x="382.9" y="311.6" width="1.0" height="1.0" fill="#ffffff"/>
<rect x="388.4" y="351.4" width="1.0" height="1.0" fill="#ffffff"/>
<rect x="408.6" y="335.3" width="1.0" height="1.0" fill="#ffffff"/>
<rect x="375.1" y="331.9" width="1.0" height="1.0" fill="#ffffff"/>
<rect x="374.7" y="307.5" width="1.0" height="1.0" fill="#ffffff"/>
<rect x="381.1" y="316.0" width="1.0" height="1.0" fill="#d01030"/>
<rect x="405.6" y="319.4" width="1.0" height="1.0" fill="#ffffff"/>
<rect x="405.8" y="332.6" width="1.0" height="1.0" fill="#d01030"/>
<rect x="382.5" y="347.4" width="1.0" height="1.0" fill="#d01030"/>
<rect x="391.2" y="320.7" width="1.0" height="1.0" fill="#ffffff"/>
<rect x="376.8" y="322.6" width="1.0" height="1.0" fill="#ffffff"/>
<rect x="385.9" y="318.0" width="1.0" height="1.0" fill="#5030a0"/>
<rect x="413.0" y="326.6" width="1.0" height="1.0" fill="#ffffff"/>
<rect x="393.9" y="336.0" width="1.0" height="1.0" fill="#f0e0f0"/>
<rect x="398.1" y="320.6" width="1.0" height="1.0" fill="#d01030"/>
<rect x="396.4" y="342.7" width="1.0" height="1.0" fill="#f0e0f0"/>
<rect x="374.4" y="335.0" width="1.0" height="1.0" fill="#d01030"/>
<rect x="378.3" y="330.7" width="1.0" height="1.0" fill="#f0e0f0"/>
<rect x="411.0" y="311.5" width="1.0" height="1.0" fill="#d01030"/>
<rect x="410.1" y="345.7" width="1.0" height="1.0" fill="#d01030"/>
<rect x="410.1" y="351.2" width="1.0" height="1.0" fill="#ffffff"/>
<rect x="392.4" y="308.7" width="1.0" height="1.0" fill="#ffffff"/>
<rect x="379.5" y="334.0" width="1.0" height="1.0" fill="#d01030"/>
<rect x="374.9" y="307.7" width="1.0" height="1.0" fill="#f0e0f0"/>
<rect x="384.2" y="315.2" width="1.0" height="1.0" fill="#ffffff"/>
<rect x="382.4" y="333.9" width="1.0" height="1.0" fill="#ffffff"/>
<rect x="377.4" y="300.8" width="1.0" height="1.0" fill="#d01030"/>
<rect x="410.2" y="309.3" width="1.0" height="1.0" fill="#5030a0"/>
<rect x="383.3" y="314.1" width="1.0" height="1.0" fill="#f0e0f0"/>
<rect x="406.9" y="312.8" width="1.0" height="1.0" fill="#ffffff"/>
<rect x="410.2" y="311.2" width="1.0" height="1.0" fill="#d01030"/>
<rect x="402.8" y="306.3" width="1.0" height="1.0" fill="#ffffff"/>
<rect x="402.5" y="338.2" width="1.0" height="1.0" fill="#ffffff"/>
<rect x="407.5" y="323.0" width="1.0" height="1.0" fill="#5030a0"/>
<rect x="375.8" y="350.6" width="1.0" height="1.0" fill="#ffffff"/>
<rect x="408.8" y="346.6" width="1.0" height="1.0" fill="#ffffff"/>
<rect x="396.3" y="322.5" width="1.0" height="1.0" fill="#f0e0f0"/>
<rect x="392.3" y="334.4" width="1.0" height="1.0" fill="#5030a0"/>
<rect x="387.3" y="341.2" width="1.0" height="1.0" fill="#ffffff"/>
<rect x="414.0" y="312.6" width="1.0" height="1.0" fill="#d01030"/>
<rect x="390.3" y="333.3" width="1.0" height="1.0" fill="#f0e0f0"/>
<rect x="386.2" y="334.2" width="1.0" height="1.0" fill="#5030a0"/>
<rect x="377.1" y="310.8" width="1.0" height="1.0" fill="#ffffff"/>
<rect x="378.7" y="316.2" width="1.0" height="1.0" fill="#5030a0"/>
<rect x="393.1" y="323.9" width="1.0" height="1.0" fill="#ffffff"/>
<rect x="393.3" y="350.7" width="1.0" height="1.0" fill="#ffffff"/>
<rect x="394.6" y="325.6" width="1.0" height="1.0" fill="#ffffff"/>
<rect x="379.5" y="309.5" width="1.0" height="1.0" fill="#ffffff"/>
<rect x="387.9" y="320.9" width="1.0" height="1.0" fill="#d01030"/>
<rect x="390.0" y="319.3" width="1.0" height="1.0" fill="#d01030"/>
<rect x="387.3" y="337.9" width="1.0" height="1.0" fill="#ffffff"/>
<rect x="389.5" y="308.6" width="1.0" height="1.0" fill="#f0e0f0"/>
<rect x="407.4" y="329.6" width="1.0" height="1.0" fill="#f0e0f0"/>
<rect x="408.0" y="339.2" width="1.0" height="1.0" fill="#d01030"/>
<rect x="394.3" y="338.3" width="1.0" height="1.0" fill="#5030a0"/>
<rect x="389.9" y="323.5" width="1.0" height="1.0" fill="#ffffff"/>
<rect x="380.0" y="335.1" width="1.0" height="1.0" fill="#5030a0"/>
<rect x="403.4" y="350.9" width="1.0" height="1.0" fill="#ffffff"/>
<rect x="399.0" y="336.5" width="1.0" height="1.0" fill="#d01030"/>
<rect x="405.7" y="331.8" width="1.0" height="1.0" fill="#ffffff"/>
<rect x="382.6" y="343.0" width="1.0" height="1.0" fill="#ffffff"/>
<rect x="395.9" y="321.9" width="1.0" height="1.0" fill="#d01030"/>
<rect x="385.2" y="307.7" width="1.0" height="1.0" fill="#d01030"/>
<rect x="413.1" y="333.2" width="1.0" height="1.0" fill="#f0e0f0"/>
<rect x="393.1" y="326.8" width="1.0" height="1.0" fill="#f0e0f0"/>
<rect x="394.8" y="301.6" width="1.0" height="1.0" fill="#5030a0"/>
<rect x="395.2" y="349.9" width="1.0" height="1.0" fill="#ffffff"/>
<rect x="411.6" y="306.7" width="1.0" height="1.0" fill="#ffffff"/>
<rect x="389.3" y="332.8" width="1.0" height="1.0" fill="#5030a0"/>
<rect x="408.3" y="301.4" width="1.0" height="1.0" fill="#f0e0f0"/>
<rect x="389.4" y="319.8" width="1.0" height="1.0" fill="#f0e0f0"/>
<rect x="395.5" y="315.1" width="1.0" height="1.0" fill="#ffffff"/>
<rect x="385.3" y="326.8" width="1.0" height="1.0" fill="#5030a0"/>
<rect x="388.9" y="304.5" width="1.0" height="1.0" fill="#ffffff"/>
<rect x="376.1" y="343.3" width="1.0" height="1.0" fill="#d01030"/>
<rect x="386.3" y="312.1" width="1.0" height="1.0" fill="#d01030"/>
<rect x="384.4" y="339.4" width="1.0" height="1.0" fill="#ffffff"/>
<rect x="410.3" y="306.2" width="1.0" height="1.0" fill="#ffffff"/>
<rect x="396.0" y="349.5" width="1.0" height="1.0" fill="#d01030"/>
<rect x="404.9" y="308.4" width="1.0" height="1.0" fill="#d01030"/>
<rect x="381.5" y="340.2" width="1.0" height="1.0" fill="#f0e0f0"/>
<rect x="403.2" y="322.9" width="1.0" height="1.0" fill="#f0e0f0"/>
<rect x="409.0" y="340.5" width="1.0" height="1.0" fill="#ffffff"/>
<rect x="378.8" y="316.5" width="1.0" height="1.0" fill="#ffffff"/>
<rect x="376.0" y="307.1" width="1.0" height="1.0" fill="#d01030"/>
<rect x="386.9" y="337.4" width="1.0" height="1.0" fill="#d01030"/>
<rect x="378.2" y="309.1" width="1.0" height="1.0" fill="#d01030"/>
<rect x="381.7" y="319.5" width="1.0" height="1.0" fill="#d01030"/>
<rect x="388.3" y="352.5" width="1.0" height="1.0" fill="#d01030"/>
<rect x="386.8" y="322.2" width="1.0" height="1.0" fill="#ffffff"/>
<rect x="383.1" y="352.3" width="1.0" height="1.0" fill="#ffffff"/>
<rect x="402.2" y="309.8" width="1.0" height="1.0" fill="#ffffff"/>
<rect x="409.8" y="342.6" width="1.0" height="1.0" fill="#d01030"/>
<rect x="403.5" y="303.6" width="1.0" height="1.0" fill="#ffffff"/>
<rect x="398.8" y="348.6" width="1.0" height="1.0" fill="#ffffff"/>
<rect x="391.5" y="342.5" width="1.0" height="1.0" fill="#f0e0f0"/>
<rect x="374.3" y="323.8" width="1.0" height="1.0" fill="#ffffff"/>
<rect x="398.0" y="318.4" width="1.0" height="1.0" fill="#d01030"/>
<rect x="394.4" y="308.3" width="1.0" height="1.0" fill="#ffffff"/>
<rect x="410.7" y="330.3" width="1.0" height="1.0" fill="#d01030"/>
<rect x="393.8" y="337.1" width="1.0" height="1.0" fill="#d01030"/>
<rect x="401.6" y="300.7" width="1.0" height="1.0" fill="#d01030"/>
<rect x="411.0" y="337.8" width="1.0" height="1.0" fill="#f0e0f0"/>
<rect x="407.8" y="319.7" width="1.0" height="1.0" fill="#d01030"/>
<rect x="400.7" y="330.8" width="1.0" height="1.0" fill="#ffffff"/>
<rect x="400.5" y="318.2" width="1.0" height="1.0" fill="#ffffff"/>
<rect x="412.3" y="349.8" width="1.0" height="1.0" fill="#ffffff"/>
<rect x="380.2" y="348.0" width="1.0" height="1.0" fill="#ffffff"/>
<rect x="384.6" y="348.5" width="1.0" height="1.0" fill="#d01030"/>
<rect x="400.5" y="333.1" width="1.0" height="1.0" fill="#f0e0f0"/>
<rect x="413.7" y="337.0" width="1.0" height="1.0" fill="#d01030"/>
<rect x="399.7" y="330.2" width="1.0" height="1.0" fill="#5030a0"/>
<rect x="398.4" y="308.9" width="1.0" height="1.0" fill="#f0e0f0"/>
<rect x="395.8" y="351.1" width="1.0" height="1.0" fill="#f0e0f0"/>
<rect x="411.0" y="304.9" width="1.0" height="1.0" fill="#f0e0f0"/>
<rect x="404.3" y="308.4" width="1.0" height="1.0" fill="#f0e0f0"/>
<rect x="377.0" y="322.5" width="1.0" height="1.0" fill="#f0e0f0"/>
<rect x="397.4" y="323.2" width="1.0" height="1.0" fill="#5030a0"/>
<rect x="377.2" y="341.8" width="1.0" height="1.0" fill="#d01030"/>
<rect x="388.9" y="347.0" width="1.0" height="1.0" fill="#d01030"/>
<rect x="408.9" y="324.0" width="1.0" height="1.0" fill="#ffffff"/>
<rect x="406.4" y="304.8" width="1.0" height="1.0" fill="#ffffff"/>
<rect x="399.9" y="305.7" width="1.0" height="1.0" fill="#ffffff"/>
<rect x="407.4" y="316.4" width="1.0" height="1.0" fill="#ffffff"/>
<rect x="400.1" y="315.3" width="1.0" height="1.0" fill="#d01030"/>
<rect x="382.0" y="327.5" width="1.0" height="1.0" fill="#5030a0"/>
<rect x="414.0" y="323.2" width="1.0" height="1.0" fill="#ffffff"/>
<rect x="401.7" y="334.9" width="1.0" height="1.0" fill="#ffffff"/>
<rect x="392.1" y="346.4" width="1.0" height="1.0" fill="#5030a0"/>
<rect x="401.3" y="337.5" width="1.0" height="1.0" fill="#ffffff"/>
<rect x="375.6" y="344.9" width="1.0" height="1.0" fill="#d01030"/>
<rect x="401.2" y="303.3" width="1.0" height="1.0" fill="#f0e0f0"/>
<rect x="395.6" y="339.8" width="1.0" height="1.0" fill="#f0e0f0"/>
<rect x="387.9" y="345.7" width="1.0" height="1.0" fill="#d01030"/>
<rect x="383.8" y="343.8" width="1.0" height="1.0" fill="#f0e0f0"/>
<rect x="391.7" y="301.9" width="1.0" height="1.0" fill="#d01030"/>
<rect x="408.1" y="347.9" width="1.0" height="1.0" fill="#d01030"/>
<rect x="382.4" y="332.4" width="1.0" height="1.0" fill="#d01030"/>
<rect x="377.0" y="316.0" width="1.0" height="1.0" fill="#ffffff"/>
<rect x="411.4" y="310.3" width="1.0" height="1.0" fill="#f0e0f0"/>
<rect x="399.8" y="340.7" width="1.0" height="1.0" fill="#d01030"/>
<rect x="381.2" y="327.1" width="1.0" height="1.0" fill="#ffffff"/>
<rect x="380.3" y="348.6" width="1.0" height="1.0" fill="#5030a0"/>
<rect x="392.8" y="342.2" width="1.0" height="1.0" fill="#d01030"/>
<rect x="384.2" y="303.7" width="1.0" height="1.0" fill="#5030a0"/>
<rect x="410.3" y="333.0" width="1.0" height="1.0" fill="#d01030"/>
<rect x="376.2" y="320.8" width="1.0" height="1.0" fill="#f0e0f0"/>
<rect x="408.2" y="324.1" width="1.0" height="1.0" fill="#ffffff"/>
<rect x="390.5" y="325.4" width="1.0" height="1.0" fill="#d01030"/>
<rect x="401.3" y="340.0" width="1.0" height="1.0" fill="#5030a0"/>
<rect x="400.1" y="326.0" width="1.0" height="1.0" fill="#d01030"/>
<rect x="412.6" y="349.5" width="1.0" height="1.0" fill="#ffffff"/>
<rect x="394.7" y="306.9" width="1.0" height="1.0" fill="#d01030"/>
<rect x="390.1" y="309.4" width="1.0" height="1.0" fill="#5030a0"/>
<rect x="410.0" y="325.4" width="1.0" height="1.0" fill="#d01030"/>
<rect x="396.5" y="305.8" width="1.0" height="1.0" fill="#5030a0"/>
<rect x="404.5" y="331.8" width="1.0" height="1.0" fill="#ffffff"/>
<rect x="387.5" y="305.6" width="1.0" height="1.0" fill="#d01030"/>
<rect x="412.5" y="352.6" width="1.0" height="1.0" fill="#ffffff"/>
<rect x="393.8" y="315.5" width="1.0" height="1.0" fill="#d01030"/>
<rect x="389.3" y="329.6" width="1.0" height="1.0" fill="#5030a0"/>
<rect x="404.8" y="317.4" width="1.0" height="1.0" fill="#5030a0"/>
<rect x="378.7" y="315.6" width="1.0" height="1.0" fill="#ffffff"/>
<rect x="388.6" y="341.8" width="1.0" height="1.0" fill="#ffffff"/>
<rect x="401.8" y="326.0" width="1.0" height="1.0" fill="#ffffff"/>
<rect x="381.7" y="351.4" width="1.0" height="1.0" fill="#ffffff"/>
<rect x="400.8" y="319.6" width="1.0" height="1.0" fill="#ffffff"/>
<rect x="381.4" y="316.1" width="1.0" height="1.0" fill="#ffffff"/>
<rect x="383.6" y="352.2" width="1.0" height="1.0" fill="#ffffff"/>
<rect x="390.7" y="311.6" width="1.0" height="1.0" fill="#d01030"/>
<rect x="382.0" y="327.4" width="1.0" height="1.0" fill="#d01030"/>
<rect x="404.1" y="313.1" width="1.0" height="1.0" fill="#d01030"/>
<rect x="401.3" y="349.7" width="1.0" height="1.0" fill="#d01030"/>
<rect x="401.1" y="338.4" width="1.0" height="1.0" fill="#d01030"/>
<rect x="384.5" y="352.3" width="1.0" height="1.0" fill="#d01030"/>
<rect x="412.9" y="317.1" width="1.0" height="1.0" fill="#d01030"/>
<rect x="401.7" y="327.9" width="1.0" height="1.0" fill="#ffffff"/>
<rect x="410.2" y="331.8" width="1.0" height="1.0" fill="#5030a0"/>
<rect x="381.0" y="330.9" width="1.0" height="1.0" fill="#f0e0f0"/>
<rect x="410.3" y="312.4" width="1.0" height="1.0" fill="#d01030"/>
<rect x="411.4" y="314.7" width="1.0" height="1.0" fill="#d01030"/>
<rect x="394.5" y="317.7" width="1.0" height="1.0" fill="#ffffff"/>
<rect x="390.1" y="337.5" width="1.0" height="1.0" fill="#ffffff"/>
<rect x="397.8" y="337.5" width="1.0" height="1.0" fill="#d01030"/>
<rect x="378.2" y="340.1" width="1.0" height="1.0" fill="#ffffff"/>
<rect x="394.5" y="323.2" width="1.0" height="1.0" fill="#5030a0"/>
<rect x="400.4" y="351.1" width="1.0" height="1.0" fill="#f0e0f0"/>
<rect x="413.8" y="333.6" width="1.0" height="1.0" fill="#d01030"/>
<rect x="389.3" y="320.2" width="1.0" height="1.0" fill="#ffffff"/>
<rect x="396.0" y="319.6" width="1.0" height="1.0" fill="#5030a0"/>
<rect x="384.0" y="308.0" width="1.0" height="1.0" fill="#5030a0"/>
<rect x="379.8" y="306.4" width="1.0" height="1.0" fill="#d01030"/>
<rect x="406.1" y="309.0" width="1.0" height="1.0" fill="#f0e0f0"/>
<rect x="396.6" y="305.6" width="1.0" height="1.0" fill="#ffffff"/>
<rect x="390.4" y="329.4" width="1.0" height="1.0" fill="#ffffff"/>
<rect x="403.1" y="313.0" width="1.0" height="1.0" fill="#d01030"/>
<rect x="383.3" y="340.7" width="1.0" height="1.0" fill="#d01030"/>
<rect x="409.9" y="319.5" width="1.0" height="1.0" fill="#d01030"/>
<rect x="377.4" y="325.9" width="1.0" height="1.0" fill="#f0e0f0"/>
<rect x="391.0" y="325.8" width="1.0" height="1.0" fill="#ffffff"/>
<rect x="382.7" y="336.1" width="1.0" height="1.0" fill="#d01030"/>
<rect x="375.7" y="353.0" width="1.0" height="1.0" fill="#f0e0f0"/>
<rect x="411.0" y="332.6" width="1.0" height="1.0" fill="#d01030"/>
<rect x="381.7" y="314.3" width="1.0" height="1.0" fill="#d01030"/>
<rect x="387.1" y="305.2" width="1.0" height="1.0" fill="#f0e0f0"/>
<rect x="376.9" y="340.6" width="1.0" height="1.0" fill="#ffffff"/>
<rect x="394.4" y="350.2" width="1.0" height="1.0" fill="#d01030"/>
<rect x="401.4" y="309.6" width="1.0" height="1.0" fill="#d01030"/>
<rect x="386.8" y="348.8" width="1.0" height="1.0" fill="#ffffff"/>
<rect x="394.4" y="349.8" width="1.0" height="1.0" fill="#ffffff"/>
<rect x="375.5" y="307.0" width="1.0" height="1.0" fill="#ffffff"/>
<rect x="403.4" y="339.9" width="1.0" height="1.0" fill="#f0e0f0"/>
<rect x="399.0" y="303.6" width="1.0" height="1.0" fill="#f0e0f0"/>
<rect x="375.3" y="303.0" width="1.0" height="1.0" fill="#ffffff"/>
<rect x="403.7" y="338.6" width="1.0" height="1.0" fill="#ffffff"/>
<rect x="390.0" y="312.7" width="1.0" height="1.0" fill="#ffffff"/>
<rect x="391.2" y="335.6" width="1.0" height="1.0" fill="#d01030"/>
<rect x="383.4" y="325.3" width="1.0" height="1.0" fill="#d01030"/>
<rect x="382.7" y="321.7" width="1.0" height="1.0" fill="#ffffff"/>
<rect x="390.2" y="329.0" width="1.0" height="1.0" fill="#d01030"/>
<rect x="413.9" y="318.3" width="1.0" height="1.0" fill="#5030a0"/>
<rect x="400.4" y="318.0" width="1.0" height="1.0" fill="#5030a0"/>
<rect x="389.9" y="337.1" width="1.0" height="1.0" fill="#d01030"/>
<rect x="376.5" y="305.0" width="1.0" height="1.0" fill="#ffffff"/>
<rect x="395.6" y="353.1" width="1.0" height="1.0" fill="#d01030"/>
<rect x="377.7" y="327.2" width="1.0" height="1.0" fill="#ffffff"/>
<rect x="383.9" y="305.8" width="1.0" height="1.0" fill="#ffffff"/>
<rect x="396.4" y="324.3" width="1.0" height="1.0" fill="#ffffff"/>
<rect x="411.4" y="343.8" width="1.0" height="1.0" fill="#d01030"/>
<rect x="378.8" y="304.1" width="1.0" height="1.0" fill="#ffffff"/>
<rect x="378.8" y="336.9" width="1.0" height="1.0" fill="#ffffff"/>
<rect x="381.2" y="352.8" width="1.0" height="1.0" fill="#ffffff"/>
<rect x="375.5" y="338.5" width="1.0" height="1.0" fill="#ffffff"/>
<rect x="376.7" y="343.1" width="1.0" height="1.0" fill="#f0e0f0"/>
<rect x="375.9" y="331.5" width="1.0" height="1.0" fill="#d01030"/>
<rect x="384.5" y="309.6" width="1.0" height="1.0" fill="#ffffff"/>
<rect x="388.5" y="338.3" width="1.0" height="1.0" fill="#f0e0f0"/>
<rect x="380.2" y="323.7" width="1.0" height="1.0" fill="#5030a0"/>
<rect x="373.8" y="305.4" width="1.0" height="1.0" fill="#d01030"/>
<rect x="391.1" y="313.0" width="1.0" height="1.0" fill="#ffffff"/>
<rect x="400.3" y="314.3" width="1.0" height="1.0" fill="#d01030"/>
<rect x="378.4" y="320.7" width="1.0" height="1.0" fill="#d01030"/>
<rect x="382.6" y="308.6" width="1.0" height="1.0" fill="#ffffff"/>
<rect x="388.0" y="346.9" width="1.0" height="1.0" fill="#f0e0f0"/>
<rect x="386.6" y="348.8" width="1.0" height="1.0" fill="#ffffff"/>
<rect x="396.3" y="350.1" width="1.0" height="1.0" fill="#f0e0f0"/>
<rect x="412.9" y="334.7" width="1.0" height="1.0" fill="#ffffff"/>
<rect x="396.6" y="310.9" width="1.0" height="1.0" fill="#f0e0f0"/>
<rect x="381.9" y="339.1" width="1.0" height="1.0" fill="#ffffff"/>
<rect x="388.8" y="327.6" width="1.0" height="1.0" fill="#d01030"/>
<rect x="413.7" y="333.4" width="1.0" height="1.0" fill="#ffffff"/>
<rect x="394.0" y="327.3" width="1.0" height="1.0" fill="#ffffff"/>
<rect x="391.1" y="332.2" width="1.0" height="1.0" fill="#ffffff"/>
<rect x="395.2" y="315.1" width="1.0" height="1.0" fill="#d01030"/>
<rect x="399.1" y="324.2" width="1.0" height="1.0" fill="#f0e0f0"/>
<rect x="394.6" y="313.7" width="1.0" height="1.0" fill="#5030a0"/>
<rect x="394.3" y="320.4" width="1.0" height="1.0" fill="#f0e0f0"/>
<rect x="385.5" y="344.6" width="1.0" height="1.0" fill="#5030a0"/>
<rect x="406.8" y="326.1" width="1.0" height="1.0" fill="#d01030"/>
<rect x="401.2" y="339.2" width="1.0" height="1.0" fill="#ffffff"/>
<rect x="388.2" y="316.8" width="1.0" height="1.0" fill="#f0e0f0"/>
<rect x="377.2" y="319.6" width="1.0" height="1.0" fill="#5030a0"/>
<rect x="382.1" y="312.9" width="1.0" height="1.0" fill="#ffffff"/>
<rect x="391.2" y="339.5" width="1.0" height="1.0" fill="#f0e0f0"/>
<rect x="399.4" y="337.3" width="1.0" height="1.0" fill="#5030a0"/>
<rect x="395.9" y="318.6" width="1.0" height="1.0" fill="#5030a0"/>
<rect x="375.0" y="351.6" width="1.0" height="1.0" fill="#ffffff"/>
<rect x="409.7" y="346.6" width="1.0" height="1.0" fill="#ffffff"/>
<rect x="406.2" y="312.7" width="1.0" height="1.0" fill="#5030a0"/>
<rect x="392.8" y="338.7" width="1.0" height="1.0" fill="#5030a0"/>
<rect x="403.5" y="326.4" width="1.0" height="1.0" fill="#ffffff"/>
<rect x="381.7" y="348.1" width="1.0" height="1.0" fill="#5030a0"/>
<rect x="402.5" y="348.0" width="1.0" height="1.0" fill="#d01030"/>
<rect x="390.7" y="351.4" width="1.0" height="1.0" fill="#f0e0f0"/>
<rect x="390.7" y="317.2" width="1.0" height="1.0" fill="#5030a0"/>
<rect x="381.1" y="308.9" width="1.0" height="1.0" fill="#ffffff"/>
<rect x="376.2" y="336.3" width="1.0" height="1.0" fill="#5030a0"/>
<rect x="387.1" y="345.7" width="1.0" height="1.0" fill="#d01030"/>
<rect x="391.0" y="310.7" width="1.0" height="1.0" fill="#d01030"/>
<rect x="405.4" y="327.5" width="1.0" height="1.0" fill="#f0e0f0"/>
<rect x="410.2" y="323.8" width="1.0" height="1.0" fill="#d01030"/>
<rect x="413.9" y="353.0" width="1.0" height="1.0" fill="#ffffff"/>
<rect x="389.5" y="310.4" width="1.0" height="1.0" fill="#d01030"/>
<rect x="374.1" y="320.2" width="1.0" height="1.0" fill="#f0e0f0"/>
<rect x="386.7" y="307.2" width="1.0" height="1.0" fill="#f0e0f0"/>
<rect x="398.9" y="310.5" width="1.0" height="1.0" fill="#d01030"/>
<rect x="397.1" y="330.9" width="1.0" height="1.0" fill="#d01030"/>
<rect x="385.6" y="311.1" width="1.0" height="1.0" fill="#d01030"/>
<rect x="408.0" y="313.3" width="1.0" height="1.0" fill="#f0e0f0"/>
<rect x="397.4" y="331.0" width="1.0" height="1.0" fill="#ffffff"/>
<rect x="378.6" y="330.9" width="1.0" height="1.0" fill="#5030a0"/>
<rect x="399.7" y="332.5" width="1.0" height="1.0" fill="#ffffff"/>
<rect x="392.3" y="313.1" width="1.0" height="1.0" fill="#ffffff"/>
<rect x="386.3" y="322.6" width="1.0" height="1.0" fill="#ffffff"/>
<rect x="374.3" y="312.6" width="1.0" height="1.0" fill="#5030a0"/>
<rect x="413.6" y="313.3" width="1.0" height="1.0" fill="#5030a0"/>
<rect x="390.8" y="318.2" width="1.0" height="1.0" fill="#f0e0f0"/>
<rect x="388.9" y="302.5" width="1.0" height="1.0" fill="#d01030"/>
<rect x="395.9" y="316.6" width="1.0" height="1.0" fill="#f0e0f0"/>
<rect x="405.1" y="325.9" width="1.0" height="1.0" fill="#ffffff"/>
<rect x="375.9" y="320.7" width="1.0" height="1.0" fill="#d01030"/>
<rect x="397.9" y="309.8" width="1.0" height="1.0" fill="#d01030"/>
<rect x="407.7" y="329.6" width="1.0" height="1.0" fill="#ffffff"/>
<rect x="380.2" y="351.3" width="1.0" height="1.0" fill="#ffffff"/>
<rect x="404.4" y="340.2" width="1.0" height="1.0" fill="#5030a0"/>
<rect x="386.3" y="346.8" width="1.0" height="1.0" fill="#d01030"/>
<rect x="373.8" y="305.5" width="1.0" height="1.0" fill="#ffffff"/>
<rect x="381.1" y="300.8" width="1.0" height="1.0" fill="#d01030"/>
<rect x="394.2" y="315.9" width="1.0" height="1.0" fill="#ffffff"/>
<rect x="387.8" y="320.1" width="1.0" height="1.0" fill="#ffffff"/>
<rect x="380.5" y="327.6" width="1.0" height="1.0" fill="#ffffff"/>
<rect x="378.3" y="315.9" width="1.0" height="1.0" fill="#ffffff"/>
<rect x="382.2" y="347.1" width="1.0" height="1.0" fill="#ffffff"/>
<rect x="408.0" y="332.5" width="1.0" height="1.0" fill="#5030a0"/>
<rect x="396.5" y="315.6" width="1.0" height="1.0" fill="#ffffff"/>
<rect x="398.7" y="338.6" width="1.0" height="1.0" fill="#d01030"/>
<rect x="378.3" y="335.4" width="1.0" height="1.0" fill="#f0e0f0"/>
<rect x="399.6" y="307.8" width="1.0" height="1.0" fill="#ffffff"/>
<rect x="407.8" y="318.5" width="1.0" height="1.0" fill="#ffffff"/>
<rect x="374.6" y="348.2" width="1.0" height="1.0" fill="#ffffff"/>
<rect x="389.9" y="309.1" width="1.0" height="1.0" fill="#d01030"/>
<rect x="381.7" y="328.7" width="1.0" height="1.0" fill="#ffffff"/>
<rect x="390.1" y="312.9" width="1.0" height="1.0" fill="#5030a0"/>
<rect x="402.2" y="309.2" width="1.0" height="1.0" fill="#f0e0f0"/>
<rect x="406.6" y="303.6" width="1.0" height="1.0" fill="#5030a0"/>
<rect x="382.6" y="351.5" width="1.0" height="1.0" fill="#ffffff"/>
<rect x="389.9" y="302.7" width="1.0" height="1.0" fill="#ffffff"/>
<rect x="392.8" y="311.0" width="1.0" height="1.0" fill="#ffffff"/>
<rect x="376.4" y="309.8" width="1.0" height="1.0" fill="#d01030"/>
<rect x="384.2" y="334.7" width="1.0" height="1.0" fill="#d01030"/>
<rect x="402.1" y="341.4" width="1.0" height="1.0" fill="#d01030"/>
<rect x="394.3" y="317.2" width="1.0" height="1.0" fill="#ffffff"/>
<rect x="395.3" y="338.5" width="1.0" height="1.0" fill="#ffffff"/>
<rect x="398.6" y="307.7" width="1.0" height="1.0" fill="#ffffff"/>
<rect x="385.9" y="311.2" width="1.0" height="1.0" fill="#5030a0"/>
<rect x="405.5" y="350.4" width="1.0" height="1.0" fill="#ffffff"/>
<rect x="382.7" y="324.0" width="1.0" height="1.0" fill="#f0e0f0"/>
<rect x="386.6" y="307.2" width="1.0" height="1.0" fill="#f0e0f0"/>
<rect x="388.4" y="324.3" width="1.0" height="1.0" fill="#f0e0f0"/>
<rect x="406.9" y="335.2" width="1.0" height="1.0" fill="#d01030"/>
<rect x="377.0" y="333.7" width="1.0" height="1.0" fill="#d01030"/>
<rect x="411.4" y="352.1" width="1.0" height="1.0" fill="#ffffff"/>
<rect x="379.7" y="343.3" width="1.0" height="1.0" fill="#ffffff"/>
<rect x="380.9" y="344.5" width="1.0" height="1.0" fill="#d01030"/>
<rect x="374.6" y="333.3" width="1.0" height="1.0" fill="#ffffff"/>
<rect x="391.5" y="344.6" width="1.0" height="1.0" fill="#d01030"/>
<rect x="392.0" y="313.2" width="1.0" height="1.0" fill="#ffffff"/>
<rect x="381.9" y="348.2" width="1.0" height="1.0" fill="#d01030"/>
<rect x="398.1" y="307.5" width="1.0" height="1.0" fill="#5030a0"/>
<rect x="376.4" y="304.3" width="1.0" height="1.0" fill="#5030a0"/>
<rect x="402.8" y="303.2" width="1.0" height="1.0" fill="#ffffff"/>
<rect x="385.5" y="315.3" width="1.0" height="1.0" fill="#ffffff"/>
<rect x="410.3" y="346.7" width="1.0" height="1.0" fill="#ffffff"/>
<rect x="398.1" y="352.0" width="1.0" height="1.0" fill="#ffffff"/>
<rect x="411.1" y="343.5" width="1.0" height="1.0" fill="#ffffff"/>
<rect x="385.3" y="316.8" width="1.0" height="1.0" fill="#ffffff"/>
<rect x="396.0" y="333.0" width="1.0" height="1.0" fill="#ffffff"/>
<rect x="409.4" y="320.8" width="1.0" height="1.0" fill="#f0e0f0"/>
<rect x="392.4" y="342.2" width="1.0" height="1.0" fill="#ffffff"/>
<rect x="407.2" y="350.4" width="1.0" height="1.0" fill="#ffffff"/>
<rect x="385.1" y="340.1" width="1.0" height="1.0" fill="#d01030"/>
<rect x="394.3" y="307.6" width="1.0" height="1.0" fill="#f0e0f0"/>
<rect x="389.7" y="312.4" width="1.0" height="1.0" fill="#5030a0"/>
<rect x="391.5" y="342.5" width="1.0" height="1.0" fill="#d01030"/>
<rect x="394.3" y="327.1" width="1.0" height="1.0" fill="#ffffff"/>
<rect x="398.9" y="341.2" width="1.0" height="1.0" fill="#d01030"/>
<rect x="409.1" y="319.5" width="1.0" height="1.0" fill="#f0e0f0"/>
<rect x="380.2" y="326.9" width="1.0" height="1.0" fill="#d01030"/>
<rect x="411.4" y="308.8" width="1.0" height="1.0" fill="#ffffff"/>
<rect x="379.9" y="349.3" width="1.0" height="1.0" fill="#f0e0f0"/>
<rect x="412.9" y="311.6" width="1.0" height="1.0" fill="#ffffff"/>
<rect x="400.1" y="313.7" width="1.0" height="1.0" fill="#d01030"/>
<rect x="406.5" y="305.5" width="1.0" height="1.0" fill="#ffffff"/>
<rect x="387.8" y="306.9" width="1.0" height="1.0" fill="#5030a0"/>
<rect x="388.9" y="331.2" width="1.0" height="1.0" fill="#5030a0"/>
<rect x="386.5" y="343.4" width="1.0" height="1.0" fill="#d01030"/>
<rect x="406.0" y="314.0" width="1.0" height="1.0" fill="#f0e0f0"/>
<rect x="379.3" y="329.8" width="1.0" height="1.0" fill="#f0e0f0"/>
<rect x="399.0" y="307.2" width="1.0" height="1.0" fill="#ffffff"/>
<rect x="380.6" y="336.2" width="1.0" height="1.0" fill="#f0e0f0"/>
<rect x="405.5" y="336.5" width="1.0" height="1.0" fill="#d01030"/>
</g>
<path d="M402.50,301.50 C402.33,299.95 405.07,301.62 407.00,303.70 C408.93,305.78 413.18,310.83 414.10,314.00 C415.02,317.17 413.82,320.07 412.50,322.70 C411.18,325.33 407.53,328.25 406.20,329.80 C404.87,331.35 404.70,333.30 404.50,332.00 C404.30,330.70 404.42,325.17 405.00,322.00 C405.58,318.83 408.42,316.42 408.00,313.00 C407.58,309.58 402.67,303.05 402.50,301.50 Z" fill="#5a2a98" fill-opacity="0.75"/>
<clipPath id="cl7"><path d="M402.50,301.50 C402.33,299.95 405.07,301.62 407.00,303.70 C408.93,305.78 413.18,310.83 414.10,314.00 C415.02,317.17 413.82,320.07 412.50,322.70 C411.18,325.33 407.53,328.25 406.20,329.80 C404.87,331.35 404.70,333.30 404.50,332.00 C404.30,330.70 404.42,325.17 405.00,322.00 C405.58,318.83 408.42,316.42 408.00,313.00 C407.58,309.58 402.67,303.05 402.50,301.50 Z"/></clipPath><g clip-path="url(#cl7)">
<rect x="407.6" y="322.0" width="0.9" height="0.9" fill="#ffffff"/>
<rect x="404.7" y="304.6" width="0.9" height="0.9" fill="#ffffff"/>
<rect x="404.5" y="328.9" width="0.9" height="0.9" fill="#ffffff"/>
<rect x="405.1" y="327.9" width="0.9" height="0.9" fill="#ffffff"/>
<rect x="405.7" y="304.5" width="0.9" height="0.9" fill="#ffffff"/>
<rect x="404.4" y="319.4" width="0.9" height="0.9" fill="#7040b0"/>
<rect x="407.6" y="316.9" width="0.9" height="0.9" fill="#7040b0"/>
<rect x="402.7" y="329.9" width="0.9" height="0.9" fill="#d01030"/>
<rect x="407.7" y="328.6" width="0.9" height="0.9" fill="#7040b0"/>
<rect x="408.7" y="308.1" width="0.9" height="0.9" fill="#d01030"/>
<rect x="409.8" y="319.6" width="0.9" height="0.9" fill="#ffffff"/>
<rect x="410.0" y="312.8" width="0.9" height="0.9" fill="#7040b0"/>
<rect x="411.9" y="331.4" width="0.9" height="0.9" fill="#ffffff"/>
<rect x="410.5" y="306.2" width="0.9" height="0.9" fill="#7040b0"/>
<rect x="403.2" y="319.0" width="0.9" height="0.9" fill="#d01030"/>
<rect x="404.8" y="307.8" width="0.9" height="0.9" fill="#d01030"/>
<rect x="405.4" y="304.1" width="0.9" height="0.9" fill="#ffffff"/>
<rect x="404.6" y="301.5" width="0.9" height="0.9" fill="#ffffff"/>
<rect x="405.1" y="308.9" width="0.9" height="0.9" fill="#ffffff"/>
<rect x="403.8" y="308.3" width="0.9" height="0.9" fill="#ffffff"/>
<rect x="403.8" y="324.4" width="0.9" height="0.9" fill="#d01030"/>
<rect x="410.6" y="325.3" width="0.9" height="0.9" fill="#ffffff"/>
<rect x="404.9" y="302.6" width="0.9" height="0.9" fill="#7040b0"/>
<rect x="407.3" y="329.9" width="0.9" height="0.9" fill="#ffffff"/>
<rect x="405.1" y="314.2" width="0.9" height="0.9" fill="#ffffff"/>
<rect x="410.4" y="319.3" width="0.9" height="0.9" fill="#ffffff"/>
<rect x="405.7" y="326.8" width="0.9" height="0.9" fill="#ffffff"/>
<rect x="404.9" y="303.0" width="0.9" height="0.9" fill="#ffffff"/>
<rect x="407.9" y="319.0" width="0.9" height="0.9" fill="#7040b0"/>
<rect x="414.0" y="317.0" width="0.9" height="0.9" fill="#7040b0"/>
<rect x="403.4" y="312.8" width="0.9" height="0.9" fill="#d01030"/>
<rect x="413.8" y="301.9" width="0.9" height="0.9" fill="#ffffff"/>
<rect x="409.8" y="327.2" width="0.9" height="0.9" fill="#ffffff"/>
<rect x="412.0" y="328.2" width="0.9" height="0.9" fill="#ffffff"/>
<rect x="410.8" y="323.7" width="0.9" height="0.9" fill="#ffffff"/>
<rect x="404.2" y="313.5" width="0.9" height="0.9" fill="#7040b0"/>
<rect x="410.1" y="302.2" width="0.9" height="0.9" fill="#d01030"/>
<rect x="410.9" y="317.4" width="0.9" height="0.9" fill="#ffffff"/>
<rect x="406.4" y="305.4" width="0.9" height="0.9" fill="#7040b0"/>
<rect x="405.8" y="325.6" width="0.9" height="0.9" fill="#d01030"/>
<rect x="411.7" y="322.5" width="0.9" height="0.9" fill="#ffffff"/>
<rect x="403.8" y="323.8" width="0.9" height="0.9" fill="#7040b0"/>
<rect x="414.0" y="310.6" width="0.9" height="0.9" fill="#d01030"/>
<rect x="410.7" y="320.3" width="0.9" height="0.9" fill="#ffffff"/>
<rect x="412.9" y="305.1" width="0.9" height="0.9" fill="#ffffff"/>
<rect x="406.0" y="331.0" width="0.9" height="0.9" fill="#ffffff"/>
<rect x="403.7" y="329.7" width="0.9" height="0.9" fill="#ffffff"/>
<rect x="413.7" y="311.3" width="0.9" height="0.9" fill="#ffffff"/>
<rect x="407.1" y="324.5" width="0.9" height="0.9" fill="#ffffff"/>
<rect x="412.2" y="319.4" width="0.9" height="0.9" fill="#ffffff"/>
<rect x="405.5" y="329.7" width="0.9" height="0.9" fill="#ffffff"/>
<rect x="407.6" y="324.8" width="0.9" height="0.9" fill="#7040b0"/>
<rect x="406.7" y="319.9" width="0.9" height="0.9" fill="#ffffff"/>
<rect x="407.4" y="330.1" width="0.9" height="0.9" fill="#7040b0"/>
<rect x="403.9" y="302.0" width="0.9" height="0.9" fill="#7040b0"/>
<rect x="402.9" y="315.1" width="0.9" height="0.9" fill="#d01030"/>
<rect x="413.1" y="314.9" width="0.9" height="0.9" fill="#ffffff"/>
<rect x="403.7" y="325.9" width="0.9" height="0.9" fill="#d01030"/>
<rect x="406.0" y="323.3" width="0.9" height="0.9" fill="#ffffff"/>
<rect x="411.9" y="312.6" width="0.9" height="0.9" fill="#d01030"/>
</g>
<path d="M374.50,337.50 C375.00,336.50 377.25,335.42 379.00,334.50 C380.75,333.58 383.67,332.25 385.00,332.00 C386.33,331.75 387.67,332.08 387.00,333.00 C386.33,333.92 382.83,336.25 381.00,337.50 C379.17,338.75 377.08,340.50 376.00,340.50 C374.92,340.50 374.00,338.50 374.50,337.50 Z" fill="#c81030" fill-opacity="0.85"/>
<path d="M399.50,345.00 C400.03,343.92 402.62,344.10 403.20,345.00 C403.78,345.90 403.17,348.97 403.00,350.40 C402.83,351.83 402.70,353.42 402.20,353.60 C401.70,353.78 400.45,352.93 400.00,351.50 C399.55,350.07 398.97,346.08 399.50,345.00 Z" fill="#b81838" fill-opacity="0.8"/>
<path d="M453.70,307.40 C454.12,306.17 454.75,304.63 456.20,303.70 C457.65,302.77 460.33,302.43 462.40,301.80 C464.47,301.17 467.25,300.83 468.60,299.90 C469.95,298.97 469.05,297.23 470.50,296.20 C471.95,295.17 475.12,294.12 477.30,293.70 C479.48,293.28 482.03,293.08 483.60,293.70 C485.17,294.32 486.28,295.95 486.70,297.40 C487.12,298.85 487.03,300.73 486.10,302.40 C485.17,304.07 482.97,305.95 481.10,307.40 C479.23,308.85 476.77,310.07 474.90,311.10 C473.03,312.13 471.57,312.55 469.90,313.60 C468.23,314.65 466.35,316.35 464.90,317.40 C463.45,318.45 462.55,319.48 461.20,319.90 C459.85,320.32 457.85,320.53 456.80,319.90 C455.75,319.27 455.42,317.57 454.90,316.10 C454.38,314.63 453.90,312.55 453.70,311.10 C453.50,309.65 453.28,308.63 453.70,307.40 Z" fill="#ea1222" fill-opacity="1.0"/>
<clipPath id="cl8"><path d="M453.70,307.40 C454.12,306.17 454.75,304.63 456.20,303.70 C457.65,302.77 460.33,302.43 462.40,301.80 C464.47,301.17 467.25,300.83 468.60,299.90 C469.95,298.97 469.05,297.23 470.50,296.20 C471.95,295.17 475.12,294.12 477.30,293.70 C479.48,293.28 482.03,293.08 483.60,293.70 C485.17,294.32 486.28,295.95 486.70,297.40 C487.12,298.85 487.03,300.73 486.10,302.40 C485.17,304.07 482.97,305.95 481.10,307.40 C479.23,308.85 476.77,310.07 474.90,311.10 C473.03,312.13 471.57,312.55 469.90,313.60 C468.23,314.65 466.35,316.35 464.90,317.40 C463.45,318.45 462.55,319.48 461.20,319.90 C459.85,320.32 457.85,320.53 456.80,319.90 C455.75,319.27 455.42,317.57 454.90,316.10 C454.38,314.63 453.90,312.55 453.70,311.10 C453.50,309.65 453.28,308.63 453.70,307.40 Z"/></clipPath><g clip-path="url(#cl8)">
<rect x="456.6" y="294.4" width="0.9" height="0.9" fill="#f02020"/>
<rect x="461.0" y="295.8" width="0.9" height="0.9" fill="#c01030"/>
<rect x="471.9" y="309.5" width="0.9" height="0.9" fill="#5a30a0"/>
<rect x="458.2" y="315.2" width="0.9" height="0.9" fill="#5a30a0"/>
<rect x="468.3" y="309.1" width="0.9" height="0.9" fill="#f02020"/>
<rect x="481.4" y="294.9" width="0.9" height="0.9" fill="#f02020"/>
<rect x="485.9" y="307.9" width="0.9" height="0.9" fill="#c01030"/>
<rect x="467.2" y="309.4" width="0.9" height="0.9" fill="#c01030"/>
<rect x="457.0" y="295.4" width="0.9" height="0.9" fill="#5a30a0"/>
<rect x="460.8" y="315.7" width="0.9" height="0.9" fill="#c01030"/>
<rect x="476.1" y="301.3" width="0.9" height="0.9" fill="#f02020"/>
<rect x="468.1" y="301.1" width="0.9" height="0.9" fill="#c01030"/>
<rect x="464.4" y="308.1" width="0.9" height="0.9" fill="#c01030"/>
<rect x="474.9" y="295.9" width="0.9" height="0.9" fill="#c01030"/>
<rect x="470.1" y="299.7" width="0.9" height="0.9" fill="#c01030"/>
<rect x="464.1" y="315.5" width="0.9" height="0.9" fill="#5a30a0"/>
<rect x="477.4" y="303.5" width="0.9" height="0.9" fill="#f02020"/>
<rect x="483.9" y="307.1" width="0.9" height="0.9" fill="#f02020"/>
<rect x="486.1" y="317.1" width="0.9" height="0.9" fill="#c01030"/>
<rect x="484.8" y="300.4" width="0.9" height="0.9" fill="#f02020"/>
<rect x="480.2" y="297.2" width="0.9" height="0.9" fill="#c01030"/>
<rect x="475.1" y="314.9" width="0.9" height="0.9" fill="#c01030"/>
<rect x="454.2" y="300.4" width="0.9" height="0.9" fill="#c01030"/>
<rect x="459.5" y="300.5" width="0.9" height="0.9" fill="#c01030"/>
<rect x="484.4" y="304.2" width="0.9" height="0.9" fill="#c01030"/>
<rect x="477.2" y="296.2" width="0.9" height="0.9" fill="#5a30a0"/>
<rect x="480.1" y="298.5" width="0.9" height="0.9" fill="#c01030"/>
<rect x="475.1" y="311.7" width="0.9" height="0.9" fill="#c01030"/>
<rect x="483.3" y="318.8" width="0.9" height="0.9" fill="#5a30a0"/>
<rect x="466.6" y="304.8" width="0.9" height="0.9" fill="#f02020"/>
<rect x="475.7" y="308.4" width="0.9" height="0.9" fill="#f02020"/>
<rect x="463.1" y="310.9" width="0.9" height="0.9" fill="#c01030"/>
<rect x="470.7" y="298.6" width="0.9" height="0.9" fill="#f02020"/>
<rect x="485.5" y="314.1" width="0.9" height="0.9" fill="#5a30a0"/>
<rect x="469.1" y="315.7" width="0.9" height="0.9" fill="#c01030"/>
<rect x="476.2" y="295.7" width="0.9" height="0.9" fill="#5a30a0"/>
<rect x="484.7" y="315.5" width="0.9" height="0.9" fill="#c01030"/>
<rect x="483.1" y="305.7" width="0.9" height="0.9" fill="#f02020"/>
<rect x="464.0" y="303.4" width="0.9" height="0.9" fill="#f02020"/>
<rect x="481.6" y="311.2" width="0.9" height="0.9" fill="#5a30a0"/>
<rect x="456.6" y="317.1" width="0.9" height="0.9" fill="#5a30a0"/>
<rect x="460.7" y="302.5" width="0.9" height="0.9" fill="#c01030"/>
<rect x="471.0" y="297.5" width="0.9" height="0.9" fill="#5a30a0"/>
<rect x="461.1" y="315.9" width="0.9" height="0.9" fill="#c01030"/>
<rect x="485.7" y="301.3" width="0.9" height="0.9" fill="#f02020"/>
<rect x="462.5" y="304.0" width="0.9" height="0.9" fill="#5a30a0"/>
<rect x="485.0" y="299.5" width="0.9" height="0.9" fill="#5a30a0"/>
<rect x="454.1" y="316.3" width="0.9" height="0.9" fill="#f02020"/>
<rect x="479.6" y="296.2" width="0.9" height="0.9" fill="#f02020"/>
<rect x="467.0" y="300.0" width="0.9" height="0.9" fill="#5a30a0"/>
</g>
<path d="M460.50,324.80 C460.92,324.28 461.77,323.57 462.40,324.20 C463.03,324.83 464.08,327.15 464.30,328.60 C464.52,330.05 464.12,331.97 463.70,332.90 C463.28,333.83 462.43,334.50 461.80,334.20 C461.17,333.90 460.22,332.25 459.90,331.10 C459.58,329.95 459.80,328.35 459.90,327.30 C460.00,326.25 460.08,325.32 460.50,324.80 Z" fill="#ea1222" fill-opacity="1.0"/>
<path d="M447.70,347.30 C448.08,345.90 448.58,344.40 450.00,343.50 C451.42,342.60 454.15,341.78 456.20,341.90 C458.25,342.02 459.75,343.55 462.30,344.20 C464.85,344.85 468.42,345.92 471.50,345.80 C474.58,345.68 478.62,344.27 480.80,343.50 C482.98,342.73 483.58,340.82 484.60,341.20 C485.62,341.58 486.25,344.27 486.90,345.80 C487.55,347.33 486.95,349.12 488.50,350.40 C490.05,351.68 494.03,352.48 496.20,353.50 C498.37,354.52 500.73,355.22 501.50,356.50 C502.27,357.78 501.95,360.17 500.80,361.20 C499.65,362.23 496.40,363.22 494.60,362.70 C492.80,362.18 492.05,359.38 490.00,358.10 C487.95,356.82 485.38,355.77 482.30,355.00 C479.22,354.23 475.08,353.88 471.50,353.50 C467.92,353.12 463.87,352.32 460.80,352.70 C457.73,353.08 455.03,355.42 453.10,355.80 C451.17,356.18 450.10,355.65 449.20,355.00 C448.30,354.35 447.95,353.18 447.70,351.90 C447.45,350.62 447.32,348.70 447.70,347.30 Z" fill="#e81424" fill-opacity="1.0"/>
<clipPath id="cl9"><path d="M447.70,347.30 C448.08,345.90 448.58,344.40 450.00,343.50 C451.42,342.60 454.15,341.78 456.20,341.90 C458.25,342.02 459.75,343.55 462.30,344.20 C464.85,344.85 468.42,345.92 471.50,345.80 C474.58,345.68 478.62,344.27 480.80,343.50 C482.98,342.73 483.58,340.82 484.60,341.20 C485.62,341.58 486.25,344.27 486.90,345.80 C487.55,347.33 486.95,349.12 488.50,350.40 C490.05,351.68 494.03,352.48 496.20,353.50 C498.37,354.52 500.73,355.22 501.50,356.50 C502.27,357.78 501.95,360.17 500.80,361.20 C499.65,362.23 496.40,363.22 494.60,362.70 C492.80,362.18 492.05,359.38 490.00,358.10 C487.95,356.82 485.38,355.77 482.30,355.00 C479.22,354.23 475.08,353.88 471.50,353.50 C467.92,353.12 463.87,352.32 460.80,352.70 C457.73,353.08 455.03,355.42 453.10,355.80 C451.17,356.18 450.10,355.65 449.20,355.00 C448.30,354.35 447.95,353.18 447.70,351.90 C447.45,350.62 447.32,348.70 447.70,347.30 Z"/></clipPath><g clip-path="url(#cl9)">
<rect x="453.1" y="356.5" width="0.9" height="0.9" fill="#8040a0"/>
<rect x="483.6" y="343.1" width="0.9" height="0.9" fill="#8040a0"/>
<rect x="463.1" y="362.1" width="0.9" height="0.9" fill="#f02020"/>
<rect x="478.6" y="341.9" width="0.9" height="0.9" fill="#f02020"/>
<rect x="488.8" y="353.9" width="0.9" height="0.9" fill="#5a30a0"/>
<rect x="486.0" y="358.6" width="0.9" height="0.9" fill="#8040a0"/>
<rect x="473.8" y="344.3" width="0.9" height="0.9" fill="#8040a0"/>
<rect x="456.0" y="352.8" width="0.9" height="0.9" fill="#f02020"/>
<rect x="466.3" y="344.7" width="0.9" height="0.9" fill="#f02020"/>
<rect x="485.8" y="353.5" width="0.9" height="0.9" fill="#5a30a0"/>
<rect x="481.5" y="354.1" width="0.9" height="0.9" fill="#8040a0"/>
<rect x="491.4" y="353.4" width="0.9" height="0.9" fill="#5a30a0"/>
<rect x="450.3" y="352.0" width="0.9" height="0.9" fill="#f02020"/>
<rect x="453.2" y="348.4" width="0.9" height="0.9" fill="#8040a0"/>
<rect x="487.7" y="361.5" width="0.9" height="0.9" fill="#8040a0"/>
<rect x="483.3" y="361.4" width="0.9" height="0.9" fill="#f02020"/>
<rect x="471.7" y="351.1" width="0.9" height="0.9" fill="#8040a0"/>
<rect x="464.8" y="343.6" width="0.9" height="0.9" fill="#8040a0"/>
<rect x="457.1" y="343.6" width="0.9" height="0.9" fill="#8040a0"/>
<rect x="484.5" y="360.4" width="0.9" height="0.9" fill="#8040a0"/>
<rect x="459.0" y="345.7" width="0.9" height="0.9" fill="#5a30a0"/>
<rect x="465.7" y="361.6" width="0.9" height="0.9" fill="#8040a0"/>
<rect x="471.7" y="358.3" width="0.9" height="0.9" fill="#8040a0"/>
<rect x="492.8" y="358.7" width="0.9" height="0.9" fill="#8040a0"/>
<rect x="457.1" y="342.8" width="0.9" height="0.9" fill="#5a30a0"/>
<rect x="449.4" y="360.2" width="0.9" height="0.9" fill="#f02020"/>
<rect x="469.9" y="361.7" width="0.9" height="0.9" fill="#8040a0"/>
<rect x="460.2" y="344.2" width="0.9" height="0.9" fill="#f02020"/>
<rect x="479.2" y="346.3" width="0.9" height="0.9" fill="#5a30a0"/>
<rect x="481.6" y="350.1" width="0.9" height="0.9" fill="#f02020"/>
<rect x="482.4" y="352.1" width="0.9" height="0.9" fill="#5a30a0"/>
<rect x="449.7" y="358.1" width="0.9" height="0.9" fill="#f02020"/>
<rect x="458.6" y="348.4" width="0.9" height="0.9" fill="#f02020"/>
<rect x="449.1" y="359.3" width="0.9" height="0.9" fill="#5a30a0"/>
<rect x="493.9" y="351.7" width="0.9" height="0.9" fill="#f02020"/>
<rect x="499.7" y="359.2" width="0.9" height="0.9" fill="#f02020"/>
<rect x="468.1" y="348.0" width="0.9" height="0.9" fill="#8040a0"/>
<rect x="481.5" y="350.0" width="0.9" height="0.9" fill="#f02020"/>
<rect x="474.6" y="352.5" width="0.9" height="0.9" fill="#5a30a0"/>
<rect x="474.2" y="349.9" width="0.9" height="0.9" fill="#5a30a0"/>
<rect x="474.5" y="350.5" width="0.9" height="0.9" fill="#5a30a0"/>
<rect x="479.9" y="343.7" width="0.9" height="0.9" fill="#8040a0"/>
<rect x="473.0" y="357.7" width="0.9" height="0.9" fill="#8040a0"/>
<rect x="450.2" y="360.1" width="0.9" height="0.9" fill="#f02020"/>
<rect x="479.8" y="355.6" width="0.9" height="0.9" fill="#8040a0"/>
<rect x="492.1" y="360.4" width="0.9" height="0.9" fill="#5a30a0"/>
<rect x="466.6" y="351.3" width="0.9" height="0.9" fill="#5a30a0"/>
<rect x="463.6" y="357.6" width="0.9" height="0.9" fill="#5a30a0"/>
<rect x="450.5" y="347.8" width="0.9" height="0.9" fill="#8040a0"/>
<rect x="497.6" y="353.4" width="0.9" height="0.9" fill="#5a30a0"/>
<rect x="490.7" y="355.4" width="0.9" height="0.9" fill="#8040a0"/>
<rect x="472.4" y="353.1" width="0.9" height="0.9" fill="#f02020"/>
<rect x="478.9" y="344.3" width="0.9" height="0.9" fill="#8040a0"/>
<rect x="473.4" y="354.8" width="0.9" height="0.9" fill="#8040a0"/>
<rect x="450.1" y="347.4" width="0.9" height="0.9" fill="#8040a0"/>
<rect x="448.4" y="348.1" width="0.9" height="0.9" fill="#8040a0"/>
<rect x="450.9" y="358.2" width="0.9" height="0.9" fill="#8040a0"/>
<rect x="496.7" y="344.7" width="0.9" height="0.9" fill="#5a30a0"/>
<rect x="460.5" y="349.4" width="0.9" height="0.9" fill="#f02020"/>
<rect x="487.8" y="356.6" width="0.9" height="0.9" fill="#5a30a0"/>
<rect x="489.1" y="354.4" width="0.9" height="0.9" fill="#8040a0"/>
<rect x="499.0" y="358.0" width="0.9" height="0.9" fill="#5a30a0"/>
<rect x="461.0" y="352.3" width="0.9" height="0.9" fill="#5a30a0"/>
<rect x="498.9" y="344.5" width="0.9" height="0.9" fill="#f02020"/>
<rect x="457.1" y="353.2" width="0.9" height="0.9" fill="#f02020"/>
<rect x="498.0" y="341.6" width="0.9" height="0.9" fill="#f02020"/>
<rect x="490.5" y="342.3" width="0.9" height="0.9" fill="#f02020"/>
<rect x="456.5" y="359.3" width="0.9" height="0.9" fill="#5a30a0"/>
<rect x="492.6" y="355.9" width="0.9" height="0.9" fill="#f02020"/>
<rect x="451.2" y="348.3" width="0.9" height="0.9" fill="#8040a0"/>
<rect x="468.1" y="361.2" width="0.9" height="0.9" fill="#5a30a0"/>
<rect x="485.4" y="353.7" width="0.9" height="0.9" fill="#8040a0"/>
<rect x="493.6" y="351.1" width="0.9" height="0.9" fill="#5a30a0"/>
<rect x="473.9" y="359.2" width="0.9" height="0.9" fill="#5a30a0"/>
<rect x="459.4" y="361.4" width="0.9" height="0.9" fill="#5a30a0"/>
<rect x="460.0" y="341.2" width="0.9" height="0.9" fill="#f02020"/>
<rect x="453.0" y="357.7" width="0.9" height="0.9" fill="#f02020"/>
<rect x="481.8" y="359.1" width="0.9" height="0.9" fill="#f02020"/>
<rect x="500.3" y="344.0" width="0.9" height="0.9" fill="#f02020"/>
<rect x="464.6" y="355.9" width="0.9" height="0.9" fill="#5a30a0"/>
<rect x="455.5" y="355.7" width="0.9" height="0.9" fill="#8040a0"/>
<rect x="462.5" y="346.6" width="0.9" height="0.9" fill="#f02020"/>
<rect x="457.6" y="354.4" width="0.9" height="0.9" fill="#8040a0"/>
<rect x="495.5" y="346.4" width="0.9" height="0.9" fill="#f02020"/>
<rect x="448.8" y="360.0" width="0.9" height="0.9" fill="#8040a0"/>
<rect x="489.6" y="357.7" width="0.9" height="0.9" fill="#5a30a0"/>
<rect x="465.1" y="357.1" width="0.9" height="0.9" fill="#f02020"/>
<rect x="472.8" y="358.7" width="0.9" height="0.9" fill="#8040a0"/>
<rect x="471.5" y="343.2" width="0.9" height="0.9" fill="#5a30a0"/>
<rect x="495.0" y="344.7" width="0.9" height="0.9" fill="#f02020"/>
</g>
<path d="M436.90,371.20 C437.42,369.78 439.13,369.25 440.80,368.80 C442.47,368.35 444.98,368.37 446.90,368.50 C448.82,368.63 451.02,368.77 452.30,369.60 C453.58,370.43 454.47,371.83 454.60,373.50 C454.73,375.17 453.87,377.82 453.10,379.60 C452.33,381.38 450.77,382.67 450.00,384.20 C449.23,385.73 448.75,386.87 448.50,388.80 C448.25,390.73 448.77,394.63 448.50,395.80 C448.23,396.97 447.42,396.97 446.90,395.80 C446.38,394.63 446.17,390.98 445.40,388.80 C444.63,386.62 443.58,384.62 442.30,382.70 C441.02,380.78 438.60,379.22 437.70,377.30 C436.80,375.38 436.38,372.62 436.90,371.20 Z" fill="#ea1424" fill-opacity="1.0"/>
<path d="M470.24,371.71 C470.91,370.54 474.51,368.72 476.35,368.72 C478.19,368.72 480.97,370.72 481.29,371.71 C481.62,372.71 479.80,374.03 478.30,374.70 C476.81,375.38 473.66,376.24 472.32,375.74 C470.98,375.25 469.57,372.88 470.24,371.71 Z" fill="#e01828" fill-opacity="1.0"/>
<clipPath id="cl10"><path d="M470.24,371.71 C470.91,370.54 474.51,368.72 476.35,368.72 C478.19,368.72 480.97,370.72 481.29,371.71 C481.62,372.71 479.80,374.03 478.30,374.70 C476.81,375.38 473.66,376.24 472.32,375.74 C470.98,375.25 469.57,372.88 470.24,371.71 Z"/></clipPath><g clip-path="url(#cl10)">
<rect x="480.5" y="368.8" width="0.9" height="0.9" fill="#5a30a0"/>
<rect x="471.2" y="370.5" width="0.9" height="0.9" fill="#5a30a0"/>
<rect x="479.9" y="371.6" width="0.9" height="0.9" fill="#5a30a0"/>
<rect x="471.5" y="371.5" width="0.9" height="0.9" fill="#5a30a0"/>
<rect x="472.9" y="374.3" width="0.9" height="0.9" fill="#5a30a0"/>
<rect x="478.9" y="372.5" width="0.9" height="0.9" fill="#5a30a0"/>
<rect x="479.9" y="369.2" width="0.9" height="0.9" fill="#5a30a0"/>
<rect x="473.4" y="373.9" width="0.9" height="0.9" fill="#5a30a0"/>
</g>
<path d="M472.30,391.37 C473.52,390.22 479.84,387.36 481.75,387.18 C483.67,387.00 484.99,389.14 483.78,390.29 C482.56,391.43 476.38,393.89 474.46,394.07 C472.55,394.25 471.09,392.51 472.30,391.37 Z" fill="#d81830" fill-opacity="1.0"/>
<clipPath id="cl11"><path d="M472.30,391.37 C473.52,390.22 479.84,387.36 481.75,387.18 C483.67,387.00 484.99,389.14 483.78,390.29 C482.56,391.43 476.38,393.89 474.46,394.07 C472.55,394.25 471.09,392.51 472.30,391.37 Z"/></clipPath><g clip-path="url(#cl11)">
<rect x="477.3" y="390.2" width="0.9" height="0.9" fill="#5a30a0"/>
<rect x="482.2" y="391.6" width="0.9" height="0.9" fill="#5a30a0"/>
<rect x="475.8" y="391.5" width="0.9" height="0.9" fill="#5a30a0"/>
<rect x="483.1" y="390.3" width="0.9" height="0.9" fill="#5a30a0"/>
<rect x="482.2" y="388.9" width="0.9" height="0.9" fill="#5a30a0"/>
<rect x="476.8" y="388.8" width="0.9" height="0.9" fill="#5a30a0"/>
</g>
<rect x="421.0" y="389.6" width="0.8" height="0.8" fill="#c0a0d0"/>
<rect x="405.7" y="380.1" width="0.8" height="0.8" fill="#c0a0d0"/>
<rect x="425.1" y="394.5" width="0.8" height="0.8" fill="#c0a0d0"/>
<rect x="411.3" y="381.9" width="0.8" height="0.8" fill="#e0a0b0"/>
<rect x="427.7" y="389.9" width="0.8" height="0.8" fill="#c0a0d0"/>
<rect x="412.3" y="381.9" width="0.8" height="0.8" fill="#c0a0d0"/>
<rect x="413.4" y="387.0" width="0.8" height="0.8" fill="#c0a0d0"/>
<rect x="418.4" y="389.3" width="0.8" height="0.8" fill="#e0a0b0"/>
<rect x="427.6" y="389.6" width="0.8" height="0.8" fill="#e0a0b0"/>
<rect x="412.4" y="394.9" width="0.8" height="0.8" fill="#e0a0b0"/>
<text x="6.70" y="15.09" font-size="10.8" textLength="8.4" lengthAdjust="spacingAndGlyphs" font-weight="bold" fill="#000">A</text>
<text x="127.70" y="26.42" font-size="9.5" textLength="75" lengthAdjust="spacingAndGlyphs" fill="#1a1718" stroke="#1a1718" stroke-width="0.15">x = CLL diagnosis</text>
<text x="279.50" y="15.38" font-size="10.5" textLength="43.5" lengthAdjust="spacingAndGlyphs" fill="#1a1718" stroke="#1a1718" stroke-width="0.15">Treatment</text>
<rect x="299.10" y="18.20" width="2.80" height="5.60" fill="#000"/>
<path d="M296.4,23.2 L304.6,23.2 L300.5,28.4 Z" fill="#000"/>
<rect x="6.00" y="29.00" width="119.20" height="10.00" fill="#c8152e"/>
<rect x="125.20" y="29.00" width="175.30" height="10.00" fill="#5e2570"/>
<text x="66.30" y="37.19" font-size="8.3" text-anchor="middle" textLength="18" lengthAdjust="spacingAndGlyphs" fill="#fff" stroke="#fff" stroke-width="0.15">MBL</text>
<text x="215.00" y="37.19" font-size="8.3" text-anchor="middle" textLength="14" lengthAdjust="spacingAndGlyphs" fill="#fff" stroke="#fff" stroke-width="0.15">CLL</text>
<line x1="7" y1="40" x2="7" y2="75" stroke="#000" stroke-width="1.3" stroke-dasharray="1.4 2.1"/>
<line x1="125.2" y1="40" x2="125.2" y2="152" stroke="#000" stroke-width="1.3" stroke-dasharray="1.4 2.1"/>
<line x1="300.3" y1="40" x2="300.3" y2="159" stroke="#000" stroke-width="1.3" stroke-dasharray="1.4 2.1"/>
<line x1="7" y1="47.1" x2="59" y2="47.1" stroke="#eaa0ab" stroke-width="0.9" stroke-dasharray="1.6 0.9"/>
<line x1="59" y1="47.1" x2="82.1" y2="47.1" stroke="#d0203c" stroke-width="1.5"/>
<circle cx="59.00" cy="47.10" r="2.3" fill="#c8152e"/>
<circle cx="82.10" cy="47.10" r="2.3" fill="#c8152e"/>
<line x1="7" y1="56.1" x2="31.9" y2="56.1" stroke="#eaa0ab" stroke-width="0.9" stroke-dasharray="1.6 0.9"/>
<line x1="31.9" y1="56.1" x2="65.8" y2="56.1" stroke="#d0203c" stroke-width="1.5"/>
<circle cx="31.90" cy="56.10" r="2.3" fill="#c8152e"/>
<circle cx="65.80" cy="56.10" r="2.3" fill="#c8152e"/>
<line x1="7" y1="65.6" x2="65.8" y2="65.6" stroke="#eaa0ab" stroke-width="0.9" stroke-dasharray="1.6 0.9"/>
<line x1="65.8" y1="65.6" x2="99.5" y2="65.6" stroke="#d0203c" stroke-width="1.5"/>
<circle cx="65.80" cy="65.60" r="2.3" fill="#c8152e"/>
<circle cx="99.50" cy="65.60" r="2.3" fill="#c8152e"/>
<line x1="6.5" y1="75.2" x2="300.3" y2="75.2" stroke="#000" stroke-width="1.1"/>
<line x1="17.4" y1="75.2" x2="17.4" y2="78.6" stroke="#000" stroke-width="0.9"/>
<text x="17.40" y="87.52" font-size="8.4" text-anchor="middle" fill="#1a1718" stroke="#1a1718" stroke-width="0.15">1</text>
<line x1="28.27" y1="75.2" x2="28.27" y2="78.6" stroke="#000" stroke-width="0.9"/>
<text x="28.27" y="87.52" font-size="8.4" text-anchor="middle" fill="#1a1718" stroke="#1a1718" stroke-width="0.15">2</text>
<line x1="39.14" y1="75.2" x2="39.14" y2="78.6" stroke="#000" stroke-width="0.9"/>
<text x="39.14" y="87.52" font-size="8.4" text-anchor="middle" fill="#1a1718" stroke="#1a1718" stroke-width="0.15">3</text>
<line x1="50.01" y1="75.2" x2="50.01" y2="78.6" stroke="#000" stroke-width="0.9"/>
<text x="50.01" y="87.52" font-size="8.4" text-anchor="middle" fill="#1a1718" stroke="#1a1718" stroke-width="0.15">4</text>
<line x1="60.879999999999995" y1="75.2" x2="60.879999999999995" y2="78.6" stroke="#000" stroke-width="0.9"/>
<text x="60.88" y="87.52" font-size="8.4" text-anchor="middle" fill="#1a1718" stroke="#1a1718" stroke-width="0.15">5</text>
<line x1="71.75" y1="75.2" x2="71.75" y2="78.6" stroke="#000" stroke-width="0.9"/>
<text x="71.75" y="87.52" font-size="8.4" text-anchor="middle" fill="#1a1718" stroke="#1a1718" stroke-width="0.15">6</text>
<line x1="82.61999999999999" y1="75.2" x2="82.61999999999999" y2="78.6" stroke="#000" stroke-width="0.9"/>
<text x="82.62" y="87.52" font-size="8.4" text-anchor="middle" fill="#1a1718" stroke="#1a1718" stroke-width="0.15">7</text>
<line x1="93.49" y1="75.2" x2="93.49" y2="78.6" stroke="#000" stroke-width="0.9"/>
<text x="93.49" y="87.52" font-size="8.4" text-anchor="middle" fill="#1a1718" stroke="#1a1718" stroke-width="0.15">8</text>
<line x1="104.36" y1="75.2" x2="104.36" y2="78.6" stroke="#000" stroke-width="0.9"/>
<text x="104.36" y="87.52" font-size="8.4" text-anchor="middle" fill="#1a1718" stroke="#1a1718" stroke-width="0.15">9</text>
<line x1="115.22999999999999" y1="75.2" x2="115.22999999999999" y2="78.6" stroke="#000" stroke-width="0.9"/>
<text x="115.23" y="87.52" font-size="8.4" text-anchor="middle" fill="#1a1718" stroke="#1a1718" stroke-width="0.15">10</text>
<text x="20.00" y="99.04" font-size="9" textLength="86" lengthAdjust="spacingAndGlyphs" fill="#1a1718" stroke="#1a1718" stroke-width="0.15">Years from MBL diagnosis</text>
<rect x="305.10" y="38.70" width="25.30" height="33.00" fill="#f2c5ce"/>
<text x="307.60" y="48.10" font-size="8.6" textLength="20" lengthAdjust="spacingAndGlyphs" fill="#1a1718" stroke="#1a1718" stroke-width="0.15">MBL1</text>
<text x="307.60" y="57.70" font-size="8.6" textLength="20" lengthAdjust="spacingAndGlyphs" fill="#1a1718" stroke="#1a1718" stroke-width="0.15">MBL2</text>
<text x="307.60" y="67.50" font-size="8.6" textLength="20" lengthAdjust="spacingAndGlyphs" fill="#1a1718" stroke="#1a1718" stroke-width="0.15">MBL3</text>
<line x1="132.7" y1="90.2" x2="166.2" y2="90.2" stroke="#cdb0d8" stroke-width="0.9" stroke-dasharray="1.6 0.9"/>
<line x1="166.2" y1="90.2" x2="234.8" y2="90.2" stroke="#8a5aa4" stroke-width="1.6"/>
<circle cx="166.20" cy="90.20" r="2.3" fill="#5a2275"/>
<circle cx="234.80" cy="90.20" r="2.3" fill="#5a2275"/>
<path d="M127.69999999999999,87.7 L132.7,92.7 M127.69999999999999,92.7 L132.7,87.7" stroke="#111" stroke-width="1.25"/>
<line x1="141.0" y1="99.7" x2="182" y2="99.7" stroke="#cdb0d8" stroke-width="0.9" stroke-dasharray="1.6 0.9"/>
<line x1="182" y1="99.7" x2="300.5" y2="99.7" stroke="#8a5aa4" stroke-width="1.6"/>
<circle cx="182.00" cy="99.70" r="2.3" fill="#5a2275"/>
<circle cx="300.50" cy="99.70" r="2.3" fill="#5a2275"/>
<path d="M136.0,97.2 L141.0,102.2 M136.0,102.2 L141.0,97.2" stroke="#111" stroke-width="1.25"/>
<line x1="210.7" y1="109.1" x2="216.7" y2="109.1" stroke="#cdb0d8" stroke-width="0.9" stroke-dasharray="1.6 0.9"/>
<line x1="216.7" y1="109.1" x2="294.5" y2="109.1" stroke="#8a5aa4" stroke-width="1.6"/>
<circle cx="216.70" cy="109.10" r="2.3" fill="#5a2275"/>
<circle cx="294.50" cy="109.10" r="2.3" fill="#5a2275"/>
<path d="M205.7,106.6 L210.7,111.6 M205.7,111.6 L210.7,106.6" stroke="#111" stroke-width="1.25"/>
<line x1="240.5" y1="118.5" x2="278.9" y2="118.5" stroke="#cdb0d8" stroke-width="0.9" stroke-dasharray="1.6 0.9"/>
<line x1="278.9" y1="118.5" x2="300.5" y2="118.5" stroke="#8a5aa4" stroke-width="1.6"/>
<circle cx="278.90" cy="118.50" r="2.3" fill="#5a2275"/>
<circle cx="300.50" cy="118.50" r="2.3" fill="#5a2275"/>
<path d="M235.5,116.0 L240.5,121.0 M235.5,121.0 L240.5,116.0" stroke="#111" stroke-width="1.25"/>
<line x1="236.7" y1="128.0" x2="240.2" y2="128.0" stroke="#cdb0d8" stroke-width="0.9" stroke-dasharray="1.6 0.9"/>
<line x1="240.2" y1="128.0" x2="298.8" y2="128.0" stroke="#8a5aa4" stroke-width="1.6"/>
<circle cx="240.20" cy="128.00" r="2.3" fill="#5a2275"/>
<circle cx="298.80" cy="128.00" r="2.3" fill="#5a2275"/>
<path d="M231.7,125.5 L236.7,130.5 M231.7,130.5 L236.7,125.5" stroke="#111" stroke-width="1.25"/>
<line x1="259.7" y1="137.4" x2="273.3" y2="137.4" stroke="#cdb0d8" stroke-width="0.9" stroke-dasharray="1.6 0.9"/>
<line x1="273.3" y1="137.4" x2="298.8" y2="137.4" stroke="#8a5aa4" stroke-width="1.6"/>
<circle cx="273.30" cy="137.40" r="2.3" fill="#5a2275"/>
<circle cx="298.80" cy="137.40" r="2.3" fill="#5a2275"/>
<path d="M254.7,134.9 L259.7,139.9 M254.7,139.9 L259.7,134.9" stroke="#111" stroke-width="1.25"/>
<line x1="276.3" y1="146.8" x2="283.5" y2="146.8" stroke="#cdb0d8" stroke-width="0.9" stroke-dasharray="1.6 0.9"/>
<line x1="283.5" y1="146.8" x2="300.5" y2="146.8" stroke="#8a5aa4" stroke-width="1.6"/>
<circle cx="283.50" cy="146.80" r="2.3" fill="#5a2275"/>
<circle cx="300.50" cy="146.80" r="2.3" fill="#5a2275"/>
<path d="M271.3,144.3 L276.3,149.3 M271.3,149.3 L276.3,144.3" stroke="#111" stroke-width="1.25"/>
<rect x="305.00" y="82.00" width="25.60" height="68.80" fill="#dcc9df"/>
<text x="308.90" y="89.95" font-size="8.2" textLength="17.8" lengthAdjust="spacingAndGlyphs" fill="#1a1718" stroke="#1a1718" stroke-width="0.15">CLL1</text>
<text x="308.90" y="99.85" font-size="8.2" textLength="17.8" lengthAdjust="spacingAndGlyphs" fill="#1a1718" stroke="#1a1718" stroke-width="0.15">CLL2</text>
<text x="308.90" y="109.75" font-size="8.2" textLength="17.8" lengthAdjust="spacingAndGlyphs" fill="#1a1718" stroke="#1a1718" stroke-width="0.15">CLL3</text>
<text x="308.90" y="119.65" font-size="8.2" textLength="17.8" lengthAdjust="spacingAndGlyphs" fill="#1a1718" stroke="#1a1718" stroke-width="0.15">CLL4</text>
<text x="308.90" y="129.65" font-size="8.2" textLength="17.8" lengthAdjust="spacingAndGlyphs" fill="#1a1718" stroke="#1a1718" stroke-width="0.15">CLL5</text>
<text x="308.90" y="139.65" font-size="8.2" textLength="17.8" lengthAdjust="spacingAndGlyphs" fill="#1a1718" stroke="#1a1718" stroke-width="0.15">CLL6</text>
<text x="308.90" y="148.85" font-size="8.2" textLength="17.8" lengthAdjust="spacingAndGlyphs" fill="#1a1718" stroke="#1a1718" stroke-width="0.15">CLL7</text>
<line x1="6.5" y1="155.1" x2="300.3" y2="155.1" stroke="#000" stroke-width="1.1"/>
<line x1="121" y1="159.2" x2="301" y2="159.2" stroke="#000" stroke-width="1.3"/>
<line x1="125.0" y1="159.2" x2="125.0" y2="162.5" stroke="#000" stroke-width="0.9"/>
<text x="125.30" y="172.35" font-size="8.2" text-anchor="middle" textLength="13" lengthAdjust="spacingAndGlyphs" fill="#1a1718" stroke="#1a1718" stroke-width="0.15">&#8722;16</text>
<line x1="146.875" y1="159.2" x2="146.875" y2="162.5" stroke="#000" stroke-width="0.9"/>
<text x="147.18" y="172.35" font-size="8.2" text-anchor="middle" textLength="13" lengthAdjust="spacingAndGlyphs" fill="#1a1718" stroke="#1a1718" stroke-width="0.15">&#8722;14</text>
<line x1="168.75" y1="159.2" x2="168.75" y2="162.5" stroke="#000" stroke-width="0.9"/>
<text x="169.05" y="172.35" font-size="8.2" text-anchor="middle" textLength="13" lengthAdjust="spacingAndGlyphs" fill="#1a1718" stroke="#1a1718" stroke-width="0.15">&#8722;12</text>
<line x1="190.625" y1="159.2" x2="190.625" y2="162.5" stroke="#000" stroke-width="0.9"/>
<text x="190.93" y="172.35" font-size="8.2" text-anchor="middle" textLength="13" lengthAdjust="spacingAndGlyphs" fill="#1a1718" stroke="#1a1718" stroke-width="0.15">&#8722;10</text>
<line x1="212.5" y1="159.2" x2="212.5" y2="162.5" stroke="#000" stroke-width="0.9"/>
<text x="212.80" y="172.35" font-size="8.2" text-anchor="middle" textLength="9" lengthAdjust="spacingAndGlyphs" fill="#1a1718" stroke="#1a1718" stroke-width="0.15">&#8722;8</text>
<line x1="234.375" y1="159.2" x2="234.375" y2="162.5" stroke="#000" stroke-width="0.9"/>
<text x="234.68" y="172.35" font-size="8.2" text-anchor="middle" textLength="9" lengthAdjust="spacingAndGlyphs" fill="#1a1718" stroke="#1a1718" stroke-width="0.15">&#8722;6</text>
<line x1="256.25" y1="159.2" x2="256.25" y2="162.5" stroke="#000" stroke-width="0.9"/>
<text x="256.55" y="172.35" font-size="8.2" text-anchor="middle" textLength="9" lengthAdjust="spacingAndGlyphs" fill="#1a1718" stroke="#1a1718" stroke-width="0.15">&#8722;4</text>
<line x1="278.125" y1="159.2" x2="278.125" y2="162.5" stroke="#000" stroke-width="0.9"/>
<text x="278.43" y="172.35" font-size="8.2" text-anchor="middle" textLength="9" lengthAdjust="spacingAndGlyphs" fill="#1a1718" stroke="#1a1718" stroke-width="0.15">&#8722;2</text>
<line x1="300.0" y1="159.2" x2="300.0" y2="162.5" stroke="#000" stroke-width="0.9"/>
<text x="300.00" y="172.35" font-size="8.2" text-anchor="middle" fill="#1a1718" stroke="#1a1718" stroke-width="0.15">0</text>
<text x="213.00" y="183.77" font-size="8.8" text-anchor="middle" textLength="97.7" lengthAdjust="spacingAndGlyphs" fill="#1a1718" stroke="#1a1718" stroke-width="0.15">Time (years to first treatment)</text>
<circle cx="16.30" cy="102.50" r="3.0" fill="#e4e4e4" stroke="#fff" stroke-width="0.6"/>
<path d="M10.3,107.5 Q10.3,106.4 11.4,106.4 L21.6,106.4 Q22.700000000000003,106.4 22.700000000000003,107.5 L22.700000000000003,119.9 L20.6,119.9 L20.6,110.5 L20.2,110.5 L20.2,135.5 L17.0,135.5 L17.0,120.5 L16.2,120.5 L16.2,135.5 L13.0,135.5 L13.0,110.5 L12.600000000000001,110.5 L12.600000000000001,119.9 L10.3,119.9 Z" fill="#e4e4e4" stroke="#fff" stroke-width="0.6"/>
<circle cx="24.10" cy="107.00" r="3.0" fill="#8a8a8a" stroke="#fff" stroke-width="0.6"/>
<path d="M18.1,112.0 Q18.1,110.9 19.200000000000003,110.9 L29.400000000000002,110.9 Q30.5,110.9 30.5,112.0 L30.5,124.4 L28.400000000000002,124.4 L28.400000000000002,115.0 L28.0,115.0 L28.0,140.0 L24.8,140.0 L24.8,125.0 L24.0,125.0 L24.0,140.0 L20.8,140.0 L20.8,115.0 L20.400000000000002,115.0 L20.400000000000002,124.4 L18.1,124.4 Z" fill="#8a8a8a" stroke="#fff" stroke-width="0.6"/>
<circle cx="31.40" cy="111.60" r="3.0" fill="#383838" stroke="#fff" stroke-width="0.6"/>
<path d="M25.4,116.6 Q25.4,115.5 26.5,115.5 L36.699999999999996,115.5 Q37.8,115.5 37.8,116.6 L37.8,129.0 L35.699999999999996,129.0 L35.699999999999996,119.6 L35.3,119.6 L35.3,144.6 L32.1,144.6 L32.1,129.6 L31.299999999999997,129.6 L31.299999999999997,144.6 L28.099999999999998,144.6 L28.099999999999998,119.6 L27.7,119.6 L27.7,129.0 L25.4,129.0 Z" fill="#383838" stroke="#fff" stroke-width="0.6"/>
<circle cx="37.90" cy="119.30" r="3.0" fill="#000" stroke="#fff" stroke-width="0.6"/>
<path d="M31.9,124.3 Q31.9,123.2 33.0,123.2 L43.199999999999996,123.2 Q44.3,123.2 44.3,124.3 L44.3,136.7 L42.199999999999996,136.7 L42.199999999999996,127.3 L41.8,127.3 L41.8,152.3 L38.6,152.3 L38.6,137.3 L37.8,137.3 L37.8,152.3 L34.6,152.3 L34.6,127.3 L34.199999999999996,127.3 L34.199999999999996,136.7 L31.9,136.7 Z" fill="#000" stroke="#fff" stroke-width="0.6"/>
<line x1="46.5" y1="131.8" x2="53" y2="131.8" stroke="#000" stroke-width="1.2"/>
<path d="M52.5,129.3 L56.5,131.8 L52.5,134.3 Z" fill="#000"/>
<text x="51.50" y="123.19" font-size="8.3" textLength="7.5" lengthAdjust="spacingAndGlyphs" fill="#1a1718" stroke="#1a1718" stroke-width="0.15">T1</text>
<text x="59.70" y="147.29" font-size="8.3" textLength="8" lengthAdjust="spacingAndGlyphs" fill="#1a1718" stroke="#1a1718" stroke-width="0.15">T2</text>
<rect x="61.40" y="105.00" width="5.80" height="5.40" fill="#7e8a94" rx="0.8"/>
<rect x="61.90" y="110.40" width="4.80" height="6.00" fill="#f4f0f0" stroke="#bbb" stroke-width="0.4"/>
<path d="M61.900000000000006,116.3 L66.7,116.3 L66.7,130 Q66.7,132.5 64.3,132.5 Q61.900000000000006,132.5 61.900000000000006,130 Z" fill="#c8102e"/>
<rect x="63.80" y="119.00" width="0.90" height="3.00" fill="#e87888"/>
<rect x="69.60" y="123.80" width="5.80" height="5.40" fill="#7e8a94" rx="0.8"/>
<rect x="70.10" y="129.20" width="4.80" height="6.00" fill="#f4f0f0" stroke="#bbb" stroke-width="0.4"/>
<path d="M70.10000000000001,135.1 L74.9,135.1 L74.9,148.8 Q74.9,151.3 72.5,151.3 Q70.10000000000001,151.3 70.10000000000001,148.8 Z" fill="#c8102e"/>
<rect x="72.00" y="137.80" width="0.90" height="3.00" fill="#e87888"/>
<text x="339.20" y="15.09" font-size="10.8" textLength="7.4" lengthAdjust="spacingAndGlyphs" font-weight="bold" fill="#000">B</text>
<text x="402.70" y="15.26" font-size="8.5" textLength="50" lengthAdjust="spacingAndGlyphs" fill="#1a1718" stroke="#1a1718" stroke-width="0.15">FACS sorting</text>
<line x1="396" y1="21.4" x2="396" y2="84" stroke="#000" stroke-width="1.2"/>
<line x1="393" y1="26.5" x2="396" y2="26.5" stroke="#000" stroke-width="1"/>
<text x="388.00" y="29.45" font-size="8.2" text-anchor="middle" fill="#1a1718" stroke="#1a1718" stroke-width="0.15">5</text>
<line x1="393" y1="40.7" x2="396" y2="40.7" stroke="#000" stroke-width="1"/>
<text x="388.00" y="43.65" font-size="8.2" text-anchor="middle" fill="#1a1718" stroke="#1a1718" stroke-width="0.15">4</text>
<line x1="393" y1="55" x2="396" y2="55" stroke="#000" stroke-width="1"/>
<text x="388.00" y="57.95" font-size="8.2" text-anchor="middle" fill="#1a1718" stroke="#1a1718" stroke-width="0.15">3</text>
<line x1="393" y1="69.2" x2="396" y2="69.2" stroke="#000" stroke-width="1"/>
<text x="388.00" y="72.15" font-size="8.2" text-anchor="middle" fill="#1a1718" stroke="#1a1718" stroke-width="0.15">2</text>
<line x1="393" y1="82.5" x2="396" y2="82.5" stroke="#000" stroke-width="1"/>
<text x="388.00" y="85.45" font-size="8.2" text-anchor="middle" fill="#1a1718" stroke="#1a1718" stroke-width="0.15">1</text>
<line x1="395.5" y1="83.8" x2="459" y2="83.8" stroke="#000" stroke-width="1.2"/>
<line x1="400.2" y1="83.8" x2="400.2" y2="86.8" stroke="#000" stroke-width="1"/>
<text x="400.00" y="95.95" font-size="8.2" text-anchor="middle" textLength="7.5" lengthAdjust="spacingAndGlyphs" fill="#1a1718" stroke="#1a1718" stroke-width="0.15">&#8722;3</text>
<line x1="411.4" y1="83.8" x2="411.4" y2="86.8" stroke="#000" stroke-width="1"/>
<text x="411.30" y="95.95" font-size="8.2" text-anchor="middle" textLength="7.5" lengthAdjust="spacingAndGlyphs" fill="#1a1718" stroke="#1a1718" stroke-width="0.15">&#8722;2</text>
<line x1="422.6" y1="83.8" x2="422.6" y2="86.8" stroke="#000" stroke-width="1"/>
<text x="421.40" y="95.95" font-size="8.2" text-anchor="middle" fill="#1a1718" stroke="#1a1718" stroke-width="0.15">3</text>
<line x1="440.4" y1="83.8" x2="440.4" y2="86.8" stroke="#000" stroke-width="1"/>
<text x="438.80" y="95.95" font-size="8.2" text-anchor="middle" fill="#1a1718" stroke="#1a1718" stroke-width="0.15">4</text>
<line x1="453.6" y1="83.8" x2="453.6" y2="86.8" stroke="#000" stroke-width="1"/>
<text x="453.60" y="95.95" font-size="8.2" text-anchor="middle" fill="#1a1718" stroke="#1a1718" stroke-width="0.15">5</text>
<text x="415.00" y="106.68" font-size="8" text-anchor="middle" textLength="38" lengthAdjust="spacingAndGlyphs" fill="#1a1718" stroke="#1a1718" stroke-width="0.15">PE/Cy7-CD19</text>
<text x="415.30" y="115.38" font-size="8" text-anchor="middle" textLength="14.5" lengthAdjust="spacingAndGlyphs" fill="#1a1718" stroke="#1a1718" stroke-width="0.15">(log)</text>
<text transform="translate(376.3,51.9) rotate(-90)" x="0" y="2.9" font-size="8" text-anchor="middle" textLength="41.5" lengthAdjust="spacingAndGlyphs" fill="#231f20">FITC-CD5 (log)</text>
<path d="M399.5,30.6 L435.3,30.6 L435.3,65.2 L456.7,65.2 L456.7,81.3 L399.5,81.3 Z" fill="none" stroke="#e03a3e" stroke-width="1.3"/>
<rect x="437.5" y="30.6" width="21.2" height="32.4" fill="none" stroke="#222" stroke-width="1.3"/>
<defs><radialGradient id="facs" cx="0.52" cy="0.52" r="0.5">
<stop offset="0" stop-color="#ff2010"/><stop offset="0.3" stop-color="#f83a14"/><stop offset="0.42" stop-color="#f0a020"/><stop offset="0.5" stop-color="#c8d028"/>
<stop offset="0.62" stop-color="#40a840"/><stop offset="0.78" stop-color="#2068d0"/><stop offset="0.92" stop-color="#3050c0"/><stop offset="1" stop-color="#4060d0" stop-opacity="0"/></radialGradient></defs>
<ellipse cx="450.9" cy="49.2" rx="6.8" ry="11.6" fill="url(#facs)" transform="rotate(8 450.9 49.2)"/>
<rect x="451.4" y="59.6" width="0.9" height="0.9" fill="#20a0d0"/>
<rect x="456.1" y="44.1" width="0.9" height="0.9" fill="#2040c0"/>
<rect x="445.4" y="42.0" width="0.9" height="0.9" fill="#40b040"/>
<rect x="450.6" y="58.5" width="0.9" height="0.9" fill="#40b040"/>
<rect x="445.0" y="46.5" width="0.9" height="0.9" fill="#40b040"/>
<rect x="447.5" y="42.3" width="0.9" height="0.9" fill="#3070e0"/>
<rect x="455.0" y="41.6" width="0.9" height="0.9" fill="#2040c0"/>
<rect x="448.5" y="41.6" width="0.9" height="0.9" fill="#2040c0"/>
<rect x="449.3" y="57.3" width="0.9" height="0.9" fill="#20a0d0"/>
<rect x="444.5" y="51.1" width="0.9" height="0.9" fill="#40b040"/>
<rect x="449.3" y="37.7" width="0.9" height="0.9" fill="#40b040"/>
<rect x="450.0" y="38.8" width="0.9" height="0.9" fill="#3070e0"/>
<rect x="454.6" y="43.2" width="0.9" height="0.9" fill="#3070e0"/>
<rect x="445.4" y="49.5" width="0.9" height="0.9" fill="#40b040"/>
<rect x="452.1" y="37.8" width="0.9" height="0.9" fill="#40b040"/>
<rect x="445.1" y="48.8" width="0.9" height="0.9" fill="#20a0d0"/>
<rect x="445.2" y="47.1" width="0.9" height="0.9" fill="#3070e0"/>
<rect x="456.2" y="43.0" width="0.9" height="0.9" fill="#2040c0"/>
<rect x="455.3" y="39.7" width="0.9" height="0.9" fill="#3070e0"/>
<rect x="449.1" y="40.1" width="0.9" height="0.9" fill="#2040c0"/>
<rect x="449.7" y="40.3" width="0.9" height="0.9" fill="#20a0d0"/>
<rect x="449.8" y="57.6" width="0.9" height="0.9" fill="#40b040"/>
<rect x="456.6" y="55.2" width="0.9" height="0.9" fill="#40b040"/>
<rect x="454.9" y="44.1" width="0.9" height="0.9" fill="#40b040"/>
<rect x="451.7" y="37.7" width="0.9" height="0.9" fill="#2040c0"/>
<rect x="445.7" y="42.3" width="0.9" height="0.9" fill="#40b040"/>
<rect x="449.8" y="39.8" width="0.9" height="0.9" fill="#20a0d0"/>
<rect x="443.8" y="48.8" width="0.9" height="0.9" fill="#20a0d0"/>
<rect x="456.1" y="49.6" width="0.9" height="0.9" fill="#2040c0"/>
<rect x="457.6" y="45.4" width="0.9" height="0.9" fill="#20a0d0"/>
<rect x="446.8" y="43.5" width="0.9" height="0.9" fill="#2040c0"/>
<rect x="456.5" y="48.0" width="0.9" height="0.9" fill="#20a0d0"/>
<rect x="457.6" y="46.2" width="0.9" height="0.9" fill="#40b040"/>
<rect x="446.0" y="57.3" width="0.9" height="0.9" fill="#40b040"/>
<rect x="447.0" y="40.9" width="0.9" height="0.9" fill="#2040c0"/>
<rect x="445.8" y="41.1" width="0.9" height="0.9" fill="#20a0d0"/>
<rect x="445.0" y="53.8" width="0.9" height="0.9" fill="#3070e0"/>
<rect x="456.3" y="45.3" width="0.9" height="0.9" fill="#20a0d0"/>
<rect x="444.8" y="47.8" width="0.9" height="0.9" fill="#2040c0"/>
<rect x="452.6" y="37.5" width="0.9" height="0.9" fill="#20a0d0"/>
<rect x="457.1" y="50.5" width="0.9" height="0.9" fill="#3070e0"/>
<rect x="456.8" y="53.2" width="0.9" height="0.9" fill="#40b040"/>
<rect x="446.7" y="58.6" width="0.9" height="0.9" fill="#20a0d0"/>
<rect x="450.5" y="40.7" width="0.9" height="0.9" fill="#2040c0"/>
<rect x="455.7" y="46.8" width="0.9" height="0.9" fill="#20a0d0"/>
<rect x="450.9" y="59.3" width="0.9" height="0.9" fill="#20a0d0"/>
<rect x="453.3" y="57.4" width="0.9" height="0.9" fill="#20a0d0"/>
<rect x="454.0" y="41.4" width="0.9" height="0.9" fill="#40b040"/>
<rect x="456.2" y="56.2" width="0.9" height="0.9" fill="#3070e0"/>
<rect x="448.9" y="57.8" width="0.9" height="0.9" fill="#20a0d0"/>
<rect x="451.3" y="58.3" width="0.9" height="0.9" fill="#40b040"/>
<rect x="447.9" y="42.1" width="0.9" height="0.9" fill="#20a0d0"/>
<rect x="457.0" y="45.8" width="0.9" height="0.9" fill="#3070e0"/>
<rect x="444.6" y="53.6" width="0.9" height="0.9" fill="#3070e0"/>
<rect x="456.7" y="54.6" width="0.9" height="0.9" fill="#3070e0"/>
<rect x="455.3" y="42.5" width="0.9" height="0.9" fill="#3070e0"/>
<rect x="452.1" y="40.9" width="0.9" height="0.9" fill="#3070e0"/>
<rect x="448.2" y="59.7" width="0.9" height="0.9" fill="#3070e0"/>
<rect x="454.6" y="41.9" width="0.9" height="0.9" fill="#2040c0"/>
<rect x="452.9" y="40.1" width="0.9" height="0.9" fill="#3070e0"/>
<rect x="445.5" y="54.1" width="0.9" height="0.9" fill="#20a0d0"/>
<rect x="444.7" y="51.6" width="0.9" height="0.9" fill="#20a0d0"/>
<rect x="445.8" y="54.0" width="0.9" height="0.9" fill="#40b040"/>
<rect x="453.7" y="56.2" width="0.9" height="0.9" fill="#40b040"/>
<rect x="444.3" y="44.8" width="0.9" height="0.9" fill="#3070e0"/>
<rect x="456.7" y="51.2" width="0.9" height="0.9" fill="#20a0d0"/>
<rect x="444.3" y="46.0" width="0.9" height="0.9" fill="#2040c0"/>
<rect x="455.3" y="39.9" width="0.9" height="0.9" fill="#2040c0"/>
<rect x="452.8" y="41.2" width="0.9" height="0.9" fill="#3070e0"/>
<rect x="456.4" y="42.1" width="0.9" height="0.9" fill="#2040c0"/>
<rect x="401.4" y="67.8" width="0.6" height="0.6" fill="#8888aa"/>
<rect x="406.7" y="46.4" width="0.6" height="0.6" fill="#8888aa"/>
<rect x="422.9" y="57.2" width="0.6" height="0.6" fill="#8888aa"/>
<rect x="414.7" y="77.1" width="0.6" height="0.6" fill="#8888aa"/>
<rect x="421.2" y="48.4" width="0.6" height="0.6" fill="#8888aa"/>
<rect x="409.3" y="73.4" width="0.6" height="0.6" fill="#8888aa"/>
<rect x="416.7" y="69.6" width="0.6" height="0.6" fill="#8888aa"/>
<rect x="412.6" y="41.5" width="0.6" height="0.6" fill="#8888aa"/>
<rect x="418.6" y="71.2" width="0.6" height="0.6" fill="#8888aa"/>
<rect x="406.7" y="70.0" width="0.6" height="0.6" fill="#8888aa"/>
<rect x="431.4" y="70.7" width="0.6" height="0.6" fill="#8888aa"/>
<rect x="428.2" y="32.4" width="0.6" height="0.6" fill="#8888aa"/>
<rect x="421.7" y="73.4" width="0.6" height="0.6" fill="#8888aa"/>
<rect x="402.6" y="45.0" width="0.6" height="0.6" fill="#8888aa"/>
<rect x="409.9" y="57.3" width="0.6" height="0.6" fill="#8888aa"/>
<rect x="415.0" y="54.7" width="0.6" height="0.6" fill="#8888aa"/>
<rect x="426.6" y="32.1" width="0.6" height="0.6" fill="#8888aa"/>
<rect x="402.8" y="38.1" width="0.6" height="0.6" fill="#8888aa"/>
<rect x="405.1" y="35.3" width="0.6" height="0.6" fill="#8888aa"/>
<rect x="433.2" y="73.0" width="0.6" height="0.6" fill="#8888aa"/>
<rect x="403.8" y="56.1" width="0.6" height="0.6" fill="#8888aa"/>
<rect x="411.4" y="47.1" width="0.6" height="0.6" fill="#8888aa"/>
<rect x="412.6" y="63.1" width="0.6" height="0.6" fill="#8888aa"/>
<rect x="420.4" y="49.3" width="0.6" height="0.6" fill="#8888aa"/>
<rect x="407.3" y="47.8" width="0.6" height="0.6" fill="#8888aa"/>
<text x="460.30" y="43.76" font-size="8.5" textLength="31" lengthAdjust="spacingAndGlyphs" fill="#1a1718" stroke="#1a1718" stroke-width="0.15">CLL cells</text>
<text x="460.30" y="53.06" font-size="8.5" textLength="15" lengthAdjust="spacingAndGlyphs" fill="#1a1718" stroke="#1a1718" stroke-width="0.15">94%</text>
<text x="457.70" y="75.96" font-size="8.5" textLength="45.8" lengthAdjust="spacingAndGlyphs" fill="#1a1718" stroke="#1a1718" stroke-width="0.15">Immune cells</text>
<line x1="443.4" y1="77.4" x2="443.4" y2="116" stroke="#000" stroke-width="1.1"/>
<path d="M440.5,114.5 L446.3,114.5 L443.4,120 Z" fill="#000"/>
<line x1="366.5" y1="133.2" x2="366.5" y2="270.8" stroke="#000" stroke-width="1.2"/>
<line x1="363" y1="146.1" x2="366.5" y2="146.1" stroke="#000" stroke-width="1"/>
<text x="360.60" y="149.12" font-size="8.4" text-anchor="end" fill="#1a1718" stroke="#1a1718" stroke-width="0.15">10</text>
<line x1="363" y1="170.5" x2="366.5" y2="170.5" stroke="#000" stroke-width="1"/>
<text x="360.60" y="173.52" font-size="8.4" text-anchor="end" fill="#1a1718" stroke="#1a1718" stroke-width="0.15">5</text>
<line x1="363" y1="195.3" x2="366.5" y2="195.3" stroke="#000" stroke-width="1"/>
<text x="360.60" y="198.32" font-size="8.4" text-anchor="end" fill="#1a1718" stroke="#1a1718" stroke-width="0.15">0</text>
<line x1="363" y1="219.5" x2="366.5" y2="219.5" stroke="#000" stroke-width="1"/>
<text x="360.60" y="222.52" font-size="8.4" text-anchor="end" fill="#1a1718" stroke="#1a1718" stroke-width="0.15">&#8722;5</text>
<line x1="363" y1="244.6" x2="366.5" y2="244.6" stroke="#000" stroke-width="1"/>
<text x="360.60" y="247.62" font-size="8.4" text-anchor="end" fill="#1a1718" stroke="#1a1718" stroke-width="0.15">10</text>
<line x1="366" y1="270.4" x2="509" y2="270.4" stroke="#000" stroke-width="1.2"/>
<line x1="367.5" y1="270.4" x2="367.5" y2="273.6" stroke="#000" stroke-width="1"/>
<line x1="391" y1="270.4" x2="391" y2="273.6" stroke="#000" stroke-width="1"/>
<line x1="415.6" y1="270.4" x2="415.6" y2="273.6" stroke="#000" stroke-width="1"/>
<line x1="439.6" y1="270.4" x2="439.6" y2="273.6" stroke="#000" stroke-width="1"/>
<line x1="462.8" y1="270.4" x2="462.8" y2="273.6" stroke="#000" stroke-width="1"/>
<line x1="486.6" y1="270.4" x2="486.6" y2="273.6" stroke="#000" stroke-width="1"/>
<text transform="translate(343.5,257) rotate(-90)" x="0" y="2.8" font-size="8" text-anchor="middle" textLength="33" lengthAdjust="spacingAndGlyphs" fill="#231f20">refUMAP2</text>
<line x1="366.5" y1="280.2" x2="366.5" y2="403.5" stroke="#000" stroke-width="1.2"/>
<line x1="363" y1="289.3" x2="366.5" y2="289.3" stroke="#000" stroke-width="1"/>
<text x="360.60" y="292.32" font-size="8.4" text-anchor="end" fill="#1a1718" stroke="#1a1718" stroke-width="0.15">10</text>
<line x1="363" y1="312.4" x2="366.5" y2="312.4" stroke="#000" stroke-width="1"/>
<text x="360.60" y="315.42" font-size="8.4" text-anchor="end" fill="#1a1718" stroke="#1a1718" stroke-width="0.15">5</text>
<line x1="363" y1="335.2" x2="366.5" y2="335.2" stroke="#000" stroke-width="1"/>
<text x="360.60" y="338.22" font-size="8.4" text-anchor="end" fill="#1a1718" stroke="#1a1718" stroke-width="0.15">0</text>
<line x1="363" y1="358.3" x2="366.5" y2="358.3" stroke="#000" stroke-width="1"/>
<text x="360.60" y="361.32" font-size="8.4" text-anchor="end" fill="#1a1718" stroke="#1a1718" stroke-width="0.15">&#8722;5</text>
<line x1="363" y1="381.3" x2="366.5" y2="381.3" stroke="#000" stroke-width="1"/>
<text x="360.60" y="384.32" font-size="8.4" text-anchor="end" fill="#1a1718" stroke="#1a1718" stroke-width="0.15">&#8722;10</text>
<line x1="366" y1="403.1" x2="509" y2="403.1" stroke="#000" stroke-width="1.2"/>
<line x1="367.5" y1="403.1" x2="367.5" y2="406.3" stroke="#000" stroke-width="1"/>
<text x="367.90" y="416.22" font-size="8.4" text-anchor="middle" textLength="12.3" lengthAdjust="spacingAndGlyphs" fill="#1a1718" stroke="#1a1718" stroke-width="0.15">&#8722;15</text>
<line x1="391" y1="403.1" x2="391" y2="406.3" stroke="#000" stroke-width="1"/>
<text x="391.40" y="416.22" font-size="8.4" text-anchor="middle" textLength="13.2" lengthAdjust="spacingAndGlyphs" fill="#1a1718" stroke="#1a1718" stroke-width="0.15">&#8722;10</text>
<line x1="415.6" y1="403.1" x2="415.6" y2="406.3" stroke="#000" stroke-width="1"/>
<text x="416.00" y="416.22" font-size="8.4" text-anchor="middle" textLength="9.2" lengthAdjust="spacingAndGlyphs" fill="#1a1718" stroke="#1a1718" stroke-width="0.15">&#8722;5</text>
<line x1="439.6" y1="403.1" x2="439.6" y2="406.3" stroke="#000" stroke-width="1"/>
<text x="439.90" y="416.22" font-size="8.4" text-anchor="middle" fill="#1a1718" stroke="#1a1718" stroke-width="0.15">0</text>
<line x1="462.8" y1="403.1" x2="462.8" y2="406.3" stroke="#000" stroke-width="1"/>
<text x="463.10" y="416.22" font-size="8.4" text-anchor="middle" fill="#1a1718" stroke="#1a1718" stroke-width="0.15">5</text>
<line x1="486.6" y1="403.1" x2="486.6" y2="406.3" stroke="#000" stroke-width="1"/>
<text x="486.90" y="416.22" font-size="8.4" text-anchor="middle" fill="#1a1718" stroke="#1a1718" stroke-width="0.15">10</text>
<text x="420.50" y="429.14" font-size="9" textLength="34" lengthAdjust="spacingAndGlyphs" fill="#1a1718" stroke="#1a1718" stroke-width="0.15">refUMAP1</text>
<circle cx="375.80" cy="378.10" r="2.6" fill="#c8102e"/>
<text x="380.80" y="381.37" font-size="8.8" textLength="15" lengthAdjust="spacingAndGlyphs" fill="#1a1718" stroke="#1a1718" stroke-width="0.15">MBL</text>
<circle cx="375.80" cy="387.90" r="2.6" fill="#4b1f78"/>
<text x="380.80" y="391.17" font-size="8.8" textLength="13" lengthAdjust="spacingAndGlyphs" fill="#1a1718" stroke="#1a1718" stroke-width="0.15">CLL</text>
<text x="377.70" y="149.56" font-size="8.5" textLength="42.7" lengthAdjust="spacingAndGlyphs" fill="#1a1718" stroke="#1a1718" stroke-width="0.15">CD14 mono</text>
<line x1="403.1" y1="152.6" x2="403.1" y2="163.8" stroke="#222" stroke-width="1"/>
<text x="369.50" y="189.86" font-size="8.5" textLength="19.4" lengthAdjust="spacingAndGlyphs" fill="#1a1718" stroke="#1a1718" stroke-width="0.15">cDC2</text>
<text x="377.70" y="208.36" font-size="8.5" textLength="19.9" lengthAdjust="spacingAndGlyphs" fill="#1a1718" stroke="#1a1718" stroke-width="0.15">CD16</text>
<text x="377.70" y="217.46" font-size="8.5" textLength="19.5" lengthAdjust="spacingAndGlyphs" fill="#1a1718" stroke="#1a1718" stroke-width="0.15">mono</text>
<text x="416.40" y="198.56" font-size="8.5" textLength="26.5" lengthAdjust="spacingAndGlyphs" fill="#1a1718" stroke="#1a1718" stroke-width="0.15">Platelet</text>
<ellipse cx="429.2" cy="186.2" rx="2.6" ry="3" fill="#fbf6ee" stroke="#bba890" stroke-width="0.7"/>
<text x="433.80" y="135.66" font-size="8.5" textLength="16.3" lengthAdjust="spacingAndGlyphs" font-weight="bold" fill="#1a1718">CD4</text>
<line x1="433.8" y1="136.2" x2="450.1" y2="136.2" stroke="#222" stroke-width="0.9"/>
<text x="440.40" y="148.56" font-size="8.5" textLength="15.8" lengthAdjust="spacingAndGlyphs" fill="#1a1718" stroke="#1a1718" stroke-width="0.15">TEM</text>
<text x="459.70" y="148.56" font-size="8.5" textLength="17.3" lengthAdjust="spacingAndGlyphs" fill="#1a1718" stroke="#1a1718" stroke-width="0.15">TCM</text>
<text x="488.20" y="148.56" font-size="8.5" textLength="20.4" lengthAdjust="spacingAndGlyphs" fill="#1a1718" stroke="#1a1718" stroke-width="0.15">Naive</text>
<text x="431.20" y="162.76" font-size="8.5" textLength="13.6" lengthAdjust="spacingAndGlyphs" fill="#1a1718" stroke="#1a1718" stroke-width="0.15">CTL</text>
<text x="487.20" y="169.46" font-size="8.5" textLength="16.3" lengthAdjust="spacingAndGlyphs" fill="#1a1718" stroke="#1a1718" stroke-width="0.15">Treg</text>
<text x="463.80" y="201.46" font-size="8.5" textLength="16.2" lengthAdjust="spacingAndGlyphs" font-weight="bold" fill="#1a1718">CD8</text>
<line x1="463.8" y1="201.8" x2="480" y2="201.8" stroke="#222" stroke-width="0.9"/>
<text x="486.20" y="205.56" font-size="8.5" textLength="16.3" lengthAdjust="spacingAndGlyphs" fill="#1a1718" stroke="#1a1718" stroke-width="0.15">TCM</text>
<text x="457.30" y="214.66" font-size="8.5" textLength="16" lengthAdjust="spacingAndGlyphs" font-weight="bold" fill="#111">TEM</text>
<text x="492.30" y="217.46" font-size="8.5" textLength="20.4" lengthAdjust="spacingAndGlyphs" fill="#1a1718" stroke="#1a1718" stroke-width="0.15">Naive</text>
<text x="482.10" y="238.86" font-size="8.5" textLength="19.3" lengthAdjust="spacingAndGlyphs" fill="#1a1718" stroke="#1a1718" stroke-width="0.15">MAIT</text>
<text x="485.20" y="256.16" font-size="8.5" textLength="13.2" lengthAdjust="spacingAndGlyphs" fill="#1a1718" stroke="#1a1718" stroke-width="0.15">gdT</text>
<text x="449.30" y="264.96" font-size="8.5" textLength="11.9" lengthAdjust="spacingAndGlyphs" fill="#1a1718" stroke="#1a1718" stroke-width="0.15">ILC</text>
<text x="391.90" y="244.96" font-size="8.5" fill="#1a1718" stroke="#1a1718" stroke-width="0.15">NK:CD56<tspan font-size="5.5" dy="-3">dim</tspan></text>
<text x="391.90" y="254.26" font-size="8.5" fill="#1a1718" stroke="#1a1718" stroke-width="0.15">NK:CD56<tspan font-size="5.5" dy="-3">bright</tspan></text>
<text x="6.60" y="210.69" font-size="10.8" textLength="8.3" lengthAdjust="spacingAndGlyphs" font-weight="bold" fill="#000">C</text>
<text x="52.80" y="210.96" font-size="9.6" textLength="55" lengthAdjust="spacingAndGlyphs" fill="#111" stroke="#111" stroke-width="0.15">All cell types</text>
<line x1="40.3" y1="216.8" x2="40.3" y2="403.8" stroke="#000" stroke-width="1.3"/>
<line x1="37.0" y1="220.65" x2="40.3" y2="220.65" stroke="#000" stroke-width="1"/>
<text x="34.50" y="223.82" font-size="8.8" text-anchor="end" textLength="12.4" lengthAdjust="spacingAndGlyphs" fill="#1a1718" stroke="#1a1718" stroke-width="0.15">100</text>
<line x1="37.0" y1="257.18" x2="40.3" y2="257.18" stroke="#000" stroke-width="1"/>
<text x="34.50" y="260.35" font-size="8.8" text-anchor="end" textLength="8.4" lengthAdjust="spacingAndGlyphs" fill="#1a1718" stroke="#1a1718" stroke-width="0.15">80</text>
<line x1="37.0" y1="293.71000000000004" x2="40.3" y2="293.71000000000004" stroke="#000" stroke-width="1"/>
<text x="34.50" y="296.88" font-size="8.8" text-anchor="end" textLength="8.4" lengthAdjust="spacingAndGlyphs" fill="#1a1718" stroke="#1a1718" stroke-width="0.15">60</text>
<line x1="37.0" y1="330.24" x2="40.3" y2="330.24" stroke="#000" stroke-width="1"/>
<text x="34.50" y="333.41" font-size="8.8" text-anchor="end" textLength="8.4" lengthAdjust="spacingAndGlyphs" fill="#1a1718" stroke="#1a1718" stroke-width="0.15">40</text>
<line x1="37.0" y1="366.77" x2="40.3" y2="366.77" stroke="#000" stroke-width="1"/>
<text x="34.50" y="369.94" font-size="8.8" text-anchor="end" textLength="8.4" lengthAdjust="spacingAndGlyphs" fill="#1a1718" stroke="#1a1718" stroke-width="0.15">20</text>
<line x1="39.699999999999996" y1="403.3" x2="123.8" y2="403.3" stroke="#000" stroke-width="1.3"/>
<text transform="translate(10.5,312) rotate(-90)" x="0" y="3" font-size="8.4" text-anchor="middle" textLength="90.5" lengthAdjust="spacingAndGlyphs" fill="#1a1718" stroke="#1a1718" stroke-width="0.12">Percent cell subpopulation</text>
<rect x="42.00" y="220.90" width="15.90" height="8.80" fill="#a9cfe3"/>
<rect x="42.00" y="229.70" width="15.90" height="2.00" fill="#3b8aa6"/>
<rect x="42.00" y="231.70" width="15.90" height="57.60" fill="#3aaa48"/>
<rect x="42.00" y="289.30" width="15.90" height="42.70" fill="#f79a52"/>
<rect x="42.00" y="332.00" width="15.90" height="68.80" fill="#d6a1a4"/>
<rect x="42.00" y="400.80" width="15.90" height="2.50" fill="#c8102e"/>
<rect x="62.80" y="220.90" width="15.90" height="3.30" fill="#a9cfe3"/>
<rect x="62.80" y="224.20" width="15.90" height="1.20" fill="#3b8aa6"/>
<rect x="62.80" y="225.40" width="15.90" height="37.50" fill="#3aaa48"/>
<rect x="62.80" y="262.90" width="15.90" height="43.80" fill="#f79a52"/>
<rect x="62.80" y="306.70" width="15.90" height="94.80" fill="#d6a1a4"/>
<rect x="62.80" y="401.50" width="15.90" height="1.80" fill="#c8102e"/>
<rect x="83.40" y="220.90" width="15.90" height="14.90" fill="#a9cfe3"/>
<rect x="83.40" y="235.80" width="15.90" height="4.00" fill="#3b8aa6"/>
<rect x="83.40" y="239.80" width="15.90" height="26.10" fill="#3aaa48"/>
<rect x="83.40" y="265.90" width="15.90" height="36.70" fill="#f79a52"/>
<rect x="83.40" y="302.60" width="15.90" height="94.90" fill="#d6a1a4"/>
<rect x="83.40" y="397.50" width="15.90" height="5.80" fill="#c8102e"/>
<rect x="104.20" y="220.90" width="15.90" height="19.10" fill="#a9cfe3"/>
<rect x="104.20" y="240.00" width="15.90" height="1.00" fill="#3b8aa6"/>
<rect x="104.20" y="241.00" width="15.90" height="30.60" fill="#3aaa48"/>
<rect x="104.20" y="271.60" width="15.90" height="47.10" fill="#f79a52"/>
<rect x="104.20" y="318.70" width="15.90" height="81.50" fill="#d6a1a4"/>
<rect x="104.20" y="400.20" width="15.90" height="3.10" fill="#c8102e"/>
<text x="49.95" y="263.60" font-size="8.6" text-anchor="middle" fill="#fff" stroke="#fff" stroke-width="0.15">32</text>
<text x="49.95" y="313.70" font-size="8.6" text-anchor="middle" fill="#fff" stroke="#fff" stroke-width="0.15">23</text>
<text x="49.95" y="369.40" font-size="8.6" text-anchor="middle" fill="#fff" stroke="#fff" stroke-width="0.15">38</text>
<text x="70.75" y="247.10" font-size="8.6" text-anchor="middle" fill="#fff" stroke="#fff" stroke-width="0.15">20</text>
<text x="70.75" y="287.90" font-size="8.6" text-anchor="middle" fill="#fff" stroke="#fff" stroke-width="0.15">24</text>
<text x="70.75" y="356.40" font-size="8.6" text-anchor="middle" fill="#fff" stroke="#fff" stroke-width="0.15">52</text>
<text x="91.35" y="231.30" font-size="8.6" text-anchor="middle" fill="#1a1718" stroke="#1a1718" stroke-width="0.15">8</text>
<text x="91.35" y="255.90" font-size="8.6" text-anchor="middle" fill="#fff" stroke="#fff" stroke-width="0.15">14</text>
<text x="91.35" y="287.40" font-size="8.6" text-anchor="middle" fill="#fff" stroke="#fff" stroke-width="0.15">20</text>
<text x="91.35" y="353.10" font-size="8.6" text-anchor="middle" fill="#fff" stroke="#fff" stroke-width="0.15">53</text>
<text x="112.15" y="233.40" font-size="8.6" text-anchor="middle" fill="#1a1718" stroke="#1a1718" stroke-width="0.15">10</text>
<text x="112.15" y="259.10" font-size="8.6" text-anchor="middle" fill="#fff" stroke="#fff" stroke-width="0.15">17</text>
<text x="112.15" y="298.30" font-size="8.6" text-anchor="middle" fill="#fff" stroke="#fff" stroke-width="0.15">25</text>
<text x="112.15" y="363.10" font-size="8.6" text-anchor="middle" fill="#fff" stroke="#fff" stroke-width="0.15">45</text>
<text x="49.95" y="412.90" font-size="10" text-anchor="middle" textLength="9.3" lengthAdjust="spacingAndGlyphs" fill="#1a1718" stroke="#1a1718" stroke-width="0.15">T1</text>
<text x="49.95" y="421.37" font-size="8.8" text-anchor="middle" fill="#1a1718" stroke="#1a1718" stroke-width="0.15">3</text>
<text x="70.75" y="412.90" font-size="10" text-anchor="middle" textLength="9.3" lengthAdjust="spacingAndGlyphs" fill="#1a1718" stroke="#1a1718" stroke-width="0.15">T2</text>
<text x="70.75" y="421.37" font-size="8.8" text-anchor="middle" fill="#1a1718" stroke="#1a1718" stroke-width="0.15">3</text>
<text x="91.35" y="412.90" font-size="10" text-anchor="middle" textLength="9.3" lengthAdjust="spacingAndGlyphs" fill="#1a1718" stroke="#1a1718" stroke-width="0.15">T1</text>
<text x="91.35" y="421.37" font-size="8.8" text-anchor="middle" fill="#1a1718" stroke="#1a1718" stroke-width="0.15">7</text>
<text x="112.15" y="412.90" font-size="10" text-anchor="middle" textLength="9.3" lengthAdjust="spacingAndGlyphs" fill="#1a1718" stroke="#1a1718" stroke-width="0.15">T2</text>
<text x="112.15" y="421.37" font-size="8.8" text-anchor="middle" fill="#1a1718" stroke="#1a1718" stroke-width="0.15">7</text>
<text x="30.00" y="421.36" font-size="8.5" textLength="9" lengthAdjust="spacingAndGlyphs" fill="#1a1718" stroke="#1a1718" stroke-width="0.15">n=</text>
<path d="M41.3,419.8 L41.3,423 L79.5,423 L79.5,419.8" fill="none" stroke="#000" stroke-width="1"/>
<path d="M83.3,419.8 L83.3,423 L120.8,423 L120.8,419.8" fill="none" stroke="#000" stroke-width="1"/>
<text x="60.40" y="435.91" font-size="10.3" text-anchor="middle" textLength="14.5" lengthAdjust="spacingAndGlyphs" fill="#1a1718" stroke="#1a1718" stroke-width="0.15">MBL</text>
<text x="102.00" y="435.91" font-size="10.3" text-anchor="middle" textLength="12.5" lengthAdjust="spacingAndGlyphs" fill="#1a1718" stroke="#1a1718" stroke-width="0.15">CLL</text>
<rect x="123.80" y="277.90" width="6.80" height="6.80" fill="#a9cfe3"/>
<text x="133.60" y="284.25" font-size="8.2" textLength="19.7" lengthAdjust="spacingAndGlyphs" fill="#1a1718" stroke="#1a1718" stroke-width="0.15">Mono</text>
<rect x="123.80" y="288.05" width="6.80" height="6.80" fill="#3b8aa6"/>
<text x="133.60" y="294.40" font-size="8.2" textLength="10.2" lengthAdjust="spacingAndGlyphs" fill="#1a1718" stroke="#1a1718" stroke-width="0.15">DC</text>
<rect x="123.80" y="298.20" width="6.80" height="6.80" fill="#3aaa48"/>
<text x="133.60" y="304.55" font-size="8.2" textLength="10.2" lengthAdjust="spacingAndGlyphs" fill="#1a1718" stroke="#1a1718" stroke-width="0.15">NK</text>
<rect x="123.80" y="308.35" width="6.80" height="6.80" fill="#f79a52"/>
<text x="133.60" y="314.70" font-size="8.2" textLength="21" lengthAdjust="spacingAndGlyphs" fill="#1a1718" stroke="#1a1718" stroke-width="0.15">CD8 T</text>
<rect x="123.80" y="318.50" width="6.80" height="6.80" fill="#d6a1a4"/>
<text x="133.60" y="324.85" font-size="8.2" textLength="21" lengthAdjust="spacingAndGlyphs" fill="#1a1718" stroke="#1a1718" stroke-width="0.15">CD4 T</text>
<rect x="123.80" y="328.65" width="6.80" height="6.80" fill="#c8102e"/>
<text x="133.60" y="335.00" font-size="8.2" textLength="25.4" lengthAdjust="spacingAndGlyphs" fill="#1a1718" stroke="#1a1718" stroke-width="0.15">Other T</text>
<rect x="123.80" y="338.80" width="6.80" height="6.80" fill="#bdbdc6"/>
<text x="133.60" y="345.15" font-size="8.2" textLength="19.7" lengthAdjust="spacingAndGlyphs" fill="#1a1718" stroke="#1a1718" stroke-width="0.15">Other</text>
<text x="165.10" y="210.69" font-size="10.8" textLength="8.3" lengthAdjust="spacingAndGlyphs" font-weight="bold" fill="#000">D</text>
<text x="216.20" y="210.96" font-size="9.6" textLength="46.3" lengthAdjust="spacingAndGlyphs" fill="#111" stroke="#111" stroke-width="0.15">T cells only</text>
<line x1="198.8" y1="216.8" x2="198.8" y2="403.8" stroke="#000" stroke-width="1.3"/>
<line x1="195.5" y1="220.65" x2="198.8" y2="220.65" stroke="#000" stroke-width="1"/>
<text x="193.00" y="223.82" font-size="8.8" text-anchor="end" textLength="12.4" lengthAdjust="spacingAndGlyphs" fill="#1a1718" stroke="#1a1718" stroke-width="0.15">100</text>
<line x1="195.5" y1="257.18" x2="198.8" y2="257.18" stroke="#000" stroke-width="1"/>
<text x="193.00" y="260.35" font-size="8.8" text-anchor="end" textLength="8.4" lengthAdjust="spacingAndGlyphs" fill="#1a1718" stroke="#1a1718" stroke-width="0.15">80</text>
<line x1="195.5" y1="293.71000000000004" x2="198.8" y2="293.71000000000004" stroke="#000" stroke-width="1"/>
<text x="193.00" y="296.88" font-size="8.8" text-anchor="end" textLength="8.4" lengthAdjust="spacingAndGlyphs" fill="#1a1718" stroke="#1a1718" stroke-width="0.15">60</text>
<line x1="195.5" y1="330.24" x2="198.8" y2="330.24" stroke="#000" stroke-width="1"/>
<text x="193.00" y="333.41" font-size="8.8" text-anchor="end" textLength="8.4" lengthAdjust="spacingAndGlyphs" fill="#1a1718" stroke="#1a1718" stroke-width="0.15">40</text>
<line x1="195.5" y1="366.77" x2="198.8" y2="366.77" stroke="#000" stroke-width="1"/>
<text x="193.00" y="369.94" font-size="8.8" text-anchor="end" textLength="8.4" lengthAdjust="spacingAndGlyphs" fill="#1a1718" stroke="#1a1718" stroke-width="0.15">20</text>
<line x1="198.20000000000002" y1="403.3" x2="282.3" y2="403.3" stroke="#000" stroke-width="1.3"/>
<text transform="translate(169.0,312) rotate(-90)" x="0" y="3" font-size="8.4" text-anchor="middle" textLength="90.5" lengthAdjust="spacingAndGlyphs" fill="#1a1718" stroke="#1a1718" stroke-width="0.12">Percent cell subpopulation</text>
<rect x="200.50" y="220.90" width="15.90" height="1.20" fill="#e0676b"/>
<rect x="200.50" y="222.10" width="15.90" height="2.50" fill="#c8102e"/>
<rect x="200.50" y="224.60" width="15.90" height="17.90" fill="#eda374"/>
<rect x="200.50" y="242.50" width="15.90" height="1.60" fill="#f3a24a"/>
<rect x="200.50" y="244.10" width="15.90" height="51.00" fill="#f7901c"/>
<rect x="200.50" y="295.10" width="15.90" height="33.60" fill="#d6a1a4"/>
<rect x="200.50" y="328.70" width="15.90" height="44.40" fill="#8a83c3"/>
<rect x="200.50" y="373.10" width="15.90" height="10.60" fill="#4f1c6e"/>
<rect x="200.50" y="383.70" width="15.90" height="15.50" fill="#d4cd9c"/>
<rect x="200.50" y="399.20" width="15.90" height="4.10" fill="#e9c779"/>
<rect x="221.30" y="220.90" width="15.90" height="0.60" fill="#e0676b"/>
<rect x="221.30" y="221.50" width="15.90" height="2.30" fill="#c8102e"/>
<rect x="221.30" y="223.80" width="15.90" height="12.60" fill="#eda374"/>
<rect x="221.30" y="236.40" width="15.90" height="1.60" fill="#f3a24a"/>
<rect x="221.30" y="238.00" width="15.90" height="42.80" fill="#f7901c"/>
<rect x="221.30" y="280.80" width="15.90" height="33.20" fill="#d6a1a4"/>
<rect x="221.30" y="314.00" width="15.90" height="65.00" fill="#8a83c3"/>
<rect x="221.30" y="379.00" width="15.90" height="14.40" fill="#4f1c6e"/>
<rect x="221.30" y="393.40" width="15.90" height="5.60" fill="#d4cd9c"/>
<rect x="221.30" y="399.00" width="15.90" height="4.30" fill="#e9c779"/>
<rect x="241.90" y="220.90" width="15.90" height="2.70" fill="#e0676b"/>
<rect x="241.90" y="223.60" width="15.90" height="4.00" fill="#c8102e"/>
<rect x="241.90" y="227.60" width="15.90" height="9.20" fill="#eda374"/>
<rect x="241.90" y="236.80" width="15.90" height="2.60" fill="#f3a24a"/>
<rect x="241.90" y="239.40" width="15.90" height="38.30" fill="#f7901c"/>
<rect x="241.90" y="277.70" width="15.90" height="31.00" fill="#d6a1a4"/>
<rect x="241.90" y="308.70" width="15.90" height="64.80" fill="#8a83c3"/>
<rect x="241.90" y="373.50" width="15.90" height="14.30" fill="#4f1c6e"/>
<rect x="241.90" y="387.80" width="15.90" height="2.20" fill="#d4cd9c"/>
<rect x="241.90" y="390.00" width="15.90" height="13.30" fill="#e9c779"/>
<rect x="262.70" y="220.90" width="15.90" height="0.60" fill="#e0676b"/>
<rect x="262.70" y="221.50" width="15.90" height="4.10" fill="#c8102e"/>
<rect x="262.70" y="225.60" width="15.90" height="3.20" fill="#eda374"/>
<rect x="262.70" y="228.80" width="15.90" height="2.50" fill="#f3a24a"/>
<rect x="262.70" y="231.30" width="15.90" height="60.30" fill="#f7901c"/>
<rect x="262.70" y="291.60" width="15.90" height="16.70" fill="#d6a1a4"/>
<rect x="262.70" y="308.30" width="15.90" height="68.20" fill="#8a83c3"/>
<rect x="262.70" y="376.50" width="15.90" height="11.30" fill="#4f1c6e"/>
<rect x="262.70" y="387.80" width="15.90" height="2.20" fill="#d4cd9c"/>
<rect x="262.70" y="390.00" width="15.90" height="13.30" fill="#e9c779"/>
<text x="208.45" y="236.60" font-size="8.6" text-anchor="middle" fill="#1a1718" stroke="#1a1718" stroke-width="0.15">10</text>
<text x="208.45" y="272.70" font-size="8.6" text-anchor="middle" fill="#fff" stroke="#fff" stroke-width="0.15">28</text>
<text x="208.45" y="315.00" font-size="8.6" text-anchor="middle" fill="#fff" stroke="#fff" stroke-width="0.15">19</text>
<text x="208.45" y="354.00" font-size="8.6" text-anchor="middle" fill="#fff" stroke="#fff" stroke-width="0.15">24</text>
<text x="208.45" y="381.50" font-size="8.6" text-anchor="middle" fill="#fff" stroke="#fff" stroke-width="0.15">6</text>
<text x="208.45" y="394.60" font-size="8.6" text-anchor="middle" fill="#1a1718" stroke="#1a1718" stroke-width="0.15">9</text>
<text x="229.25" y="233.20" font-size="8.6" text-anchor="middle" fill="#1a1718" stroke="#1a1718" stroke-width="0.15">7</text>
<text x="229.25" y="262.50" font-size="8.6" text-anchor="middle" fill="#fff" stroke="#fff" stroke-width="0.15">24</text>
<text x="229.25" y="300.50" font-size="8.6" text-anchor="middle" fill="#fff" stroke="#fff" stroke-width="0.15">18</text>
<text x="229.25" y="349.60" font-size="8.6" text-anchor="middle" fill="#fff" stroke="#fff" stroke-width="0.15">36</text>
<text x="229.25" y="389.30" font-size="8.6" text-anchor="middle" fill="#fff" stroke="#fff" stroke-width="0.15">8</text>
<text x="249.85" y="235.30" font-size="8.6" text-anchor="middle" fill="#1a1718" stroke="#1a1718" stroke-width="0.15">6</text>
<text x="249.85" y="261.60" font-size="8.6" text-anchor="middle" fill="#fff" stroke="#fff" stroke-width="0.15">21</text>
<text x="249.85" y="296.30" font-size="8.6" text-anchor="middle" fill="#fff" stroke="#fff" stroke-width="0.15">17</text>
<text x="249.85" y="344.20" font-size="8.6" text-anchor="middle" fill="#fff" stroke="#fff" stroke-width="0.15">36</text>
<text x="249.85" y="383.70" font-size="8.6" text-anchor="middle" fill="#fff" stroke="#fff" stroke-width="0.15">8</text>
<text x="249.85" y="399.70" font-size="8.6" text-anchor="middle" fill="#1a1718" stroke="#1a1718" stroke-width="0.15">7</text>
<text x="270.65" y="264.50" font-size="8.6" text-anchor="middle" fill="#fff" stroke="#fff" stroke-width="0.15">33</text>
<text x="270.65" y="303.10" font-size="8.6" text-anchor="middle" fill="#fff" stroke="#fff" stroke-width="0.15">10</text>
<text x="270.65" y="345.50" font-size="8.6" text-anchor="middle" fill="#fff" stroke="#fff" stroke-width="0.15">37</text>
<text x="270.65" y="385.20" font-size="8.6" text-anchor="middle" fill="#fff" stroke="#fff" stroke-width="0.15">6</text>
<text x="270.65" y="399.70" font-size="8.6" text-anchor="middle" fill="#1a1718" stroke="#1a1718" stroke-width="0.15">7</text>
<text x="208.45" y="412.90" font-size="10" text-anchor="middle" textLength="9.3" lengthAdjust="spacingAndGlyphs" fill="#1a1718" stroke="#1a1718" stroke-width="0.15">T1</text>
<text x="208.45" y="421.37" font-size="8.8" text-anchor="middle" fill="#1a1718" stroke="#1a1718" stroke-width="0.15">3</text>
<text x="229.25" y="412.90" font-size="10" text-anchor="middle" textLength="9.3" lengthAdjust="spacingAndGlyphs" fill="#1a1718" stroke="#1a1718" stroke-width="0.15">T2</text>
<text x="229.25" y="421.37" font-size="8.8" text-anchor="middle" fill="#1a1718" stroke="#1a1718" stroke-width="0.15">3</text>
<text x="249.85" y="412.90" font-size="10" text-anchor="middle" textLength="9.3" lengthAdjust="spacingAndGlyphs" fill="#1a1718" stroke="#1a1718" stroke-width="0.15">T1</text>
<text x="249.85" y="421.37" font-size="8.8" text-anchor="middle" fill="#1a1718" stroke="#1a1718" stroke-width="0.15">7</text>
<text x="270.65" y="412.90" font-size="10" text-anchor="middle" textLength="9.3" lengthAdjust="spacingAndGlyphs" fill="#1a1718" stroke="#1a1718" stroke-width="0.15">T2</text>
<text x="270.65" y="421.37" font-size="8.8" text-anchor="middle" fill="#1a1718" stroke="#1a1718" stroke-width="0.15">7</text>
<text x="188.50" y="421.36" font-size="8.5" textLength="9" lengthAdjust="spacingAndGlyphs" fill="#1a1718" stroke="#1a1718" stroke-width="0.15">n=</text>
<path d="M199.8,419.8 L199.8,423 L238.0,423 L238.0,419.8" fill="none" stroke="#000" stroke-width="1"/>
<path d="M241.8,419.8 L241.8,423 L279.3,423 L279.3,419.8" fill="none" stroke="#000" stroke-width="1"/>
<text x="218.90" y="435.91" font-size="10.3" text-anchor="middle" textLength="14.5" lengthAdjust="spacingAndGlyphs" fill="#1a1718" stroke="#1a1718" stroke-width="0.15">MBL</text>
<text x="260.50" y="435.91" font-size="10.3" text-anchor="middle" textLength="12.5" lengthAdjust="spacingAndGlyphs" fill="#1a1718" stroke="#1a1718" stroke-width="0.15">CLL</text>
<rect x="282.30" y="263.10" width="6.80" height="6.80" fill="#e0676b"/>
<text x="292.10" y="269.45" font-size="8.2" textLength="12.9" lengthAdjust="spacingAndGlyphs" fill="#1a1718" stroke="#1a1718" stroke-width="0.15">gdT</text>
<rect x="282.30" y="273.25" width="6.80" height="6.80" fill="#c8102e"/>
<text x="292.10" y="279.60" font-size="8.2" textLength="17.9" lengthAdjust="spacingAndGlyphs" fill="#1a1718" stroke="#1a1718" stroke-width="0.15">MAIT</text>
<rect x="282.30" y="283.40" width="6.80" height="6.80" fill="#eda374"/>
<text x="292.10" y="289.75" font-size="8.2" textLength="34" lengthAdjust="spacingAndGlyphs" fill="#1a1718" stroke="#1a1718" stroke-width="0.15">CD8 naive</text>
<rect x="282.30" y="293.55" width="6.80" height="6.80" fill="#f3a24a"/>
<text x="292.10" y="299.90" font-size="8.2" textLength="33.2" lengthAdjust="spacingAndGlyphs" fill="#1a1718" stroke="#1a1718" stroke-width="0.15">CD8 TCM</text>
<rect x="282.30" y="303.70" width="6.80" height="6.80" fill="#f7901c"/>
<text x="292.10" y="310.05" font-size="8.2" textLength="32.1" lengthAdjust="spacingAndGlyphs" fill="#1a1718" stroke="#1a1718" stroke-width="0.15">CD8 TEM</text>
<rect x="282.30" y="313.85" width="6.80" height="6.80" fill="#d6a1a4"/>
<text x="292.10" y="320.20" font-size="8.2" textLength="34" lengthAdjust="spacingAndGlyphs" fill="#1a1718" stroke="#1a1718" stroke-width="0.15">CD4 naive</text>
<rect x="282.30" y="324.00" width="6.80" height="6.80" fill="#8a83c3"/>
<text x="292.10" y="330.35" font-size="8.2" textLength="33.2" lengthAdjust="spacingAndGlyphs" fill="#1a1718" stroke="#1a1718" stroke-width="0.15">CD4 TCM</text>
<rect x="282.30" y="334.15" width="6.80" height="6.80" fill="#4f1c6e"/>
<text x="292.10" y="340.50" font-size="8.2" textLength="32.1" lengthAdjust="spacingAndGlyphs" fill="#1a1718" stroke="#1a1718" stroke-width="0.15">CD4 TEM</text>
<rect x="282.30" y="344.30" width="6.80" height="6.80" fill="#d4cd9c"/>
<text x="292.10" y="350.65" font-size="8.2" textLength="29.2" lengthAdjust="spacingAndGlyphs" fill="#1a1718" stroke="#1a1718" stroke-width="0.15">CD4 CTL</text>
<rect x="282.30" y="354.45" width="6.80" height="6.80" fill="#e9c779"/>
<text x="292.10" y="360.80" font-size="8.2" textLength="15.7" lengthAdjust="spacingAndGlyphs" fill="#1a1718" stroke="#1a1718" stroke-width="0.15">Treg</text>
<rect x="0.65" y="0.65" width="518.7" height="440.7" fill="none" stroke="#000" stroke-width="1.4"/>
</svg></body></html>
